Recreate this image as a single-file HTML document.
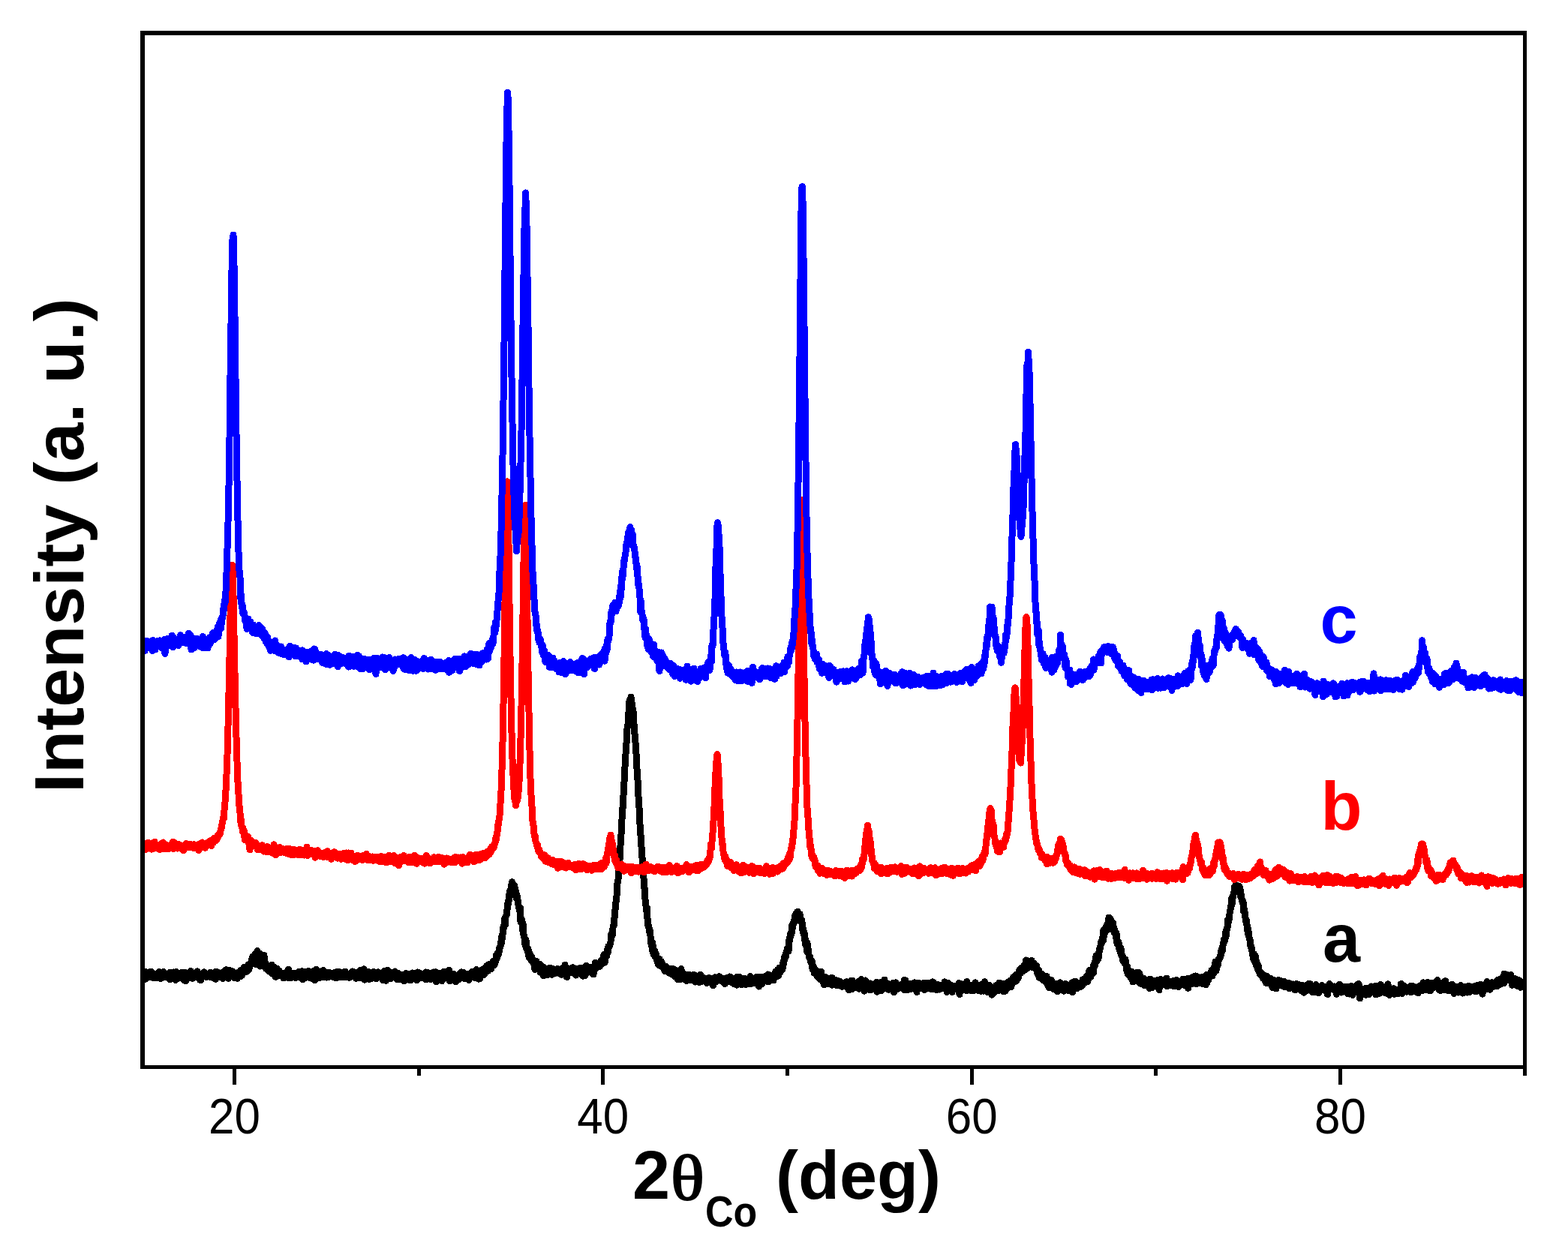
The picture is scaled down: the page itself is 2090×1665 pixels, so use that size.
<!DOCTYPE html>
<html><head><meta charset="utf-8"><style>
html,body{margin:0;padding:0;background:#fff;width:2090px;height:1665px;overflow:hidden}
svg{display:block}
text{font-family:"Liberation Sans",Arial,sans-serif}
</style></head><body>
<svg width="2090" height="1665" viewBox="0 0 2090 1665">
<defs><clipPath id="clip"><rect x="190" y="44" width="1842" height="1378"/></clipPath></defs>
<rect x="0" y="0" width="2090" height="1665" fill="#fff"/>
<g clip-path="url(#clip)" shape-rendering="crispEdges" fill="none" stroke-width="9.0" stroke-linejoin="round" stroke-linecap="round">
<path stroke="#000" d="M190.0,1304.0 L190.5,1299.0 L191.0,1299.6 L191.5,1299.0 L192.0,1302.2 L192.5,1300.4 L193.0,1302.7 L193.5,1295.2 L194.0,1305.1 L194.5,1300.3 L195.0,1302.6 L195.5,1300.3 L196.0,1299.6 L196.5,1302.0 L197.0,1303.1 L197.5,1300.1 L198.0,1300.3 L198.5,1302.8 L199.0,1298.3 L199.5,1296.4 L200.0,1301.9 L200.5,1298.8 L201.0,1295.2 L201.5,1298.4 L202.0,1299.4 L202.5,1297.3 L203.0,1296.5 L203.5,1300.9 L204.0,1303.4 L204.5,1300.1 L205.0,1298.6 L205.5,1301.9 L206.0,1302.8 L206.5,1299.9 L207.0,1302.3 L207.5,1303.8 L208.0,1300.2 L208.5,1298.4 L209.0,1301.8 L209.5,1301.5 L210.0,1303.9 L210.5,1297.0 L211.0,1298.8 L211.5,1298.3 L212.0,1295.7 L212.5,1301.1 L213.0,1302.3 L213.5,1298.6 L214.0,1304.7 L214.5,1303.1 L215.0,1302.5 L215.5,1301.9 L216.0,1303.5 L216.5,1296.8 L217.0,1302.5 L217.5,1302.5 L218.0,1295.6 L218.5,1301.7 L219.0,1300.0 L219.5,1303.0 L220.0,1299.4 L220.5,1300.6 L221.0,1301.7 L221.5,1298.1 L222.0,1302.4 L222.5,1300.4 L223.0,1302.1 L223.5,1299.2 L224.0,1303.8 L224.5,1302.4 L225.0,1300.1 L225.5,1302.5 L226.0,1304.3 L226.5,1305.9 L227.0,1296.1 L227.5,1303.2 L228.0,1302.0 L228.5,1300.4 L229.0,1297.7 L229.5,1304.3 L230.0,1297.0 L230.5,1302.3 L231.0,1304.4 L231.5,1296.0 L232.0,1299.7 L232.5,1296.8 L233.0,1301.3 L233.5,1305.0 L234.0,1306.5 L234.5,1295.5 L235.0,1298.9 L235.5,1302.6 L236.0,1305.2 L236.5,1301.8 L237.0,1298.4 L237.5,1301.5 L238.0,1300.5 L238.5,1300.0 L239.0,1298.5 L239.5,1301.7 L240.0,1301.5 L240.5,1300.3 L241.0,1299.9 L241.5,1296.8 L242.0,1299.2 L242.5,1304.1 L243.0,1300.0 L243.5,1296.4 L244.0,1304.4 L244.5,1302.1 L245.0,1306.7 L245.5,1300.7 L246.0,1299.2 L246.5,1296.3 L247.0,1304.4 L247.5,1308.0 L248.0,1298.1 L248.5,1298.6 L249.0,1302.2 L249.5,1298.1 L250.0,1299.7 L250.5,1299.5 L251.0,1301.1 L251.5,1303.7 L252.0,1300.5 L252.5,1303.1 L253.0,1299.3 L253.5,1301.4 L254.0,1294.3 L254.5,1296.3 L255.0,1302.8 L255.5,1298.7 L256.0,1302.1 L256.5,1302.0 L257.0,1304.3 L257.5,1302.8 L258.0,1303.4 L258.5,1300.1 L259.0,1298.4 L259.5,1298.3 L260.0,1299.0 L260.5,1297.1 L261.0,1298.8 L261.5,1300.1 L262.0,1301.1 L262.5,1299.4 L263.0,1294.8 L263.5,1300.2 L264.0,1301.0 L264.5,1303.5 L265.0,1302.0 L265.5,1298.5 L266.0,1298.3 L266.5,1306.2 L267.0,1302.5 L267.5,1305.7 L268.0,1306.5 L268.5,1298.0 L269.0,1301.4 L269.5,1301.6 L270.0,1301.9 L270.5,1301.9 L271.0,1300.9 L271.5,1300.8 L272.0,1295.9 L272.5,1299.8 L273.0,1298.1 L273.5,1300.6 L274.0,1298.9 L274.5,1302.0 L275.0,1302.6 L275.5,1301.1 L276.0,1301.2 L276.5,1300.5 L277.0,1298.9 L277.5,1299.7 L278.0,1298.8 L278.5,1301.3 L279.0,1300.2 L279.5,1301.9 L280.0,1296.3 L280.5,1302.7 L281.0,1297.9 L281.5,1298.0 L282.0,1299.6 L282.5,1298.5 L283.0,1301.0 L283.5,1298.4 L284.0,1297.0 L284.5,1297.6 L285.0,1303.9 L285.5,1300.2 L286.0,1296.7 L286.5,1300.1 L287.0,1295.5 L287.5,1305.2 L288.0,1295.6 L288.5,1301.4 L289.0,1301.6 L289.5,1295.8 L290.0,1300.8 L290.5,1302.9 L291.0,1301.3 L291.5,1300.7 L292.0,1302.7 L292.5,1300.4 L293.0,1300.9 L293.5,1299.5 L294.0,1301.7 L294.5,1297.1 L295.0,1302.1 L295.5,1298.4 L296.0,1296.7 L296.5,1300.9 L297.0,1304.7 L297.5,1302.6 L298.0,1298.3 L298.5,1301.8 L299.0,1298.4 L299.5,1299.3 L300.0,1299.9 L300.5,1292.9 L301.0,1300.2 L301.5,1296.6 L302.0,1292.9 L302.5,1295.3 L303.0,1295.1 L303.5,1296.8 L304.0,1301.9 L304.5,1304.3 L305.0,1299.4 L305.5,1302.6 L306.0,1298.6 L306.5,1293.8 L307.0,1299.8 L307.5,1300.6 L308.0,1298.0 L308.5,1300.1 L309.0,1300.9 L309.5,1296.7 L310.0,1294.8 L310.5,1298.4 L311.0,1298.4 L311.5,1298.0 L312.0,1301.8 L312.5,1303.9 L313.0,1297.6 L313.5,1300.8 L314.0,1301.4 L314.5,1300.7 L315.0,1301.6 L315.5,1297.4 L316.0,1300.6 L316.5,1304.2 L317.0,1300.6 L317.5,1296.3 L318.0,1299.8 L318.5,1301.6 L319.0,1298.8 L319.5,1296.0 L320.0,1302.0 L320.5,1293.7 L321.0,1298.6 L321.5,1296.9 L322.0,1293.3 L322.5,1300.1 L323.0,1297.3 L323.5,1292.7 L324.0,1297.5 L324.5,1294.2 L325.0,1289.6 L325.5,1292.8 L326.0,1295.2 L326.5,1295.9 L327.0,1294.1 L327.5,1293.3 L328.0,1294.1 L328.5,1291.6 L329.0,1295.1 L329.5,1291.6 L330.0,1291.4 L330.5,1291.5 L331.0,1286.2 L331.5,1286.6 L332.0,1292.3 L332.5,1288.2 L333.0,1285.6 L333.5,1286.7 L334.0,1283.5 L334.5,1284.9 L335.0,1281.3 L335.5,1283.2 L336.0,1277.0 L336.5,1284.6 L337.0,1278.5 L337.5,1274.5 L338.0,1277.7 L338.5,1276.4 L339.0,1277.2 L339.5,1272.7 L340.0,1276.5 L340.5,1285.2 L341.0,1270.5 L341.5,1274.7 L342.0,1272.4 L342.5,1273.5 L343.0,1267.4 L343.5,1269.2 L344.0,1273.8 L344.5,1272.4 L345.0,1277.4 L345.5,1270.9 L346.0,1273.8 L346.5,1288.1 L347.0,1271.9 L347.5,1272.1 L348.0,1275.2 L348.5,1275.9 L349.0,1279.2 L349.5,1277.8 L350.0,1276.1 L350.5,1279.7 L351.0,1287.5 L351.5,1284.4 L352.0,1273.5 L352.5,1282.0 L353.0,1280.7 L353.5,1285.8 L354.0,1284.3 L354.5,1291.2 L355.0,1289.1 L355.5,1289.7 L356.0,1288.3 L356.5,1288.4 L357.0,1290.2 L357.5,1293.6 L358.0,1292.0 L358.5,1290.0 L359.0,1295.2 L359.5,1292.6 L360.0,1292.3 L360.5,1290.7 L361.0,1291.8 L361.5,1292.0 L362.0,1286.2 L362.5,1297.6 L363.0,1296.6 L363.5,1294.7 L364.0,1298.6 L364.5,1297.1 L365.0,1297.2 L365.5,1289.2 L366.0,1295.9 L366.5,1298.3 L367.0,1301.6 L367.5,1302.4 L368.0,1301.4 L368.5,1294.0 L369.0,1291.2 L369.5,1299.3 L370.0,1297.9 L370.5,1300.7 L371.0,1297.6 L371.5,1298.7 L372.0,1293.8 L372.5,1299.5 L373.0,1297.0 L373.5,1299.4 L374.0,1299.8 L374.5,1298.2 L375.0,1299.5 L375.5,1298.6 L376.0,1300.8 L376.5,1300.1 L377.0,1297.1 L377.5,1297.1 L378.0,1303.9 L378.5,1298.6 L379.0,1301.8 L379.5,1300.1 L380.0,1297.3 L380.5,1296.8 L381.0,1299.3 L381.5,1299.8 L382.0,1300.8 L382.5,1295.4 L383.0,1297.4 L383.5,1298.8 L384.0,1303.8 L384.5,1292.3 L385.0,1300.4 L385.5,1297.6 L386.0,1300.5 L386.5,1297.8 L387.0,1300.3 L387.5,1303.8 L388.0,1300.3 L388.5,1300.5 L389.0,1300.4 L389.5,1297.1 L390.0,1300.9 L390.5,1298.7 L391.0,1297.0 L391.5,1299.3 L392.0,1298.7 L392.5,1301.6 L393.0,1299.3 L393.5,1297.9 L394.0,1303.6 L394.5,1302.3 L395.0,1303.1 L395.5,1301.2 L396.0,1299.1 L396.5,1298.3 L397.0,1298.7 L397.5,1302.2 L398.0,1299.8 L398.5,1295.2 L399.0,1299.4 L399.5,1295.4 L400.0,1300.0 L400.5,1296.0 L401.0,1295.9 L401.5,1299.9 L402.0,1299.3 L402.5,1294.7 L403.0,1301.7 L403.5,1305.8 L404.0,1295.3 L404.5,1304.8 L405.0,1297.6 L405.5,1298.1 L406.0,1299.1 L406.5,1295.4 L407.0,1303.4 L407.5,1301.0 L408.0,1297.4 L408.5,1298.8 L409.0,1295.2 L409.5,1298.6 L410.0,1302.3 L410.5,1294.6 L411.0,1298.3 L411.5,1300.0 L412.0,1302.7 L412.5,1303.5 L413.0,1298.3 L413.5,1297.5 L414.0,1300.9 L414.5,1298.6 L415.0,1298.7 L415.5,1302.8 L416.0,1304.5 L416.5,1300.4 L417.0,1299.1 L417.5,1301.3 L418.0,1294.2 L418.5,1299.6 L419.0,1296.6 L419.5,1306.6 L420.0,1301.7 L420.5,1300.1 L421.0,1299.1 L421.5,1292.3 L422.0,1301.7 L422.5,1304.4 L423.0,1297.5 L423.5,1301.6 L424.0,1301.7 L424.5,1295.2 L425.0,1302.4 L425.5,1303.6 L426.0,1300.3 L426.5,1299.5 L427.0,1301.9 L427.5,1295.2 L428.0,1299.9 L428.5,1302.7 L429.0,1296.0 L429.5,1302.5 L430.0,1298.4 L430.5,1293.6 L431.0,1299.3 L431.5,1296.8 L432.0,1300.6 L432.5,1296.2 L433.0,1302.7 L433.5,1297.5 L434.0,1300.7 L434.5,1297.9 L435.0,1298.7 L435.5,1303.1 L436.0,1300.3 L436.5,1298.5 L437.0,1296.0 L437.5,1303.0 L438.0,1301.8 L438.5,1298.7 L439.0,1300.3 L439.5,1296.6 L440.0,1296.7 L440.5,1297.2 L441.0,1300.6 L441.5,1300.5 L442.0,1297.5 L442.5,1301.8 L443.0,1301.9 L443.5,1300.1 L444.0,1302.6 L444.5,1298.8 L445.0,1299.3 L445.5,1301.0 L446.0,1299.5 L446.5,1301.9 L447.0,1296.0 L447.5,1303.7 L448.0,1297.3 L448.5,1299.1 L449.0,1295.6 L449.5,1301.3 L450.0,1303.3 L450.5,1302.7 L451.0,1302.0 L451.5,1295.1 L452.0,1297.3 L452.5,1298.2 L453.0,1296.9 L453.5,1302.8 L454.0,1300.1 L454.5,1299.5 L455.0,1301.0 L455.5,1296.8 L456.0,1296.9 L456.5,1297.0 L457.0,1301.0 L457.5,1300.6 L458.0,1301.2 L458.5,1302.7 L459.0,1295.6 L459.5,1297.9 L460.0,1300.0 L460.5,1295.6 L461.0,1298.0 L461.5,1302.5 L462.0,1302.7 L462.5,1302.7 L463.0,1299.7 L463.5,1298.9 L464.0,1302.7 L464.5,1298.4 L465.0,1300.5 L465.5,1303.4 L466.0,1298.5 L466.5,1297.7 L467.0,1299.5 L467.5,1301.2 L468.0,1300.9 L468.5,1300.0 L469.0,1301.1 L469.5,1294.9 L470.0,1297.0 L470.5,1300.0 L471.0,1296.8 L471.5,1295.6 L472.0,1296.0 L472.5,1296.8 L473.0,1299.0 L473.5,1296.5 L474.0,1300.2 L474.5,1304.4 L475.0,1299.0 L475.5,1303.2 L476.0,1300.3 L476.5,1296.2 L477.0,1298.7 L477.5,1296.6 L478.0,1301.7 L478.5,1296.1 L479.0,1303.3 L479.5,1301.1 L480.0,1293.6 L480.5,1301.7 L481.0,1303.9 L481.5,1297.1 L482.0,1302.3 L482.5,1294.2 L483.0,1300.1 L483.5,1294.6 L484.0,1300.8 L484.5,1294.2 L485.0,1291.8 L485.5,1300.6 L486.0,1306.1 L486.5,1297.7 L487.0,1301.9 L487.5,1299.8 L488.0,1298.5 L488.5,1301.3 L489.0,1304.3 L489.5,1295.9 L490.0,1301.2 L490.5,1300.6 L491.0,1295.4 L491.5,1304.3 L492.0,1305.3 L492.5,1296.9 L493.0,1304.7 L493.5,1299.8 L494.0,1299.2 L494.5,1304.0 L495.0,1300.3 L495.5,1300.6 L496.0,1304.1 L496.5,1303.5 L497.0,1302.3 L497.5,1295.7 L498.0,1295.2 L498.5,1303.1 L499.0,1297.1 L499.5,1300.2 L500.0,1296.7 L500.5,1299.3 L501.0,1296.1 L501.5,1304.6 L502.0,1296.9 L502.5,1299.5 L503.0,1299.4 L503.5,1303.4 L504.0,1295.8 L504.5,1299.9 L505.0,1299.4 L505.5,1301.5 L506.0,1301.4 L506.5,1298.7 L507.0,1300.7 L507.5,1298.9 L508.0,1301.4 L508.5,1299.8 L509.0,1298.2 L509.5,1300.0 L510.0,1301.2 L510.5,1306.7 L511.0,1298.7 L511.5,1301.0 L512.0,1304.4 L512.5,1294.1 L513.0,1295.1 L513.5,1296.7 L514.0,1299.9 L514.5,1307.3 L515.0,1301.4 L515.5,1303.7 L516.0,1299.6 L516.5,1293.1 L517.0,1293.6 L517.5,1303.3 L518.0,1300.8 L518.5,1296.6 L519.0,1303.6 L519.5,1295.9 L520.0,1303.7 L520.5,1304.6 L521.0,1298.2 L521.5,1297.2 L522.0,1302.9 L522.5,1297.2 L523.0,1302.9 L523.5,1297.0 L524.0,1302.8 L524.5,1300.7 L525.0,1299.2 L525.5,1297.9 L526.0,1301.2 L526.5,1295.0 L527.0,1299.7 L527.5,1299.4 L528.0,1302.5 L528.5,1296.9 L529.0,1305.6 L529.5,1299.7 L530.0,1297.3 L530.5,1304.6 L531.0,1305.5 L531.5,1300.1 L532.0,1298.1 L532.5,1300.7 L533.0,1298.7 L533.5,1299.8 L534.0,1305.2 L534.5,1301.9 L535.0,1301.1 L535.5,1301.7 L536.0,1300.6 L536.5,1303.2 L537.0,1303.3 L537.5,1299.7 L538.0,1301.1 L538.5,1307.8 L539.0,1302.0 L539.5,1300.3 L540.0,1306.8 L540.5,1300.9 L541.0,1297.7 L541.5,1302.8 L542.0,1298.3 L542.5,1299.5 L543.0,1301.8 L543.5,1300.5 L544.0,1298.7 L544.5,1299.3 L545.0,1299.2 L545.5,1304.3 L546.0,1298.9 L546.5,1299.3 L547.0,1306.9 L547.5,1299.4 L548.0,1305.3 L548.5,1304.8 L549.0,1300.6 L549.5,1296.9 L550.0,1302.4 L550.5,1303.0 L551.0,1303.9 L551.5,1301.3 L552.0,1304.6 L552.5,1305.1 L553.0,1298.0 L553.5,1305.3 L554.0,1301.6 L554.5,1299.5 L555.0,1300.2 L555.5,1306.6 L556.0,1304.0 L556.5,1296.0 L557.0,1301.4 L557.5,1300.8 L558.0,1300.7 L558.5,1299.7 L559.0,1297.0 L559.5,1303.7 L560.0,1298.5 L560.5,1300.2 L561.0,1299.5 L561.5,1299.1 L562.0,1303.4 L562.5,1302.4 L563.0,1299.3 L563.5,1298.5 L564.0,1299.9 L564.5,1304.1 L565.0,1301.7 L565.5,1302.0 L566.0,1300.4 L566.5,1300.6 L567.0,1302.0 L567.5,1296.0 L568.0,1306.0 L568.5,1299.1 L569.0,1299.7 L569.5,1305.2 L570.0,1302.0 L570.5,1301.5 L571.0,1299.7 L571.5,1296.9 L572.0,1301.9 L572.5,1304.9 L573.0,1298.8 L573.5,1305.4 L574.0,1298.1 L574.5,1299.3 L575.0,1302.9 L575.5,1301.4 L576.0,1303.4 L576.5,1299.3 L577.0,1298.4 L577.5,1296.0 L578.0,1298.0 L578.5,1298.3 L579.0,1297.3 L579.5,1302.4 L580.0,1299.5 L580.5,1295.7 L581.0,1308.7 L581.5,1299.0 L582.0,1297.8 L582.5,1305.1 L583.0,1304.9 L583.5,1298.1 L584.0,1297.2 L584.5,1298.6 L585.0,1304.8 L585.5,1300.6 L586.0,1299.1 L586.5,1301.4 L587.0,1305.0 L587.5,1297.5 L588.0,1300.4 L588.5,1297.5 L589.0,1307.8 L589.5,1306.8 L590.0,1304.2 L590.5,1301.1 L591.0,1303.4 L591.5,1295.4 L592.0,1302.3 L592.5,1297.6 L593.0,1297.6 L593.5,1299.4 L594.0,1300.5 L594.5,1303.1 L595.0,1303.5 L595.5,1302.2 L596.0,1298.7 L596.5,1303.4 L597.0,1301.1 L597.5,1304.9 L598.0,1298.8 L598.5,1293.4 L599.0,1300.0 L599.5,1307.7 L600.0,1302.8 L600.5,1300.8 L601.0,1304.0 L601.5,1302.8 L602.0,1302.7 L602.5,1299.9 L603.0,1301.6 L603.5,1301.9 L604.0,1299.5 L604.5,1298.1 L605.0,1301.7 L605.5,1304.1 L606.0,1303.2 L606.5,1302.7 L607.0,1302.7 L607.5,1308.7 L608.0,1302.0 L608.5,1304.2 L609.0,1306.9 L609.5,1301.3 L610.0,1301.9 L610.5,1304.2 L611.0,1306.0 L611.5,1302.0 L612.0,1302.2 L612.5,1301.3 L613.0,1297.6 L613.5,1304.3 L614.0,1300.3 L614.5,1296.0 L615.0,1300.5 L615.5,1295.9 L616.0,1298.0 L616.5,1301.0 L617.0,1298.2 L617.5,1304.0 L618.0,1296.6 L618.5,1301.6 L619.0,1302.4 L619.5,1305.0 L620.0,1303.4 L620.5,1301.4 L621.0,1300.9 L621.5,1300.4 L622.0,1303.9 L622.5,1298.6 L623.0,1302.0 L623.5,1300.2 L624.0,1301.1 L624.5,1299.6 L625.0,1306.5 L625.5,1298.4 L626.0,1301.0 L626.5,1301.0 L627.0,1301.9 L627.5,1301.4 L628.0,1301.3 L628.5,1302.8 L629.0,1295.5 L629.5,1299.8 L630.0,1296.1 L630.5,1300.3 L631.0,1296.1 L631.5,1296.6 L632.0,1299.1 L632.5,1303.3 L633.0,1300.8 L633.5,1299.9 L634.0,1303.0 L634.5,1296.1 L635.0,1292.6 L635.5,1297.3 L636.0,1297.7 L636.5,1301.9 L637.0,1304.4 L637.5,1294.2 L638.0,1305.1 L638.5,1302.4 L639.0,1300.1 L639.5,1298.6 L640.0,1304.4 L640.5,1297.5 L641.0,1295.7 L641.5,1297.3 L642.0,1292.8 L642.5,1297.9 L643.0,1296.1 L643.5,1297.2 L644.0,1297.1 L644.5,1292.7 L645.0,1299.4 L645.5,1292.4 L646.0,1297.7 L646.5,1290.3 L647.0,1295.7 L647.5,1292.0 L648.0,1294.3 L648.5,1292.0 L649.0,1287.2 L649.5,1290.0 L650.0,1293.1 L650.5,1294.4 L651.0,1287.9 L651.5,1285.6 L652.0,1288.8 L652.5,1290.3 L653.0,1288.6 L653.5,1287.6 L654.0,1291.9 L654.5,1291.7 L655.0,1290.5 L655.5,1285.0 L656.0,1287.3 L656.5,1285.8 L657.0,1281.5 L657.5,1287.4 L658.0,1284.3 L658.5,1281.8 L659.0,1286.4 L659.5,1283.5 L660.0,1282.8 L660.5,1282.7 L661.0,1280.1 L661.5,1273.2 L662.0,1274.5 L662.5,1277.2 L663.0,1270.6 L663.5,1271.5 L664.0,1271.0 L664.5,1272.4 L665.0,1270.2 L665.5,1267.3 L666.0,1262.3 L666.5,1263.6 L667.0,1260.4 L667.5,1256.3 L668.0,1258.6 L668.5,1253.8 L669.0,1247.8 L669.5,1251.3 L670.0,1244.4 L670.5,1244.3 L671.0,1235.6 L671.5,1237.3 L672.0,1231.8 L672.5,1229.0 L673.0,1223.4 L673.5,1232.3 L674.0,1222.8 L674.5,1221.0 L675.0,1220.6 L675.5,1214.1 L676.0,1213.0 L676.5,1204.7 L677.0,1206.4 L677.5,1201.8 L678.0,1201.8 L678.5,1198.3 L679.0,1191.3 L679.5,1187.7 L680.0,1188.0 L680.5,1191.1 L681.0,1188.5 L681.5,1186.9 L682.0,1178.6 L682.5,1175.7 L683.0,1180.9 L683.5,1181.3 L684.0,1180.4 L684.5,1183.3 L685.0,1182.2 L685.5,1179.9 L686.0,1181.7 L686.5,1185.9 L687.0,1187.2 L687.5,1188.5 L688.0,1197.1 L688.5,1191.9 L689.0,1195.3 L689.5,1194.4 L690.0,1198.8 L690.5,1204.0 L691.0,1206.8 L691.5,1207.5 L692.0,1211.9 L692.5,1213.8 L693.0,1211.1 L693.5,1209.9 L694.0,1229.0 L694.5,1227.6 L695.0,1227.8 L695.5,1225.7 L696.0,1229.8 L696.5,1240.1 L697.0,1230.7 L697.5,1240.5 L698.0,1246.4 L698.5,1246.7 L699.0,1250.9 L699.5,1250.6 L700.0,1260.1 L700.5,1252.3 L701.0,1253.4 L701.5,1260.1 L702.0,1265.4 L702.5,1262.9 L703.0,1267.8 L703.5,1264.9 L704.0,1264.6 L704.5,1273.6 L705.0,1275.5 L705.5,1276.7 L706.0,1277.6 L706.5,1271.5 L707.0,1272.6 L707.5,1276.4 L708.0,1279.8 L708.5,1280.6 L709.0,1275.9 L709.5,1281.5 L710.0,1281.8 L710.5,1282.7 L711.0,1283.1 L711.5,1283.3 L712.0,1286.3 L712.5,1285.5 L713.0,1292.3 L713.5,1284.2 L714.0,1287.9 L714.5,1286.9 L715.0,1281.5 L715.5,1289.5 L716.0,1287.7 L716.5,1291.5 L717.0,1288.7 L717.5,1289.2 L718.0,1290.4 L718.5,1290.0 L719.0,1289.0 L719.5,1285.4 L720.0,1296.1 L720.5,1286.5 L721.0,1290.2 L721.5,1293.3 L722.0,1292.7 L722.5,1293.4 L723.0,1294.2 L723.5,1295.8 L724.0,1293.1 L724.5,1300.8 L725.0,1289.6 L725.5,1293.3 L726.0,1291.8 L726.5,1291.3 L727.0,1293.9 L727.5,1297.4 L728.0,1291.2 L728.5,1291.3 L729.0,1295.5 L729.5,1295.1 L730.0,1299.3 L730.5,1296.7 L731.0,1294.5 L731.5,1292.9 L732.0,1294.6 L732.5,1293.5 L733.0,1290.2 L733.5,1294.2 L734.0,1293.8 L734.5,1293.7 L735.0,1293.2 L735.5,1299.4 L736.0,1296.6 L736.5,1297.3 L737.0,1292.9 L737.5,1291.7 L738.0,1293.9 L738.5,1295.5 L739.0,1293.8 L739.5,1294.3 L740.0,1297.7 L740.5,1295.8 L741.0,1292.2 L741.5,1293.8 L742.0,1293.2 L742.5,1295.6 L743.0,1291.7 L743.5,1294.6 L744.0,1297.2 L744.5,1295.3 L745.0,1292.6 L745.5,1293.5 L746.0,1295.6 L746.5,1296.7 L747.0,1297.7 L747.5,1294.9 L748.0,1291.5 L748.5,1299.4 L749.0,1296.2 L749.5,1296.5 L750.0,1296.2 L750.5,1292.3 L751.0,1294.4 L751.5,1296.1 L752.0,1298.3 L752.5,1295.5 L753.0,1286.2 L753.5,1294.6 L754.0,1296.3 L754.5,1299.0 L755.0,1297.3 L755.5,1302.5 L756.0,1299.3 L756.5,1299.1 L757.0,1297.9 L757.5,1291.1 L758.0,1297.6 L758.5,1296.8 L759.0,1293.5 L759.5,1296.7 L760.0,1296.2 L760.5,1293.7 L761.0,1294.7 L761.5,1294.4 L762.0,1295.9 L762.5,1294.0 L763.0,1296.9 L763.5,1289.8 L764.0,1294.6 L764.5,1290.5 L765.0,1294.0 L765.5,1297.0 L766.0,1295.6 L766.5,1295.2 L767.0,1295.8 L767.5,1300.1 L768.0,1292.4 L768.5,1298.2 L769.0,1291.3 L769.5,1294.3 L770.0,1296.1 L770.5,1293.2 L771.0,1296.3 L771.5,1297.8 L772.0,1292.2 L772.5,1295.5 L773.0,1294.6 L773.5,1290.1 L774.0,1295.1 L774.5,1293.4 L775.0,1299.5 L775.5,1293.1 L776.0,1300.5 L776.5,1294.0 L777.0,1301.2 L777.5,1297.1 L778.0,1290.4 L778.5,1297.8 L779.0,1298.0 L779.5,1299.4 L780.0,1300.4 L780.5,1294.3 L781.0,1291.6 L781.5,1287.4 L782.0,1294.0 L782.5,1297.2 L783.0,1296.0 L783.5,1295.2 L784.0,1293.8 L784.5,1292.8 L785.0,1293.8 L785.5,1295.5 L786.0,1289.1 L786.5,1296.1 L787.0,1289.6 L787.5,1293.1 L788.0,1291.5 L788.5,1292.1 L789.0,1289.9 L789.5,1289.3 L790.0,1291.7 L790.5,1289.0 L791.0,1299.0 L791.5,1290.4 L792.0,1289.4 L792.5,1289.4 L793.0,1287.6 L793.5,1283.3 L794.0,1289.3 L794.5,1290.6 L795.0,1285.0 L795.5,1289.1 L796.0,1285.2 L796.5,1288.2 L797.0,1288.9 L797.5,1288.9 L798.0,1288.3 L798.5,1284.6 L799.0,1288.7 L799.5,1284.4 L800.0,1286.2 L800.5,1286.7 L801.0,1283.3 L801.5,1279.8 L802.0,1284.8 L802.5,1279.1 L803.0,1279.1 L803.5,1277.8 L804.0,1282.8 L804.5,1279.1 L805.0,1272.3 L805.5,1280.1 L806.0,1283.1 L806.5,1281.4 L807.0,1273.5 L807.5,1274.4 L808.0,1274.5 L808.5,1274.5 L809.0,1270.8 L809.5,1266.2 L810.0,1270.2 L810.5,1268.3 L811.0,1261.2 L811.5,1262.3 L812.0,1262.4 L812.5,1259.8 L813.0,1259.4 L813.5,1258.1 L814.0,1255.1 L814.5,1250.9 L815.0,1244.8 L815.5,1247.9 L816.0,1247.3 L816.5,1246.0 L817.0,1237.1 L817.5,1233.8 L818.0,1234.6 L818.5,1230.8 L819.0,1223.8 L819.5,1220.7 L820.0,1212.1 L820.5,1211.5 L821.0,1202.6 L821.5,1199.6 L822.0,1194.4 L822.5,1188.0 L823.0,1177.5 L823.5,1175.2 L824.0,1172.4 L824.5,1164.8 L825.0,1157.1 L825.5,1152.5 L826.0,1146.1 L826.5,1139.1 L827.0,1126.7 L827.5,1121.2 L828.0,1112.1 L828.5,1102.2 L829.0,1092.0 L829.5,1087.4 L830.0,1076.4 L830.5,1076.3 L831.0,1060.8 L831.5,1051.4 L832.0,1041.8 L832.5,1039.4 L833.0,1022.2 L833.5,1015.6 L834.0,1005.1 L834.5,998.4 L835.0,990.4 L835.5,985.8 L836.0,970.9 L836.5,967.9 L837.0,966.1 L837.5,953.9 L838.0,949.5 L838.5,942.9 L839.0,934.0 L839.5,938.2 L840.0,939.7 L840.5,933.6 L841.0,929.2 L841.5,935.8 L842.0,936.6 L842.5,941.5 L843.0,944.3 L843.5,944.7 L844.0,951.3 L844.5,950.3 L845.0,964.8 L845.5,968.7 L846.0,978.4 L846.5,985.9 L847.0,989.9 L847.5,998.6 L848.0,1005.0 L848.5,1010.3 L849.0,1024.9 L849.5,1034.7 L850.0,1040.2 L850.5,1054.5 L851.0,1061.7 L851.5,1071.7 L852.0,1077.1 L852.5,1083.0 L853.0,1099.0 L853.5,1107.0 L854.0,1113.2 L854.5,1120.4 L855.0,1128.7 L855.5,1136.8 L856.0,1143.2 L856.5,1146.0 L857.0,1161.1 L857.5,1161.2 L858.0,1171.1 L858.5,1177.4 L859.0,1185.0 L859.5,1185.3 L860.0,1199.0 L860.5,1202.6 L861.0,1208.0 L861.5,1214.2 L862.0,1212.8 L862.5,1210.4 L863.0,1224.5 L863.5,1231.3 L864.0,1234.6 L864.5,1233.2 L865.0,1237.8 L865.5,1242.0 L866.0,1238.9 L866.5,1245.1 L867.0,1247.8 L867.5,1256.8 L868.0,1252.6 L868.5,1261.3 L869.0,1258.9 L869.5,1256.0 L870.0,1269.2 L870.5,1261.7 L871.0,1267.9 L871.5,1272.7 L872.0,1267.6 L872.5,1267.0 L873.0,1274.9 L873.5,1273.3 L874.0,1270.7 L874.5,1272.3 L875.0,1275.3 L875.5,1280.3 L876.0,1277.6 L876.5,1281.2 L877.0,1284.9 L877.5,1284.6 L878.0,1285.9 L878.5,1286.0 L879.0,1278.5 L879.5,1287.4 L880.0,1285.4 L880.5,1284.7 L881.0,1282.5 L881.5,1281.6 L882.0,1283.5 L882.5,1287.2 L883.0,1284.4 L883.5,1285.9 L884.0,1286.9 L884.5,1291.1 L885.0,1288.7 L885.5,1289.6 L886.0,1294.3 L886.5,1289.9 L887.0,1292.9 L887.5,1288.5 L888.0,1292.8 L888.5,1292.6 L889.0,1293.1 L889.5,1291.5 L890.0,1290.2 L890.5,1292.6 L891.0,1292.4 L891.5,1297.1 L892.0,1297.0 L892.5,1291.2 L893.0,1296.7 L893.5,1293.8 L894.0,1296.7 L894.5,1294.3 L895.0,1291.6 L895.5,1299.1 L896.0,1297.7 L896.5,1293.0 L897.0,1291.3 L897.5,1295.5 L898.0,1293.8 L898.5,1296.4 L899.0,1299.4 L899.5,1302.1 L900.0,1297.0 L900.5,1302.2 L901.0,1301.7 L901.5,1297.3 L902.0,1293.9 L902.5,1301.3 L903.0,1300.8 L903.5,1306.0 L904.0,1303.5 L904.5,1301.8 L905.0,1304.6 L905.5,1296.8 L906.0,1300.5 L906.5,1299.3 L907.0,1305.3 L907.5,1302.0 L908.0,1291.6 L908.5,1304.6 L909.0,1298.1 L909.5,1303.1 L910.0,1299.6 L910.5,1301.8 L911.0,1303.1 L911.5,1301.9 L912.0,1298.7 L912.5,1305.7 L913.0,1302.9 L913.5,1301.8 L914.0,1304.0 L914.5,1300.5 L915.0,1307.6 L915.5,1302.9 L916.0,1303.4 L916.5,1303.4 L917.0,1299.9 L917.5,1299.2 L918.0,1303.3 L918.5,1303.8 L919.0,1306.8 L919.5,1304.3 L920.0,1299.9 L920.5,1304.6 L921.0,1305.6 L921.5,1306.2 L922.0,1304.3 L922.5,1299.9 L923.0,1306.9 L923.5,1301.5 L924.0,1305.3 L924.5,1299.2 L925.0,1306.0 L925.5,1301.6 L926.0,1307.1 L926.5,1309.1 L927.0,1307.4 L927.5,1300.7 L928.0,1301.4 L928.5,1301.7 L929.0,1306.2 L929.5,1305.4 L930.0,1304.9 L930.5,1305.4 L931.0,1306.2 L931.5,1306.5 L932.0,1309.5 L932.5,1304.5 L933.0,1305.3 L933.5,1299.4 L934.0,1301.0 L934.5,1302.9 L935.0,1301.5 L935.5,1305.6 L936.0,1308.1 L936.5,1303.8 L937.0,1303.7 L937.5,1303.7 L938.0,1305.6 L938.5,1303.7 L939.0,1306.5 L939.5,1306.2 L940.0,1306.4 L940.5,1307.6 L941.0,1305.6 L941.5,1305.9 L942.0,1310.6 L942.5,1305.5 L943.0,1307.9 L943.5,1305.8 L944.0,1304.4 L944.5,1304.4 L945.0,1303.4 L945.5,1305.8 L946.0,1304.1 L946.5,1304.6 L947.0,1309.4 L947.5,1305.5 L948.0,1309.3 L948.5,1306.8 L949.0,1308.5 L949.5,1304.3 L950.0,1306.5 L950.5,1313.8 L951.0,1308.6 L951.5,1309.1 L952.0,1306.9 L952.5,1308.8 L953.0,1302.9 L953.5,1303.9 L954.0,1307.6 L954.5,1308.8 L955.0,1305.2 L955.5,1305.9 L956.0,1305.4 L956.5,1306.0 L957.0,1303.1 L957.5,1302.4 L958.0,1306.4 L958.5,1301.6 L959.0,1303.8 L959.5,1304.8 L960.0,1303.7 L960.5,1307.4 L961.0,1305.5 L961.5,1306.5 L962.0,1303.9 L962.5,1304.7 L963.0,1308.3 L963.5,1307.9 L964.0,1305.5 L964.5,1308.0 L965.0,1307.5 L965.5,1307.4 L966.0,1311.6 L966.5,1305.8 L967.0,1308.2 L967.5,1308.3 L968.0,1306.4 L968.5,1303.7 L969.0,1309.1 L969.5,1307.9 L970.0,1307.3 L970.5,1307.2 L971.0,1307.2 L971.5,1304.6 L972.0,1308.0 L972.5,1302.0 L973.0,1307.1 L973.5,1302.9 L974.0,1306.2 L974.5,1309.3 L975.0,1306.5 L975.5,1305.9 L976.0,1308.8 L976.5,1306.5 L977.0,1306.1 L977.5,1306.2 L978.0,1311.7 L978.5,1309.3 L979.0,1308.7 L979.5,1303.9 L980.0,1309.2 L980.5,1303.6 L981.0,1308.8 L981.5,1304.2 L982.0,1313.1 L982.5,1302.5 L983.0,1311.0 L983.5,1309.7 L984.0,1302.3 L984.5,1306.7 L985.0,1311.6 L985.5,1310.7 L986.0,1302.6 L986.5,1305.9 L987.0,1304.0 L987.5,1304.5 L988.0,1305.6 L988.5,1312.8 L989.0,1307.8 L989.5,1306.8 L990.0,1306.5 L990.5,1309.4 L991.0,1309.5 L991.5,1304.8 L992.0,1311.7 L992.5,1304.3 L993.0,1306.6 L993.5,1308.7 L994.0,1312.4 L994.5,1306.4 L995.0,1308.3 L995.5,1311.2 L996.0,1309.2 L996.5,1310.7 L997.0,1310.4 L997.5,1308.1 L998.0,1309.2 L998.5,1310.0 L999.0,1307.3 L999.5,1312.0 L1000.0,1301.6 L1000.5,1304.6 L1001.0,1311.5 L1001.5,1308.5 L1002.0,1305.4 L1002.5,1308.3 L1003.0,1310.4 L1003.5,1305.6 L1004.0,1309.4 L1004.5,1306.8 L1005.0,1306.8 L1005.5,1306.9 L1006.0,1310.3 L1006.5,1303.8 L1007.0,1306.0 L1007.5,1308.9 L1008.0,1303.4 L1008.5,1302.3 L1009.0,1308.5 L1009.5,1306.9 L1010.0,1306.4 L1010.5,1307.2 L1011.0,1303.9 L1011.5,1315.1 L1012.0,1303.8 L1012.5,1305.3 L1013.0,1302.4 L1013.5,1305.3 L1014.0,1310.9 L1014.5,1306.4 L1015.0,1308.1 L1015.5,1304.9 L1016.0,1311.5 L1016.5,1306.6 L1017.0,1302.5 L1017.5,1308.2 L1018.0,1304.9 L1018.5,1307.6 L1019.0,1306.2 L1019.5,1306.4 L1020.0,1306.0 L1020.5,1302.9 L1021.0,1301.0 L1021.5,1308.1 L1022.0,1304.8 L1022.5,1305.9 L1023.0,1303.6 L1023.5,1299.0 L1024.0,1301.0 L1024.5,1308.6 L1025.0,1302.1 L1025.5,1303.2 L1026.0,1299.9 L1026.5,1302.4 L1027.0,1302.7 L1027.5,1302.9 L1028.0,1303.1 L1028.5,1301.3 L1029.0,1301.3 L1029.5,1302.6 L1030.0,1303.4 L1030.5,1301.7 L1031.0,1306.9 L1031.5,1302.2 L1032.0,1301.7 L1032.5,1299.0 L1033.0,1303.5 L1033.5,1297.2 L1034.0,1295.0 L1034.5,1296.4 L1035.0,1300.6 L1035.5,1295.0 L1036.0,1301.5 L1036.5,1297.1 L1037.0,1292.2 L1037.5,1295.3 L1038.0,1300.4 L1038.5,1292.1 L1039.0,1290.0 L1039.5,1294.5 L1040.0,1295.9 L1040.5,1294.2 L1041.0,1289.3 L1041.5,1289.8 L1042.0,1289.2 L1042.5,1290.5 L1043.0,1292.2 L1043.5,1284.4 L1044.0,1287.2 L1044.5,1281.1 L1045.0,1282.4 L1045.5,1276.5 L1046.0,1275.5 L1046.5,1277.3 L1047.0,1271.9 L1047.5,1275.3 L1048.0,1269.4 L1048.5,1269.4 L1049.0,1267.0 L1049.5,1264.4 L1050.0,1263.7 L1050.5,1264.5 L1051.0,1268.2 L1051.5,1253.7 L1052.0,1255.8 L1052.5,1252.3 L1053.0,1247.9 L1053.5,1249.2 L1054.0,1243.6 L1054.5,1243.7 L1055.0,1245.3 L1055.5,1233.6 L1056.0,1238.1 L1056.5,1236.5 L1057.0,1230.4 L1057.5,1232.8 L1058.0,1230.4 L1058.5,1226.6 L1059.0,1229.5 L1059.5,1220.8 L1060.0,1225.1 L1060.5,1221.4 L1061.0,1218.1 L1061.5,1219.9 L1062.0,1218.9 L1062.5,1222.0 L1063.0,1215.2 L1063.5,1219.1 L1064.0,1218.6 L1064.5,1225.1 L1065.0,1218.1 L1065.5,1225.4 L1066.0,1218.4 L1066.5,1225.8 L1067.0,1225.9 L1067.5,1229.0 L1068.0,1227.7 L1068.5,1225.9 L1069.0,1229.1 L1069.5,1239.4 L1070.0,1238.4 L1070.5,1237.4 L1071.0,1244.8 L1071.5,1242.2 L1072.0,1244.5 L1072.5,1245.4 L1073.0,1254.6 L1073.5,1259.1 L1074.0,1252.8 L1074.5,1258.7 L1075.0,1262.8 L1075.5,1268.2 L1076.0,1257.2 L1076.5,1266.6 L1077.0,1270.0 L1077.5,1265.8 L1078.0,1273.1 L1078.5,1274.3 L1079.0,1277.5 L1079.5,1275.4 L1080.0,1280.0 L1080.5,1278.5 L1081.0,1283.5 L1081.5,1283.7 L1082.0,1283.5 L1082.5,1281.8 L1083.0,1292.0 L1083.5,1291.6 L1084.0,1292.1 L1084.5,1288.7 L1085.0,1290.6 L1085.5,1297.5 L1086.0,1295.7 L1086.5,1292.0 L1087.0,1295.4 L1087.5,1296.5 L1088.0,1296.2 L1088.5,1294.8 L1089.0,1301.8 L1089.5,1300.6 L1090.0,1298.9 L1090.5,1295.5 L1091.0,1298.9 L1091.5,1301.0 L1092.0,1304.1 L1092.5,1300.9 L1093.0,1305.6 L1093.5,1303.2 L1094.0,1301.0 L1094.5,1295.5 L1095.0,1300.5 L1095.5,1299.9 L1096.0,1304.1 L1096.5,1305.8 L1097.0,1309.1 L1097.5,1305.3 L1098.0,1302.2 L1098.5,1312.7 L1099.0,1307.0 L1099.5,1305.5 L1100.0,1305.7 L1100.5,1302.8 L1101.0,1308.7 L1101.5,1308.1 L1102.0,1311.8 L1102.5,1310.6 L1103.0,1310.1 L1103.5,1311.4 L1104.0,1307.0 L1104.5,1306.7 L1105.0,1308.0 L1105.5,1304.7 L1106.0,1308.0 L1106.5,1307.6 L1107.0,1310.6 L1107.5,1308.7 L1108.0,1303.3 L1108.5,1309.1 L1109.0,1313.2 L1109.5,1303.9 L1110.0,1307.1 L1110.5,1309.5 L1111.0,1305.7 L1111.5,1308.0 L1112.0,1309.9 L1112.5,1306.0 L1113.0,1310.7 L1113.5,1311.1 L1114.0,1306.4 L1114.5,1310.2 L1115.0,1313.3 L1115.5,1309.8 L1116.0,1311.6 L1116.5,1312.3 L1117.0,1309.8 L1117.5,1313.4 L1118.0,1311.8 L1118.5,1307.9 L1119.0,1312.3 L1119.5,1313.4 L1120.0,1313.3 L1120.5,1309.1 L1121.0,1312.4 L1121.5,1315.1 L1122.0,1311.9 L1122.5,1314.7 L1123.0,1315.1 L1123.5,1311.3 L1124.0,1313.3 L1124.5,1310.6 L1125.0,1314.6 L1125.5,1311.3 L1126.0,1310.0 L1126.5,1311.6 L1127.0,1311.5 L1127.5,1312.9 L1128.0,1313.2 L1128.5,1308.5 L1129.0,1310.1 L1129.5,1313.0 L1130.0,1313.4 L1130.5,1312.3 L1131.0,1319.8 L1131.5,1315.4 L1132.0,1312.0 L1132.5,1314.4 L1133.0,1316.2 L1133.5,1313.4 L1134.0,1307.3 L1134.5,1312.7 L1135.0,1312.6 L1135.5,1318.7 L1136.0,1307.2 L1136.5,1317.1 L1137.0,1312.2 L1137.5,1315.4 L1138.0,1311.9 L1138.5,1313.3 L1139.0,1316.1 L1139.5,1313.1 L1140.0,1316.0 L1140.5,1312.7 L1141.0,1311.8 L1141.5,1312.4 L1142.0,1311.6 L1142.5,1312.7 L1143.0,1317.1 L1143.5,1309.7 L1144.0,1308.4 L1144.5,1313.2 L1145.0,1318.1 L1145.5,1316.3 L1146.0,1317.1 L1146.5,1317.0 L1147.0,1311.3 L1147.5,1313.7 L1148.0,1305.7 L1148.5,1311.7 L1149.0,1315.3 L1149.5,1309.0 L1150.0,1307.6 L1150.5,1309.8 L1151.0,1314.2 L1151.5,1317.0 L1152.0,1321.1 L1152.5,1317.8 L1153.0,1309.3 L1153.5,1307.0 L1154.0,1314.2 L1154.5,1316.8 L1155.0,1309.1 L1155.5,1312.3 L1156.0,1312.5 L1156.5,1313.9 L1157.0,1313.3 L1157.5,1315.4 L1158.0,1316.9 L1158.5,1314.1 L1159.0,1316.1 L1159.5,1319.7 L1160.0,1311.0 L1160.5,1310.9 L1161.0,1315.5 L1161.5,1319.4 L1162.0,1314.5 L1162.5,1317.2 L1163.0,1313.2 L1163.5,1316.7 L1164.0,1312.3 L1164.5,1316.1 L1165.0,1315.3 L1165.5,1315.3 L1166.0,1318.1 L1166.5,1317.3 L1167.0,1312.4 L1167.5,1316.8 L1168.0,1309.3 L1168.5,1317.1 L1169.0,1322.2 L1169.5,1315.8 L1170.0,1315.8 L1170.5,1314.5 L1171.0,1316.7 L1171.5,1313.0 L1172.0,1316.3 L1172.5,1313.6 L1173.0,1313.2 L1173.5,1314.8 L1174.0,1314.2 L1174.5,1309.4 L1175.0,1320.5 L1175.5,1314.9 L1176.0,1309.5 L1176.5,1317.6 L1177.0,1314.4 L1177.5,1315.1 L1178.0,1316.6 L1178.5,1311.9 L1179.0,1306.0 L1179.5,1314.2 L1180.0,1315.2 L1180.5,1317.5 L1181.0,1312.4 L1181.5,1313.8 L1182.0,1315.7 L1182.5,1313.7 L1183.0,1313.9 L1183.5,1315.3 L1184.0,1311.7 L1184.5,1319.2 L1185.0,1311.9 L1185.5,1314.7 L1186.0,1313.7 L1186.5,1312.6 L1187.0,1316.2 L1187.5,1317.6 L1188.0,1318.9 L1188.5,1316.3 L1189.0,1313.3 L1189.5,1317.2 L1190.0,1310.5 L1190.5,1314.8 L1191.0,1316.2 L1191.5,1323.0 L1192.0,1311.3 L1192.5,1310.3 L1193.0,1319.5 L1193.5,1313.2 L1194.0,1309.9 L1194.5,1311.1 L1195.0,1314.7 L1195.5,1318.1 L1196.0,1314.7 L1196.5,1318.2 L1197.0,1315.3 L1197.5,1316.0 L1198.0,1317.5 L1198.5,1313.6 L1199.0,1315.5 L1199.5,1313.5 L1200.0,1312.8 L1200.5,1316.6 L1201.0,1312.3 L1201.5,1314.9 L1202.0,1312.4 L1202.5,1314.4 L1203.0,1313.1 L1203.5,1317.8 L1204.0,1314.9 L1204.5,1314.9 L1205.0,1319.4 L1205.5,1306.3 L1206.0,1311.4 L1206.5,1306.7 L1207.0,1314.6 L1207.5,1315.9 L1208.0,1316.5 L1208.5,1315.4 L1209.0,1312.1 L1209.5,1319.7 L1210.0,1315.5 L1210.5,1313.9 L1211.0,1311.4 L1211.5,1315.8 L1212.0,1313.2 L1212.5,1313.3 L1213.0,1315.2 L1213.5,1315.2 L1214.0,1312.2 L1214.5,1318.2 L1215.0,1311.7 L1215.5,1311.4 L1216.0,1315.5 L1216.5,1315.0 L1217.0,1314.8 L1217.5,1313.4 L1218.0,1314.7 L1218.5,1313.0 L1219.0,1309.8 L1219.5,1316.7 L1220.0,1311.7 L1220.5,1313.9 L1221.0,1316.7 L1221.5,1314.7 L1222.0,1322.6 L1222.5,1310.6 L1223.0,1312.4 L1223.5,1314.9 L1224.0,1318.5 L1224.5,1313.9 L1225.0,1310.5 L1225.5,1317.9 L1226.0,1311.9 L1226.5,1314.0 L1227.0,1317.2 L1227.5,1312.7 L1228.0,1313.3 L1228.5,1316.0 L1229.0,1314.0 L1229.5,1315.4 L1230.0,1311.9 L1230.5,1314.3 L1231.0,1311.4 L1231.5,1310.1 L1232.0,1319.7 L1232.5,1315.9 L1233.0,1317.3 L1233.5,1311.8 L1234.0,1314.5 L1234.5,1314.0 L1235.0,1310.5 L1235.5,1316.2 L1236.0,1312.5 L1236.5,1314.0 L1237.0,1310.2 L1237.5,1317.5 L1238.0,1316.8 L1238.5,1315.7 L1239.0,1312.0 L1239.5,1313.0 L1240.0,1318.2 L1240.5,1313.8 L1241.0,1315.4 L1241.5,1315.0 L1242.0,1311.4 L1242.5,1319.0 L1243.0,1308.9 L1243.5,1315.3 L1244.0,1314.4 L1244.5,1309.9 L1245.0,1315.6 L1245.5,1316.1 L1246.0,1314.8 L1246.5,1312.2 L1247.0,1315.9 L1247.5,1317.8 L1248.0,1315.3 L1248.5,1319.6 L1249.0,1317.1 L1249.5,1316.8 L1250.0,1318.6 L1250.5,1312.7 L1251.0,1313.2 L1251.5,1316.2 L1252.0,1316.2 L1252.5,1319.1 L1253.0,1318.1 L1253.5,1315.3 L1254.0,1315.5 L1254.5,1314.1 L1255.0,1313.8 L1255.5,1313.6 L1256.0,1317.6 L1256.5,1313.6 L1257.0,1314.0 L1257.5,1315.5 L1258.0,1313.6 L1258.5,1314.4 L1259.0,1308.8 L1259.5,1316.2 L1260.0,1314.3 L1260.5,1315.8 L1261.0,1316.3 L1261.5,1309.9 L1262.0,1322.3 L1262.5,1315.8 L1263.0,1315.9 L1263.5,1310.3 L1264.0,1317.3 L1264.5,1316.8 L1265.0,1314.6 L1265.5,1316.4 L1266.0,1319.4 L1266.5,1314.8 L1267.0,1313.2 L1267.5,1319.7 L1268.0,1316.7 L1268.5,1315.4 L1269.0,1322.6 L1269.5,1316.5 L1270.0,1315.5 L1270.5,1316.8 L1271.0,1314.9 L1271.5,1316.7 L1272.0,1316.6 L1272.5,1314.2 L1273.0,1315.4 L1273.5,1317.1 L1274.0,1317.3 L1274.5,1317.9 L1275.0,1318.5 L1275.5,1317.0 L1276.0,1317.8 L1276.5,1315.2 L1277.0,1315.6 L1277.5,1319.3 L1278.0,1310.6 L1278.5,1317.4 L1279.0,1325.5 L1279.5,1311.0 L1280.0,1320.7 L1280.5,1311.3 L1281.0,1317.4 L1281.5,1321.1 L1282.0,1320.7 L1282.5,1313.8 L1283.0,1312.6 L1283.5,1312.3 L1284.0,1318.5 L1284.5,1315.3 L1285.0,1316.5 L1285.5,1317.2 L1286.0,1317.7 L1286.5,1318.0 L1287.0,1316.9 L1287.5,1311.9 L1288.0,1320.8 L1288.5,1308.6 L1289.0,1320.1 L1289.5,1314.8 L1290.0,1316.0 L1290.5,1315.1 L1291.0,1315.6 L1291.5,1316.6 L1292.0,1315.8 L1292.5,1313.5 L1293.0,1319.1 L1293.5,1315.0 L1294.0,1320.6 L1294.5,1316.3 L1295.0,1314.7 L1295.5,1318.0 L1296.0,1319.4 L1296.5,1314.1 L1297.0,1316.0 L1297.5,1321.0 L1298.0,1313.9 L1298.5,1314.4 L1299.0,1317.4 L1299.5,1313.4 L1300.0,1309.8 L1300.5,1312.1 L1301.0,1318.0 L1301.5,1318.8 L1302.0,1318.7 L1302.5,1318.1 L1303.0,1313.4 L1303.5,1319.0 L1304.0,1320.4 L1304.5,1315.0 L1305.0,1319.8 L1305.5,1316.0 L1306.0,1317.6 L1306.5,1318.1 L1307.0,1312.8 L1307.5,1321.3 L1308.0,1314.6 L1308.5,1316.8 L1309.0,1315.7 L1309.5,1318.5 L1310.0,1318.4 L1310.5,1317.2 L1311.0,1321.2 L1311.5,1318.0 L1312.0,1316.0 L1312.5,1308.8 L1313.0,1316.4 L1313.5,1316.3 L1314.0,1314.7 L1314.5,1314.7 L1315.0,1318.9 L1315.5,1320.2 L1316.0,1322.7 L1316.5,1320.5 L1317.0,1315.1 L1317.5,1317.9 L1318.0,1313.2 L1318.5,1319.3 L1319.0,1318.2 L1319.5,1315.4 L1320.0,1316.9 L1320.5,1316.4 L1321.0,1315.3 L1321.5,1321.0 L1322.0,1326.1 L1322.5,1319.5 L1323.0,1320.2 L1323.5,1317.6 L1324.0,1316.1 L1324.5,1323.4 L1325.0,1316.0 L1325.5,1318.2 L1326.0,1316.6 L1326.5,1318.7 L1327.0,1316.8 L1327.5,1318.6 L1328.0,1313.2 L1328.5,1316.5 L1329.0,1320.8 L1329.5,1313.7 L1330.0,1314.8 L1330.5,1320.6 L1331.0,1317.8 L1331.5,1319.6 L1332.0,1310.0 L1332.5,1316.8 L1333.0,1312.6 L1333.5,1312.2 L1334.0,1317.4 L1334.5,1319.5 L1335.0,1311.6 L1335.5,1312.7 L1336.0,1314.1 L1336.5,1315.3 L1337.0,1311.7 L1337.5,1322.0 L1338.0,1317.0 L1338.5,1314.1 L1339.0,1313.5 L1339.5,1321.5 L1340.0,1321.1 L1340.5,1313.0 L1341.0,1315.2 L1341.5,1317.7 L1342.0,1310.4 L1342.5,1311.9 L1343.0,1317.3 L1343.5,1311.1 L1344.0,1311.6 L1344.5,1308.6 L1345.0,1310.0 L1345.5,1313.9 L1346.0,1309.2 L1346.5,1307.5 L1347.0,1309.1 L1347.5,1315.7 L1348.0,1315.3 L1348.5,1308.1 L1349.0,1309.8 L1349.5,1310.2 L1350.0,1308.8 L1350.5,1302.7 L1351.0,1308.4 L1351.5,1306.4 L1352.0,1309.0 L1352.5,1302.1 L1353.0,1308.5 L1353.5,1303.5 L1354.0,1299.3 L1354.5,1307.6 L1355.0,1301.6 L1355.5,1303.6 L1356.0,1301.4 L1356.5,1304.4 L1357.0,1303.8 L1357.5,1303.2 L1358.0,1301.4 L1358.5,1293.9 L1359.0,1293.0 L1359.5,1297.8 L1360.0,1293.7 L1360.5,1297.2 L1361.0,1295.6 L1361.5,1290.3 L1362.0,1290.7 L1362.5,1289.7 L1363.0,1289.7 L1363.5,1291.0 L1364.0,1292.9 L1364.5,1294.2 L1365.0,1286.8 L1365.5,1287.4 L1366.0,1293.0 L1366.5,1290.4 L1367.0,1288.0 L1367.5,1279.9 L1368.0,1283.3 L1368.5,1286.3 L1369.0,1283.7 L1369.5,1290.9 L1370.0,1285.0 L1370.5,1285.3 L1371.0,1281.0 L1371.5,1281.0 L1372.0,1282.0 L1372.5,1282.1 L1373.0,1283.2 L1373.5,1285.0 L1374.0,1284.7 L1374.5,1287.1 L1375.0,1280.4 L1375.5,1285.3 L1376.0,1285.7 L1376.5,1290.0 L1377.0,1285.1 L1377.5,1287.1 L1378.0,1284.2 L1378.5,1288.4 L1379.0,1288.9 L1379.5,1286.4 L1380.0,1287.6 L1380.5,1289.4 L1381.0,1291.9 L1381.5,1287.5 L1382.0,1294.1 L1382.5,1291.3 L1383.0,1298.5 L1383.5,1298.0 L1384.0,1293.2 L1384.5,1293.3 L1385.0,1303.1 L1385.5,1298.5 L1386.0,1299.0 L1386.5,1296.9 L1387.0,1298.4 L1387.5,1301.9 L1388.0,1302.1 L1388.5,1298.5 L1389.0,1305.3 L1389.5,1303.2 L1390.0,1300.2 L1390.5,1306.6 L1391.0,1303.8 L1391.5,1307.2 L1392.0,1303.9 L1392.5,1307.2 L1393.0,1302.0 L1393.5,1308.4 L1394.0,1303.4 L1394.5,1308.9 L1395.0,1301.5 L1395.5,1309.2 L1396.0,1312.0 L1396.5,1311.8 L1397.0,1314.4 L1397.5,1308.1 L1398.0,1316.3 L1398.5,1316.8 L1399.0,1309.0 L1399.5,1310.6 L1400.0,1311.6 L1400.5,1313.5 L1401.0,1314.3 L1401.5,1306.8 L1402.0,1316.0 L1402.5,1313.8 L1403.0,1311.7 L1403.5,1317.7 L1404.0,1314.1 L1404.5,1318.6 L1405.0,1317.0 L1405.5,1314.6 L1406.0,1319.1 L1406.5,1318.2 L1407.0,1314.5 L1407.5,1311.4 L1408.0,1314.6 L1408.5,1318.1 L1409.0,1315.6 L1409.5,1321.6 L1410.0,1317.2 L1410.5,1317.1 L1411.0,1317.8 L1411.5,1314.0 L1412.0,1316.3 L1412.5,1314.8 L1413.0,1309.8 L1413.5,1311.5 L1414.0,1318.9 L1414.5,1315.5 L1415.0,1316.4 L1415.5,1312.4 L1416.0,1315.0 L1416.5,1319.0 L1417.0,1317.0 L1417.5,1315.2 L1418.0,1321.1 L1418.5,1316.5 L1419.0,1315.6 L1419.5,1319.9 L1420.0,1311.4 L1420.5,1318.1 L1421.0,1313.2 L1421.5,1314.1 L1422.0,1314.3 L1422.5,1316.6 L1423.0,1316.5 L1423.5,1317.0 L1424.0,1316.7 L1424.5,1320.1 L1425.0,1320.9 L1425.5,1317.9 L1426.0,1318.0 L1426.5,1314.6 L1427.0,1312.4 L1427.5,1317.2 L1428.0,1315.5 L1428.5,1317.8 L1429.0,1309.9 L1429.5,1322.9 L1430.0,1311.3 L1430.5,1315.0 L1431.0,1317.6 L1431.5,1310.6 L1432.0,1312.9 L1432.5,1308.5 L1433.0,1310.1 L1433.5,1308.4 L1434.0,1314.3 L1434.5,1314.7 L1435.0,1312.7 L1435.5,1317.2 L1436.0,1317.4 L1436.5,1313.1 L1437.0,1312.3 L1437.5,1311.9 L1438.0,1311.2 L1438.5,1316.1 L1439.0,1312.8 L1439.5,1310.9 L1440.0,1311.0 L1440.5,1313.0 L1441.0,1309.9 L1441.5,1311.8 L1442.0,1310.4 L1442.5,1314.2 L1443.0,1313.3 L1443.5,1305.5 L1444.0,1308.8 L1444.5,1311.0 L1445.0,1307.2 L1445.5,1310.5 L1446.0,1308.6 L1446.5,1309.0 L1447.0,1306.6 L1447.5,1307.2 L1448.0,1307.3 L1448.5,1300.9 L1449.0,1302.0 L1449.5,1301.1 L1450.0,1308.4 L1450.5,1303.7 L1451.0,1303.2 L1451.5,1301.9 L1452.0,1293.5 L1452.5,1297.7 L1453.0,1301.6 L1453.5,1297.2 L1454.0,1302.0 L1454.5,1297.0 L1455.0,1295.8 L1455.5,1293.9 L1456.0,1293.3 L1456.5,1292.5 L1457.0,1295.8 L1457.5,1297.0 L1458.0,1285.6 L1458.5,1288.5 L1459.0,1288.5 L1459.5,1282.5 L1460.0,1282.0 L1460.5,1281.1 L1461.0,1274.0 L1461.5,1281.4 L1462.0,1277.9 L1462.5,1276.2 L1463.0,1275.1 L1463.5,1274.0 L1464.0,1278.3 L1464.5,1270.4 L1465.0,1270.6 L1465.5,1264.9 L1466.0,1265.7 L1466.5,1262.0 L1467.0,1260.6 L1467.5,1256.6 L1468.0,1255.1 L1468.5,1257.0 L1469.0,1256.0 L1469.5,1253.4 L1470.0,1248.3 L1470.5,1253.7 L1471.0,1239.3 L1471.5,1247.8 L1472.0,1243.3 L1472.5,1242.6 L1473.0,1243.6 L1473.5,1237.6 L1474.0,1240.2 L1474.5,1234.9 L1475.0,1236.6 L1475.5,1232.7 L1476.0,1233.9 L1476.5,1236.4 L1477.0,1229.6 L1477.5,1229.2 L1478.0,1223.2 L1478.5,1231.1 L1479.0,1238.2 L1479.5,1228.5 L1480.0,1224.5 L1480.5,1228.8 L1481.0,1226.6 L1481.5,1230.2 L1482.0,1232.6 L1482.5,1230.7 L1483.0,1232.5 L1483.5,1230.1 L1484.0,1237.3 L1484.5,1235.9 L1485.0,1242.6 L1485.5,1244.0 L1486.0,1239.9 L1486.5,1242.9 L1487.0,1245.8 L1487.5,1249.5 L1488.0,1244.1 L1488.5,1250.5 L1489.0,1257.9 L1489.5,1254.0 L1490.0,1256.6 L1490.5,1257.7 L1491.0,1256.0 L1491.5,1264.0 L1492.0,1263.7 L1492.5,1265.1 L1493.0,1268.4 L1493.5,1270.2 L1494.0,1264.0 L1494.5,1272.5 L1495.0,1271.0 L1495.5,1274.7 L1496.0,1273.6 L1496.5,1274.6 L1497.0,1281.3 L1497.5,1279.9 L1498.0,1280.4 L1498.5,1281.7 L1499.0,1284.0 L1499.5,1284.9 L1500.0,1279.3 L1500.5,1284.7 L1501.0,1287.7 L1501.5,1291.6 L1502.0,1294.4 L1502.5,1288.7 L1503.0,1297.9 L1503.5,1293.5 L1504.0,1295.5 L1504.5,1293.3 L1505.0,1293.9 L1505.5,1300.5 L1506.0,1296.4 L1506.5,1297.5 L1507.0,1301.8 L1507.5,1304.0 L1508.0,1295.2 L1508.5,1299.6 L1509.0,1300.6 L1509.5,1306.4 L1510.0,1308.8 L1510.5,1302.0 L1511.0,1303.6 L1511.5,1305.4 L1512.0,1306.7 L1512.5,1302.7 L1513.0,1306.5 L1513.5,1302.3 L1514.0,1296.9 L1514.5,1300.9 L1515.0,1305.8 L1515.5,1307.7 L1516.0,1299.1 L1516.5,1300.7 L1517.0,1306.1 L1517.5,1296.5 L1518.0,1308.2 L1518.5,1309.7 L1519.0,1298.2 L1519.5,1309.3 L1520.0,1306.7 L1520.5,1311.5 L1521.0,1308.3 L1521.5,1306.9 L1522.0,1308.1 L1522.5,1310.6 L1523.0,1308.5 L1523.5,1308.2 L1524.0,1304.0 L1524.5,1309.7 L1525.0,1308.4 L1525.5,1313.8 L1526.0,1308.5 L1526.5,1308.3 L1527.0,1306.8 L1527.5,1310.8 L1528.0,1308.2 L1528.5,1306.8 L1529.0,1313.5 L1529.5,1314.1 L1530.0,1307.7 L1530.5,1306.0 L1531.0,1312.3 L1531.5,1306.7 L1532.0,1317.3 L1532.5,1308.8 L1533.0,1312.0 L1533.5,1305.4 L1534.0,1309.1 L1534.5,1312.4 L1535.0,1310.6 L1535.5,1307.7 L1536.0,1316.5 L1536.5,1311.5 L1537.0,1308.7 L1537.5,1307.6 L1538.0,1308.6 L1538.5,1313.3 L1539.0,1307.1 L1539.5,1309.5 L1540.0,1307.0 L1540.5,1313.0 L1541.0,1308.9 L1541.5,1311.9 L1542.0,1311.0 L1542.5,1307.7 L1543.0,1311.4 L1543.5,1312.1 L1544.0,1306.0 L1544.5,1311.4 L1545.0,1319.7 L1545.5,1308.5 L1546.0,1311.3 L1546.5,1305.6 L1547.0,1310.8 L1547.5,1307.8 L1548.0,1311.8 L1548.5,1309.5 L1549.0,1306.2 L1549.5,1312.9 L1550.0,1309.1 L1550.5,1306.8 L1551.0,1309.9 L1551.5,1307.0 L1552.0,1311.0 L1552.5,1309.6 L1553.0,1308.8 L1553.5,1311.8 L1554.0,1306.2 L1554.5,1312.8 L1555.0,1304.1 L1555.5,1314.7 L1556.0,1310.5 L1556.5,1309.2 L1557.0,1307.9 L1557.5,1311.6 L1558.0,1309.6 L1558.5,1309.5 L1559.0,1313.1 L1559.5,1308.8 L1560.0,1309.4 L1560.5,1311.4 L1561.0,1313.3 L1561.5,1309.7 L1562.0,1310.6 L1562.5,1310.3 L1563.0,1312.3 L1563.5,1314.5 L1564.0,1307.4 L1564.5,1309.8 L1565.0,1310.0 L1565.5,1311.9 L1566.0,1314.6 L1566.5,1310.1 L1567.0,1310.8 L1567.5,1313.5 L1568.0,1306.5 L1568.5,1307.9 L1569.0,1308.8 L1569.5,1310.1 L1570.0,1310.8 L1570.5,1308.6 L1571.0,1315.3 L1571.5,1308.0 L1572.0,1309.5 L1572.5,1313.3 L1573.0,1312.3 L1573.5,1310.0 L1574.0,1311.1 L1574.5,1312.4 L1575.0,1310.0 L1575.5,1311.9 L1576.0,1307.3 L1576.5,1310.2 L1577.0,1305.1 L1577.5,1307.3 L1578.0,1306.5 L1578.5,1313.5 L1579.0,1308.4 L1579.5,1310.7 L1580.0,1307.0 L1580.5,1309.1 L1581.0,1308.9 L1581.5,1307.1 L1582.0,1312.1 L1582.5,1304.7 L1583.0,1311.4 L1583.5,1317.3 L1584.0,1307.0 L1584.5,1309.5 L1585.0,1304.8 L1585.5,1309.2 L1586.0,1304.1 L1586.5,1311.0 L1587.0,1307.7 L1587.5,1303.6 L1588.0,1305.2 L1588.5,1304.2 L1589.0,1308.0 L1589.5,1311.3 L1590.0,1307.5 L1590.5,1305.2 L1591.0,1306.1 L1591.5,1308.8 L1592.0,1301.2 L1592.5,1310.0 L1593.0,1309.4 L1593.5,1300.9 L1594.0,1311.5 L1594.5,1303.1 L1595.0,1307.2 L1595.5,1311.2 L1596.0,1302.8 L1596.5,1302.1 L1597.0,1304.1 L1597.5,1304.1 L1598.0,1306.8 L1598.5,1305.5 L1599.0,1305.5 L1599.5,1305.4 L1600.0,1306.2 L1600.5,1304.0 L1601.0,1307.4 L1601.5,1306.3 L1602.0,1303.1 L1602.5,1311.4 L1603.0,1302.0 L1603.5,1307.8 L1604.0,1303.2 L1604.5,1306.3 L1605.0,1306.6 L1605.5,1307.4 L1606.0,1308.9 L1606.5,1301.9 L1607.0,1312.7 L1607.5,1305.1 L1608.0,1301.3 L1608.5,1299.4 L1609.0,1310.1 L1609.5,1307.7 L1610.0,1302.5 L1610.5,1300.1 L1611.0,1305.8 L1611.5,1301.8 L1612.0,1299.8 L1612.5,1300.6 L1613.0,1302.7 L1613.5,1299.9 L1614.0,1295.7 L1614.5,1301.0 L1615.0,1293.2 L1615.5,1295.5 L1616.0,1300.8 L1616.5,1297.2 L1617.0,1296.5 L1617.5,1295.5 L1618.0,1297.5 L1618.5,1293.5 L1619.0,1287.0 L1619.5,1292.7 L1620.0,1282.0 L1620.5,1284.1 L1621.0,1293.9 L1621.5,1291.2 L1622.0,1285.7 L1622.5,1285.7 L1623.0,1285.0 L1623.5,1286.5 L1624.0,1279.9 L1624.5,1278.2 L1625.0,1277.6 L1625.5,1278.4 L1626.0,1277.2 L1626.5,1273.7 L1627.0,1275.5 L1627.5,1268.5 L1628.0,1269.5 L1628.5,1265.8 L1629.0,1263.0 L1629.5,1267.7 L1630.0,1261.1 L1630.5,1256.9 L1631.0,1257.9 L1631.5,1252.6 L1632.0,1255.0 L1632.5,1253.5 L1633.0,1251.6 L1633.5,1243.0 L1634.0,1243.2 L1634.5,1246.6 L1635.0,1237.9 L1635.5,1239.6 L1636.0,1237.8 L1636.5,1226.4 L1637.0,1231.4 L1637.5,1227.3 L1638.0,1225.0 L1638.5,1224.6 L1639.0,1218.2 L1639.5,1214.4 L1640.0,1213.3 L1640.5,1207.8 L1641.0,1207.7 L1641.5,1197.7 L1642.0,1206.3 L1642.5,1197.2 L1643.0,1198.1 L1643.5,1195.2 L1644.0,1192.6 L1644.5,1190.7 L1645.0,1188.8 L1645.5,1182.2 L1646.0,1184.0 L1646.5,1188.0 L1647.0,1180.4 L1647.5,1179.6 L1648.0,1188.4 L1648.5,1185.4 L1649.0,1186.3 L1649.5,1181.8 L1650.0,1183.0 L1650.5,1185.1 L1651.0,1185.3 L1651.5,1184.4 L1652.0,1181.5 L1652.5,1185.1 L1653.0,1184.4 L1653.5,1195.3 L1654.0,1191.4 L1654.5,1194.1 L1655.0,1197.7 L1655.5,1199.2 L1656.0,1203.2 L1656.5,1202.3 L1657.0,1202.2 L1657.5,1214.5 L1658.0,1209.9 L1658.5,1213.3 L1659.0,1215.1 L1659.5,1218.6 L1660.0,1223.1 L1660.5,1228.0 L1661.0,1225.5 L1661.5,1232.2 L1662.0,1232.0 L1662.5,1240.3 L1663.0,1235.7 L1663.5,1242.3 L1664.0,1246.7 L1664.5,1243.1 L1665.0,1249.9 L1665.5,1252.4 L1666.0,1252.0 L1666.5,1256.0 L1667.0,1261.8 L1667.5,1261.8 L1668.0,1262.0 L1668.5,1264.6 L1669.0,1268.6 L1669.5,1272.9 L1670.0,1273.4 L1670.5,1275.0 L1671.0,1279.2 L1671.5,1271.8 L1672.0,1273.7 L1672.5,1272.8 L1673.0,1283.4 L1673.5,1275.7 L1674.0,1283.7 L1674.5,1287.3 L1675.0,1282.3 L1675.5,1285.7 L1676.0,1288.0 L1676.5,1292.0 L1677.0,1286.5 L1677.5,1292.9 L1678.0,1295.0 L1678.5,1294.3 L1679.0,1295.2 L1679.5,1299.2 L1680.0,1297.0 L1680.5,1297.1 L1681.0,1296.9 L1681.5,1300.5 L1682.0,1298.4 L1682.5,1301.8 L1683.0,1300.7 L1683.5,1304.3 L1684.0,1299.3 L1684.5,1302.3 L1685.0,1303.6 L1685.5,1304.3 L1686.0,1306.8 L1686.5,1305.1 L1687.0,1307.0 L1687.5,1310.4 L1688.0,1307.6 L1688.5,1302.4 L1689.0,1301.6 L1689.5,1308.1 L1690.0,1305.3 L1690.5,1307.6 L1691.0,1306.5 L1691.5,1311.1 L1692.0,1311.0 L1692.5,1304.5 L1693.0,1308.8 L1693.5,1307.4 L1694.0,1304.7 L1694.5,1310.6 L1695.0,1308.5 L1695.5,1310.4 L1696.0,1316.5 L1696.5,1313.4 L1697.0,1312.9 L1697.5,1308.7 L1698.0,1306.6 L1698.5,1313.9 L1699.0,1309.5 L1699.5,1310.7 L1700.0,1309.6 L1700.5,1311.1 L1701.0,1318.0 L1701.5,1310.2 L1702.0,1310.4 L1702.5,1312.0 L1703.0,1312.4 L1703.5,1308.2 L1704.0,1306.6 L1704.5,1310.2 L1705.0,1311.4 L1705.5,1309.8 L1706.0,1309.3 L1706.5,1309.6 L1707.0,1311.3 L1707.5,1312.2 L1708.0,1307.9 L1708.5,1311.1 L1709.0,1313.8 L1709.5,1312.5 L1710.0,1309.0 L1710.5,1312.0 L1711.0,1313.1 L1711.5,1315.5 L1712.0,1308.6 L1712.5,1315.4 L1713.0,1312.1 L1713.5,1314.2 L1714.0,1315.6 L1714.5,1311.2 L1715.0,1311.5 L1715.5,1313.5 L1716.0,1316.0 L1716.5,1312.4 L1717.0,1310.0 L1717.5,1312.1 L1718.0,1315.3 L1718.5,1317.6 L1719.0,1312.9 L1719.5,1313.5 L1720.0,1314.0 L1720.5,1314.1 L1721.0,1311.9 L1721.5,1313.4 L1722.0,1315.3 L1722.5,1315.1 L1723.0,1314.9 L1723.5,1312.0 L1724.0,1313.4 L1724.5,1312.9 L1725.0,1318.1 L1725.5,1319.3 L1726.0,1316.2 L1726.5,1319.8 L1727.0,1314.4 L1727.5,1314.5 L1728.0,1311.6 L1728.5,1316.1 L1729.0,1314.2 L1729.5,1315.8 L1730.0,1317.0 L1730.5,1314.9 L1731.0,1312.5 L1731.5,1315.6 L1732.0,1315.6 L1732.5,1315.9 L1733.0,1317.8 L1733.5,1315.3 L1734.0,1315.2 L1734.5,1321.0 L1735.0,1319.2 L1735.5,1315.8 L1736.0,1313.5 L1736.5,1314.9 L1737.0,1317.3 L1737.5,1318.7 L1738.0,1323.2 L1738.5,1315.7 L1739.0,1316.9 L1739.5,1315.4 L1740.0,1316.7 L1740.5,1315.5 L1741.0,1313.5 L1741.5,1319.6 L1742.0,1317.0 L1742.5,1320.4 L1743.0,1315.3 L1743.5,1317.5 L1744.0,1318.7 L1744.5,1311.5 L1745.0,1313.1 L1745.5,1319.1 L1746.0,1317.3 L1746.5,1311.8 L1747.0,1314.9 L1747.5,1314.1 L1748.0,1315.7 L1748.5,1321.6 L1749.0,1315.6 L1749.5,1323.0 L1750.0,1316.5 L1750.5,1315.2 L1751.0,1321.8 L1751.5,1320.1 L1752.0,1321.4 L1752.5,1323.0 L1753.0,1320.5 L1753.5,1321.0 L1754.0,1312.6 L1754.5,1315.2 L1755.0,1318.9 L1755.5,1318.2 L1756.0,1319.7 L1756.5,1316.3 L1757.0,1320.9 L1757.5,1323.6 L1758.0,1319.5 L1758.5,1320.2 L1759.0,1319.3 L1759.5,1320.6 L1760.0,1318.6 L1760.5,1316.5 L1761.0,1318.6 L1761.5,1318.3 L1762.0,1313.7 L1762.5,1318.8 L1763.0,1318.2 L1763.5,1318.7 L1764.0,1316.6 L1764.5,1319.6 L1765.0,1320.0 L1765.5,1316.2 L1766.0,1319.2 L1766.5,1320.5 L1767.0,1320.4 L1767.5,1315.7 L1768.0,1315.4 L1768.5,1318.4 L1769.0,1315.4 L1769.5,1325.5 L1770.0,1316.1 L1770.5,1316.1 L1771.0,1320.3 L1771.5,1317.1 L1772.0,1311.7 L1772.5,1318.0 L1773.0,1315.6 L1773.5,1317.0 L1774.0,1313.8 L1774.5,1315.9 L1775.0,1318.0 L1775.5,1318.3 L1776.0,1315.3 L1776.5,1316.5 L1777.0,1316.1 L1777.5,1318.9 L1778.0,1318.1 L1778.5,1315.0 L1779.0,1320.4 L1779.5,1316.6 L1780.0,1319.7 L1780.5,1316.0 L1781.0,1319.5 L1781.5,1325.2 L1782.0,1318.8 L1782.5,1320.1 L1783.0,1319.9 L1783.5,1319.2 L1784.0,1319.2 L1784.5,1315.1 L1785.0,1318.6 L1785.5,1312.5 L1786.0,1312.4 L1786.5,1317.9 L1787.0,1318.2 L1787.5,1323.1 L1788.0,1320.8 L1788.5,1322.1 L1789.0,1318.0 L1789.5,1320.2 L1790.0,1322.3 L1790.5,1320.5 L1791.0,1320.0 L1791.5,1319.3 L1792.0,1316.4 L1792.5,1316.5 L1793.0,1315.0 L1793.5,1320.3 L1794.0,1318.4 L1794.5,1317.2 L1795.0,1320.2 L1795.5,1317.6 L1796.0,1322.2 L1796.5,1324.7 L1797.0,1320.6 L1797.5,1317.3 L1798.0,1315.0 L1798.5,1325.1 L1799.0,1320.6 L1799.5,1316.0 L1800.0,1322.5 L1800.5,1314.6 L1801.0,1318.2 L1801.5,1318.8 L1802.0,1318.4 L1802.5,1316.2 L1803.0,1326.4 L1803.5,1318.4 L1804.0,1320.6 L1804.5,1319.6 L1805.0,1315.0 L1805.5,1318.0 L1806.0,1320.2 L1806.5,1322.3 L1807.0,1318.6 L1807.5,1320.7 L1808.0,1318.7 L1808.5,1321.4 L1809.0,1312.6 L1809.5,1321.4 L1810.0,1317.9 L1810.5,1318.1 L1811.0,1311.6 L1811.5,1316.7 L1812.0,1321.6 L1812.5,1331.0 L1813.0,1317.8 L1813.5,1317.9 L1814.0,1321.3 L1814.5,1320.7 L1815.0,1318.2 L1815.5,1319.4 L1816.0,1318.8 L1816.5,1321.7 L1817.0,1322.2 L1817.5,1325.0 L1818.0,1322.6 L1818.5,1321.9 L1819.0,1320.5 L1819.5,1322.7 L1820.0,1317.2 L1820.5,1326.3 L1821.0,1320.9 L1821.5,1324.2 L1822.0,1317.8 L1822.5,1323.1 L1823.0,1321.3 L1823.5,1319.6 L1824.0,1318.2 L1824.5,1317.6 L1825.0,1325.4 L1825.5,1323.7 L1826.0,1320.5 L1826.5,1320.8 L1827.0,1318.1 L1827.5,1315.0 L1828.0,1315.1 L1828.5,1318.5 L1829.0,1319.8 L1829.5,1316.9 L1830.0,1322.6 L1830.5,1321.8 L1831.0,1320.8 L1831.5,1315.3 L1832.0,1319.7 L1832.5,1320.3 L1833.0,1316.7 L1833.5,1314.1 L1834.0,1326.0 L1834.5,1322.2 L1835.0,1319.3 L1835.5,1325.1 L1836.0,1323.7 L1836.5,1321.8 L1837.0,1321.1 L1837.5,1322.8 L1838.0,1324.7 L1838.5,1320.7 L1839.0,1319.9 L1839.5,1322.2 L1840.0,1312.4 L1840.5,1320.8 L1841.0,1319.4 L1841.5,1320.5 L1842.0,1320.0 L1842.5,1321.5 L1843.0,1320.9 L1843.5,1320.7 L1844.0,1320.2 L1844.5,1321.9 L1845.0,1319.1 L1845.5,1323.4 L1846.0,1315.7 L1846.5,1321.1 L1847.0,1321.9 L1847.5,1316.9 L1848.0,1319.3 L1848.5,1324.4 L1849.0,1320.2 L1849.5,1318.0 L1850.0,1311.9 L1850.5,1321.5 L1851.0,1320.8 L1851.5,1322.3 L1852.0,1326.5 L1852.5,1320.5 L1853.0,1320.9 L1853.5,1318.5 L1854.0,1320.3 L1854.5,1320.4 L1855.0,1322.7 L1855.5,1322.1 L1856.0,1318.3 L1856.5,1319.1 L1857.0,1324.5 L1857.5,1317.7 L1858.0,1322.6 L1858.5,1325.2 L1859.0,1322.3 L1859.5,1321.2 L1860.0,1324.4 L1860.5,1321.4 L1861.0,1320.4 L1861.5,1319.8 L1862.0,1323.7 L1862.5,1322.4 L1863.0,1324.9 L1863.5,1319.4 L1864.0,1319.4 L1864.5,1319.1 L1865.0,1321.1 L1865.5,1318.3 L1866.0,1323.0 L1866.5,1321.3 L1867.0,1317.4 L1867.5,1311.6 L1868.0,1314.9 L1868.5,1324.4 L1869.0,1320.0 L1869.5,1320.6 L1870.0,1318.9 L1870.5,1321.3 L1871.0,1314.5 L1871.5,1314.3 L1872.0,1315.3 L1872.5,1320.2 L1873.0,1322.0 L1873.5,1321.3 L1874.0,1319.5 L1874.5,1316.2 L1875.0,1322.1 L1875.5,1319.0 L1876.0,1319.7 L1876.5,1319.5 L1877.0,1318.3 L1877.5,1317.5 L1878.0,1317.9 L1878.5,1315.8 L1879.0,1320.2 L1879.5,1318.9 L1880.0,1322.3 L1880.5,1314.1 L1881.0,1322.7 L1881.5,1319.0 L1882.0,1318.7 L1882.5,1316.7 L1883.0,1316.6 L1883.5,1314.6 L1884.0,1321.5 L1884.5,1318.2 L1885.0,1320.8 L1885.5,1321.1 L1886.0,1317.1 L1886.5,1317.8 L1887.0,1317.4 L1887.5,1321.3 L1888.0,1318.6 L1888.5,1318.6 L1889.0,1320.1 L1889.5,1317.7 L1890.0,1323.8 L1890.5,1315.1 L1891.0,1321.3 L1891.5,1321.6 L1892.0,1314.2 L1892.5,1319.9 L1893.0,1318.1 L1893.5,1319.7 L1894.0,1313.5 L1894.5,1317.6 L1895.0,1314.0 L1895.5,1315.7 L1896.0,1320.7 L1896.5,1316.1 L1897.0,1309.8 L1897.5,1312.2 L1898.0,1312.8 L1898.5,1318.9 L1899.0,1313.9 L1899.5,1311.2 L1900.0,1318.9 L1900.5,1316.3 L1901.0,1316.4 L1901.5,1313.0 L1902.0,1319.3 L1902.5,1314.7 L1903.0,1309.3 L1903.5,1311.6 L1904.0,1312.3 L1904.5,1320.3 L1905.0,1316.8 L1905.5,1312.4 L1906.0,1312.7 L1906.5,1320.7 L1907.0,1314.5 L1907.5,1312.7 L1908.0,1314.2 L1908.5,1310.5 L1909.0,1315.6 L1909.5,1316.8 L1910.0,1312.3 L1910.5,1316.8 L1911.0,1313.1 L1911.5,1314.7 L1912.0,1311.7 L1912.5,1311.6 L1913.0,1309.6 L1913.5,1314.6 L1914.0,1313.1 L1914.5,1313.2 L1915.0,1310.7 L1915.5,1310.7 L1916.0,1306.7 L1916.5,1315.5 L1917.0,1315.1 L1917.5,1312.3 L1918.0,1315.2 L1918.5,1319.6 L1919.0,1314.8 L1919.5,1320.5 L1920.0,1316.0 L1920.5,1318.7 L1921.0,1313.4 L1921.5,1318.4 L1922.0,1311.7 L1922.5,1315.9 L1923.0,1314.4 L1923.5,1309.6 L1924.0,1311.6 L1924.5,1318.9 L1925.0,1317.2 L1925.5,1319.6 L1926.0,1316.6 L1926.5,1307.7 L1927.0,1316.9 L1927.5,1314.7 L1928.0,1315.0 L1928.5,1315.2 L1929.0,1314.4 L1929.5,1314.0 L1930.0,1320.5 L1930.5,1318.3 L1931.0,1315.2 L1931.5,1316.0 L1932.0,1320.1 L1932.5,1318.5 L1933.0,1318.0 L1933.5,1314.0 L1934.0,1316.4 L1934.5,1314.5 L1935.0,1312.3 L1935.5,1320.5 L1936.0,1317.0 L1936.5,1316.9 L1937.0,1315.4 L1937.5,1320.4 L1938.0,1324.4 L1938.5,1320.1 L1939.0,1321.1 L1939.5,1314.9 L1940.0,1319.1 L1940.5,1319.3 L1941.0,1323.0 L1941.5,1318.8 L1942.0,1316.1 L1942.5,1318.7 L1943.0,1317.6 L1943.5,1323.1 L1944.0,1320.9 L1944.5,1320.0 L1945.0,1319.6 L1945.5,1321.6 L1946.0,1317.7 L1946.5,1316.5 L1947.0,1313.7 L1947.5,1322.7 L1948.0,1320.7 L1948.5,1321.1 L1949.0,1319.4 L1949.5,1324.1 L1950.0,1316.5 L1950.5,1322.8 L1951.0,1316.9 L1951.5,1318.0 L1952.0,1315.8 L1952.5,1319.6 L1953.0,1318.5 L1953.5,1320.6 L1954.0,1317.7 L1954.5,1315.3 L1955.0,1321.0 L1955.5,1323.1 L1956.0,1321.5 L1956.5,1319.2 L1957.0,1320.5 L1957.5,1314.4 L1958.0,1318.3 L1958.5,1322.7 L1959.0,1320.6 L1959.5,1316.8 L1960.0,1321.7 L1960.5,1318.8 L1961.0,1321.3 L1961.5,1315.1 L1962.0,1317.6 L1962.5,1320.0 L1963.0,1319.9 L1963.5,1320.6 L1964.0,1318.9 L1964.5,1318.3 L1965.0,1320.2 L1965.5,1321.3 L1966.0,1314.4 L1966.5,1317.8 L1967.0,1318.1 L1967.5,1319.0 L1968.0,1321.5 L1968.5,1314.6 L1969.0,1319.9 L1969.5,1313.3 L1970.0,1316.0 L1970.5,1316.6 L1971.0,1317.3 L1971.5,1316.2 L1972.0,1316.4 L1972.5,1316.8 L1973.0,1316.9 L1973.5,1312.2 L1974.0,1313.4 L1974.5,1316.0 L1975.0,1318.7 L1975.5,1320.0 L1976.0,1325.2 L1976.5,1317.1 L1977.0,1314.4 L1977.5,1317.0 L1978.0,1318.3 L1978.5,1316.6 L1979.0,1313.0 L1979.5,1315.6 L1980.0,1315.6 L1980.5,1311.5 L1981.0,1311.9 L1981.5,1318.7 L1982.0,1308.6 L1982.5,1315.4 L1983.0,1313.9 L1983.5,1318.5 L1984.0,1316.0 L1984.5,1311.6 L1985.0,1317.5 L1985.5,1312.0 L1986.0,1319.2 L1986.5,1318.0 L1987.0,1312.8 L1987.5,1315.0 L1988.0,1313.1 L1988.5,1309.7 L1989.0,1315.2 L1989.5,1313.1 L1990.0,1314.1 L1990.5,1314.5 L1991.0,1315.2 L1991.5,1313.9 L1992.0,1310.4 L1992.5,1310.7 L1993.0,1311.4 L1993.5,1309.6 L1994.0,1309.0 L1994.5,1314.8 L1995.0,1310.7 L1995.5,1314.5 L1996.0,1306.6 L1996.5,1308.4 L1997.0,1307.1 L1997.5,1307.0 L1998.0,1307.0 L1998.5,1307.3 L1999.0,1306.2 L1999.5,1312.4 L2000.0,1308.9 L2000.5,1304.7 L2001.0,1305.1 L2001.5,1308.6 L2002.0,1307.8 L2002.5,1304.4 L2003.0,1308.6 L2003.5,1301.7 L2004.0,1304.3 L2004.5,1310.5 L2005.0,1298.0 L2005.5,1304.8 L2006.0,1308.1 L2006.5,1304.8 L2007.0,1302.9 L2007.5,1302.6 L2008.0,1299.1 L2008.5,1301.3 L2009.0,1305.3 L2009.5,1303.5 L2010.0,1305.1 L2010.5,1304.8 L2011.0,1306.1 L2011.5,1300.6 L2012.0,1304.5 L2012.5,1304.6 L2013.0,1304.7 L2013.5,1303.2 L2014.0,1299.6 L2014.5,1307.9 L2015.0,1308.6 L2015.5,1313.2 L2016.0,1308.7 L2016.5,1311.5 L2017.0,1308.7 L2017.5,1306.1 L2018.0,1308.8 L2018.5,1304.3 L2019.0,1308.6 L2019.5,1307.8 L2020.0,1305.3 L2020.5,1312.1 L2021.0,1312.1 L2021.5,1310.4 L2022.0,1311.7 L2022.5,1314.4 L2023.0,1309.5 L2023.5,1306.3 L2024.0,1307.7 L2024.5,1312.7 L2025.0,1311.6 L2025.5,1307.0 L2026.0,1315.3 L2026.5,1312.2 L2027.0,1316.3 L2027.5,1314.9 L2028.0,1310.5 L2028.5,1312.1 L2029.0,1309.7 L2029.5,1309.5 L2030.0,1311.1 L2030.5,1313.4 L2031.0,1316.0 L2031.5,1309.5 L2032.0,1314.1"/>
<path stroke="#f00" d="M190.0,1124.4 L190.5,1125.9 L191.0,1130.7 L191.5,1123.7 L192.0,1129.5 L192.5,1130.3 L193.0,1126.5 L193.5,1125.7 L194.0,1128.4 L194.5,1130.1 L195.0,1132.3 L195.5,1129.4 L196.0,1131.0 L196.5,1126.3 L197.0,1125.3 L197.5,1123.4 L198.0,1124.7 L198.5,1126.5 L199.0,1127.8 L199.5,1124.3 L200.0,1129.2 L200.5,1127.1 L201.0,1125.9 L201.5,1125.6 L202.0,1132.1 L202.5,1127.8 L203.0,1125.4 L203.5,1125.3 L204.0,1131.7 L204.5,1126.2 L205.0,1130.3 L205.5,1130.8 L206.0,1122.2 L206.5,1130.7 L207.0,1127.1 L207.5,1125.1 L208.0,1126.4 L208.5,1128.9 L209.0,1128.5 L209.5,1128.6 L210.0,1126.0 L210.5,1130.6 L211.0,1131.2 L211.5,1131.9 L212.0,1130.0 L212.5,1132.1 L213.0,1132.6 L213.5,1129.4 L214.0,1129.8 L214.5,1129.1 L215.0,1129.1 L215.5,1129.8 L216.0,1123.9 L216.5,1127.1 L217.0,1129.0 L217.5,1123.0 L218.0,1124.6 L218.5,1131.6 L219.0,1125.5 L219.5,1126.9 L220.0,1128.8 L220.5,1126.9 L221.0,1126.0 L221.5,1126.8 L222.0,1127.0 L222.5,1126.7 L223.0,1128.5 L223.5,1131.7 L224.0,1128.9 L224.5,1131.8 L225.0,1129.8 L225.5,1130.0 L226.0,1129.4 L226.5,1127.4 L227.0,1129.1 L227.5,1128.8 L228.0,1125.6 L228.5,1129.9 L229.0,1129.5 L229.5,1129.0 L230.0,1126.9 L230.5,1122.1 L231.0,1131.6 L231.5,1128.0 L232.0,1123.2 L232.5,1129.7 L233.0,1126.6 L233.5,1129.8 L234.0,1128.0 L234.5,1130.9 L235.0,1128.8 L235.5,1128.9 L236.0,1128.6 L236.5,1131.1 L237.0,1125.3 L237.5,1131.0 L238.0,1129.9 L238.5,1127.0 L239.0,1128.3 L239.5,1127.3 L240.0,1128.4 L240.5,1130.5 L241.0,1126.8 L241.5,1130.0 L242.0,1130.5 L242.5,1129.8 L243.0,1131.9 L243.5,1128.2 L244.0,1129.9 L244.5,1134.0 L245.0,1128.4 L245.5,1128.0 L246.0,1128.3 L246.5,1129.7 L247.0,1126.9 L247.5,1127.7 L248.0,1124.3 L248.5,1125.9 L249.0,1125.9 L249.5,1125.6 L250.0,1127.2 L250.5,1129.9 L251.0,1127.4 L251.5,1125.2 L252.0,1128.8 L252.5,1128.6 L253.0,1125.0 L253.5,1128.5 L254.0,1125.7 L254.5,1126.7 L255.0,1126.5 L255.5,1130.0 L256.0,1126.2 L256.5,1127.4 L257.0,1128.5 L257.5,1130.4 L258.0,1130.7 L258.5,1125.7 L259.0,1130.7 L259.5,1128.6 L260.0,1130.7 L260.5,1130.3 L261.0,1126.6 L261.5,1127.9 L262.0,1127.1 L262.5,1128.6 L263.0,1131.5 L263.5,1127.8 L264.0,1126.1 L264.5,1133.4 L265.0,1125.3 L265.5,1127.5 L266.0,1127.4 L266.5,1124.5 L267.0,1129.2 L267.5,1129.7 L268.0,1127.0 L268.5,1127.3 L269.0,1126.7 L269.5,1123.0 L270.0,1127.5 L270.5,1124.0 L271.0,1124.6 L271.5,1127.6 L272.0,1128.7 L272.5,1124.5 L273.0,1129.0 L273.5,1130.4 L274.0,1126.6 L274.5,1125.9 L275.0,1126.4 L275.5,1124.9 L276.0,1123.7 L276.5,1127.0 L277.0,1127.0 L277.5,1124.1 L278.0,1124.1 L278.5,1123.5 L279.0,1123.1 L279.5,1122.3 L280.0,1120.8 L280.5,1126.2 L281.0,1123.0 L281.5,1123.8 L282.0,1127.5 L282.5,1122.0 L283.0,1124.1 L283.5,1119.4 L284.0,1120.7 L284.5,1123.4 L285.0,1120.8 L285.5,1117.8 L286.0,1117.1 L286.5,1120.9 L287.0,1117.6 L287.5,1120.7 L288.0,1119.3 L288.5,1117.3 L289.0,1117.3 L289.5,1118.5 L290.0,1116.1 L290.5,1113.1 L291.0,1115.2 L291.5,1112.7 L292.0,1112.0 L292.5,1112.8 L293.0,1111.1 L293.5,1111.4 L294.0,1107.3 L294.5,1105.1 L295.0,1103.7 L295.5,1103.5 L296.0,1098.7 L296.5,1097.4 L297.0,1093.7 L297.5,1090.8 L298.0,1088.7 L298.5,1090.7 L299.0,1079.8 L299.5,1075.9 L300.0,1069.3 L300.5,1061.5 L301.0,1053.6 L301.5,1048.3 L302.0,1032.1 L302.5,1023.3 L303.0,1006.5 L303.5,986.3 L304.0,968.1 L304.5,947.7 L305.0,923.5 L305.5,904.0 L306.0,876.5 L306.5,850.2 L307.0,820.6 L307.5,799.6 L308.0,776.5 L308.5,767.7 L309.0,753.3 L309.5,753.4 L310.0,760.9 L310.5,773.2 L311.0,793.4 L311.5,817.2 L312.0,845.9 L312.5,868.9 L313.0,896.3 L313.5,922.3 L314.0,943.8 L314.5,962.9 L315.0,982.5 L315.5,1001.4 L316.0,1015.3 L316.5,1033.0 L317.0,1042.4 L317.5,1052.4 L318.0,1058.8 L318.5,1069.7 L319.0,1074.2 L319.5,1078.4 L320.0,1083.8 L320.5,1094.7 L321.0,1091.6 L321.5,1094.1 L322.0,1101.4 L322.5,1102.9 L323.0,1102.8 L323.5,1108.4 L324.0,1103.8 L324.5,1107.6 L325.0,1106.5 L325.5,1114.5 L326.0,1112.8 L326.5,1119.6 L327.0,1115.9 L327.5,1116.9 L328.0,1114.2 L328.5,1114.9 L329.0,1117.2 L329.5,1121.0 L330.0,1117.3 L330.5,1115.0 L331.0,1122.7 L331.5,1123.4 L332.0,1119.9 L332.5,1123.4 L333.0,1132.8 L333.5,1125.9 L334.0,1120.2 L334.5,1124.2 L335.0,1122.7 L335.5,1126.9 L336.0,1125.3 L336.5,1122.7 L337.0,1125.9 L337.5,1127.3 L338.0,1122.8 L338.5,1123.5 L339.0,1125.2 L339.5,1126.3 L340.0,1125.9 L340.5,1123.3 L341.0,1124.1 L341.5,1127.7 L342.0,1128.9 L342.5,1126.2 L343.0,1128.8 L343.5,1132.8 L344.0,1128.3 L344.5,1127.9 L345.0,1127.5 L345.5,1130.3 L346.0,1129.9 L346.5,1130.1 L347.0,1128.8 L347.5,1130.7 L348.0,1130.9 L348.5,1129.8 L349.0,1132.8 L349.5,1126.8 L350.0,1132.1 L350.5,1130.3 L351.0,1132.6 L351.5,1135.1 L352.0,1131.0 L352.5,1130.6 L353.0,1131.1 L353.5,1134.3 L354.0,1134.8 L354.5,1131.8 L355.0,1133.0 L355.5,1135.6 L356.0,1132.9 L356.5,1128.4 L357.0,1130.0 L357.5,1130.8 L358.0,1132.9 L358.5,1130.8 L359.0,1135.3 L359.5,1131.2 L360.0,1135.9 L360.5,1130.9 L361.0,1135.5 L361.5,1133.0 L362.0,1135.8 L362.5,1137.1 L363.0,1136.7 L363.5,1135.2 L364.0,1131.2 L364.5,1131.1 L365.0,1125.8 L365.5,1136.4 L366.0,1136.0 L366.5,1135.5 L367.0,1130.7 L367.5,1139.6 L368.0,1131.9 L368.5,1135.4 L369.0,1129.8 L369.5,1132.2 L370.0,1136.4 L370.5,1136.0 L371.0,1131.2 L371.5,1133.6 L372.0,1136.3 L372.5,1129.6 L373.0,1135.6 L373.5,1130.4 L374.0,1135.4 L374.5,1133.4 L375.0,1136.3 L375.5,1132.9 L376.0,1133.3 L376.5,1133.3 L377.0,1132.0 L377.5,1133.5 L378.0,1131.9 L378.5,1133.0 L379.0,1135.8 L379.5,1133.6 L380.0,1136.8 L380.5,1136.0 L381.0,1136.3 L381.5,1131.8 L382.0,1135.4 L382.5,1137.8 L383.0,1136.6 L383.5,1137.4 L384.0,1138.1 L384.5,1131.2 L385.0,1136.0 L385.5,1136.0 L386.0,1134.3 L386.5,1131.8 L387.0,1135.2 L387.5,1134.5 L388.0,1139.4 L388.5,1137.9 L389.0,1134.0 L389.5,1132.6 L390.0,1133.1 L390.5,1135.0 L391.0,1133.5 L391.5,1139.7 L392.0,1132.5 L392.5,1135.0 L393.0,1135.6 L393.5,1136.2 L394.0,1133.2 L394.5,1134.8 L395.0,1135.8 L395.5,1136.2 L396.0,1134.1 L396.5,1134.8 L397.0,1136.0 L397.5,1139.9 L398.0,1132.8 L398.5,1137.2 L399.0,1139.3 L399.5,1132.5 L400.0,1139.0 L400.5,1139.0 L401.0,1136.0 L401.5,1138.1 L402.0,1139.4 L402.5,1135.7 L403.0,1136.7 L403.5,1133.8 L404.0,1134.7 L404.5,1136.5 L405.0,1136.2 L405.5,1140.1 L406.0,1136.0 L406.5,1133.8 L407.0,1138.7 L407.5,1138.8 L408.0,1137.7 L408.5,1136.5 L409.0,1129.0 L409.5,1135.5 L410.0,1140.5 L410.5,1138.8 L411.0,1137.4 L411.5,1138.1 L412.0,1136.4 L412.5,1135.2 L413.0,1136.3 L413.5,1137.3 L414.0,1133.7 L414.5,1134.2 L415.0,1133.6 L415.5,1136.5 L416.0,1139.0 L416.5,1134.6 L417.0,1135.1 L417.5,1134.1 L418.0,1136.7 L418.5,1135.1 L419.0,1135.5 L419.5,1135.4 L420.0,1143.1 L420.5,1137.8 L421.0,1136.5 L421.5,1137.1 L422.0,1140.1 L422.5,1140.4 L423.0,1138.9 L423.5,1133.8 L424.0,1140.6 L424.5,1140.8 L425.0,1140.2 L425.5,1139.6 L426.0,1138.8 L426.5,1141.4 L427.0,1138.0 L427.5,1141.1 L428.0,1137.7 L428.5,1138.0 L429.0,1137.9 L429.5,1137.7 L430.0,1137.9 L430.5,1140.8 L431.0,1142.7 L431.5,1137.6 L432.0,1136.9 L432.5,1142.1 L433.0,1138.6 L433.5,1140.0 L434.0,1139.8 L434.5,1141.6 L435.0,1137.5 L435.5,1142.2 L436.0,1141.5 L436.5,1134.7 L437.0,1139.4 L437.5,1138.9 L438.0,1140.7 L438.5,1139.8 L439.0,1138.2 L439.5,1139.2 L440.0,1140.9 L440.5,1140.2 L441.0,1139.8 L441.5,1145.3 L442.0,1141.5 L442.5,1137.8 L443.0,1140.6 L443.5,1141.2 L444.0,1138.2 L444.5,1140.8 L445.0,1138.7 L445.5,1135.6 L446.0,1141.5 L446.5,1142.2 L447.0,1142.2 L447.5,1140.5 L448.0,1139.6 L448.5,1141.5 L449.0,1142.0 L449.5,1143.2 L450.0,1144.2 L450.5,1143.0 L451.0,1139.9 L451.5,1141.2 L452.0,1138.1 L452.5,1143.0 L453.0,1142.8 L453.5,1144.2 L454.0,1142.7 L454.5,1145.2 L455.0,1140.1 L455.5,1142.5 L456.0,1141.2 L456.5,1141.3 L457.0,1137.8 L457.5,1140.2 L458.0,1137.4 L458.5,1141.3 L459.0,1140.5 L459.5,1142.4 L460.0,1138.0 L460.5,1141.0 L461.0,1141.6 L461.5,1137.0 L462.0,1146.0 L462.5,1143.4 L463.0,1140.6 L463.5,1146.7 L464.0,1145.6 L464.5,1136.9 L465.0,1141.9 L465.5,1141.2 L466.0,1142.8 L466.5,1140.6 L467.0,1142.2 L467.5,1143.0 L468.0,1137.2 L468.5,1143.2 L469.0,1146.2 L469.5,1143.3 L470.0,1145.7 L470.5,1146.8 L471.0,1143.9 L471.5,1144.2 L472.0,1144.2 L472.5,1142.4 L473.0,1148.6 L473.5,1144.5 L474.0,1144.8 L474.5,1145.8 L475.0,1147.0 L475.5,1140.6 L476.0,1141.4 L476.5,1144.2 L477.0,1145.1 L477.5,1141.2 L478.0,1140.8 L478.5,1145.8 L479.0,1145.7 L479.5,1143.5 L480.0,1143.5 L480.5,1142.8 L481.0,1141.6 L481.5,1142.3 L482.0,1144.7 L482.5,1143.9 L483.0,1146.6 L483.5,1141.4 L484.0,1140.5 L484.5,1145.7 L485.0,1142.3 L485.5,1143.7 L486.0,1144.5 L486.5,1141.6 L487.0,1140.9 L487.5,1145.1 L488.0,1138.3 L488.5,1145.9 L489.0,1140.4 L489.5,1146.3 L490.0,1145.2 L490.5,1145.0 L491.0,1145.6 L491.5,1144.9 L492.0,1141.4 L492.5,1146.5 L493.0,1144.9 L493.5,1145.7 L494.0,1144.3 L494.5,1144.0 L495.0,1146.8 L495.5,1146.8 L496.0,1145.2 L496.5,1142.0 L497.0,1142.6 L497.5,1142.4 L498.0,1147.3 L498.5,1146.0 L499.0,1145.0 L499.5,1144.5 L500.0,1143.2 L500.5,1146.8 L501.0,1142.6 L501.5,1143.0 L502.0,1146.9 L502.5,1146.4 L503.0,1144.9 L503.5,1142.2 L504.0,1142.2 L504.5,1147.0 L505.0,1146.0 L505.5,1148.5 L506.0,1144.1 L506.5,1145.0 L507.0,1143.0 L507.5,1149.0 L508.0,1141.4 L508.5,1146.7 L509.0,1149.0 L509.5,1143.1 L510.0,1142.0 L510.5,1143.0 L511.0,1142.1 L511.5,1146.1 L512.0,1145.1 L512.5,1143.3 L513.0,1144.7 L513.5,1148.8 L514.0,1144.8 L514.5,1144.5 L515.0,1149.9 L515.5,1143.4 L516.0,1144.4 L516.5,1148.8 L517.0,1145.5 L517.5,1141.1 L518.0,1143.5 L518.5,1140.3 L519.0,1144.0 L519.5,1146.2 L520.0,1141.7 L520.5,1149.0 L521.0,1148.4 L521.5,1147.3 L522.0,1143.8 L522.5,1145.6 L523.0,1146.8 L523.5,1147.7 L524.0,1148.5 L524.5,1140.6 L525.0,1143.9 L525.5,1142.9 L526.0,1144.8 L526.5,1146.1 L527.0,1150.9 L527.5,1145.4 L528.0,1147.7 L528.5,1145.9 L529.0,1145.6 L529.5,1149.7 L530.0,1143.1 L530.5,1147.3 L531.0,1150.5 L531.5,1153.6 L532.0,1144.6 L532.5,1143.6 L533.0,1142.9 L533.5,1144.8 L534.0,1145.8 L534.5,1145.8 L535.0,1148.4 L535.5,1145.1 L536.0,1146.6 L536.5,1142.0 L537.0,1144.3 L537.5,1145.5 L538.0,1140.4 L538.5,1146.1 L539.0,1147.9 L539.5,1146.1 L540.0,1146.4 L540.5,1145.9 L541.0,1143.2 L541.5,1146.0 L542.0,1144.7 L542.5,1146.2 L543.0,1146.1 L543.5,1146.3 L544.0,1142.9 L544.5,1145.9 L545.0,1150.0 L545.5,1148.2 L546.0,1145.5 L546.5,1144.4 L547.0,1148.3 L547.5,1146.0 L548.0,1142.0 L548.5,1145.0 L549.0,1150.0 L549.5,1142.2 L550.0,1146.2 L550.5,1144.3 L551.0,1145.9 L551.5,1145.1 L552.0,1144.0 L552.5,1140.1 L553.0,1145.6 L553.5,1146.2 L554.0,1145.8 L554.5,1143.6 L555.0,1144.7 L555.5,1151.2 L556.0,1143.5 L556.5,1145.4 L557.0,1143.2 L557.5,1145.6 L558.0,1146.7 L558.5,1149.0 L559.0,1146.7 L559.5,1146.2 L560.0,1147.0 L560.5,1147.5 L561.0,1146.1 L561.5,1146.2 L562.0,1149.1 L562.5,1144.6 L563.0,1146.1 L563.5,1144.1 L564.0,1145.1 L564.5,1149.7 L565.0,1144.6 L565.5,1147.5 L566.0,1151.2 L566.5,1147.5 L567.0,1145.9 L567.5,1144.5 L568.0,1140.4 L568.5,1144.1 L569.0,1144.2 L569.5,1148.5 L570.0,1147.9 L570.5,1143.3 L571.0,1147.8 L571.5,1144.9 L572.0,1150.6 L572.5,1149.8 L573.0,1147.9 L573.5,1145.5 L574.0,1150.5 L574.5,1148.5 L575.0,1149.2 L575.5,1147.8 L576.0,1145.9 L576.5,1148.4 L577.0,1144.7 L577.5,1148.4 L578.0,1147.0 L578.5,1142.8 L579.0,1147.7 L579.5,1146.5 L580.0,1145.7 L580.5,1146.4 L581.0,1148.4 L581.5,1144.0 L582.0,1144.1 L582.5,1148.3 L583.0,1147.0 L583.5,1142.6 L584.0,1146.9 L584.5,1142.7 L585.0,1148.2 L585.5,1147.2 L586.0,1147.7 L586.5,1143.0 L587.0,1144.7 L587.5,1148.5 L588.0,1143.3 L588.5,1147.7 L589.0,1146.0 L589.5,1146.8 L590.0,1144.6 L590.5,1147.9 L591.0,1147.4 L591.5,1148.5 L592.0,1152.2 L592.5,1146.0 L593.0,1146.7 L593.5,1144.1 L594.0,1150.6 L594.5,1145.7 L595.0,1148.3 L595.5,1143.9 L596.0,1146.0 L596.5,1147.9 L597.0,1147.7 L597.5,1145.9 L598.0,1148.7 L598.5,1146.9 L599.0,1149.0 L599.5,1146.1 L600.0,1148.1 L600.5,1145.5 L601.0,1149.6 L601.5,1146.6 L602.0,1146.7 L602.5,1145.3 L603.0,1148.9 L603.5,1147.0 L604.0,1146.1 L604.5,1149.6 L605.0,1144.8 L605.5,1148.8 L606.0,1150.0 L606.5,1142.5 L607.0,1148.6 L607.5,1147.7 L608.0,1146.9 L608.5,1147.3 L609.0,1143.6 L609.5,1147.5 L610.0,1146.9 L610.5,1142.9 L611.0,1145.9 L611.5,1143.5 L612.0,1146.5 L612.5,1144.2 L613.0,1146.5 L613.5,1142.9 L614.0,1144.9 L614.5,1145.2 L615.0,1145.6 L615.5,1148.7 L616.0,1151.1 L616.5,1142.5 L617.0,1147.9 L617.5,1145.3 L618.0,1145.3 L618.5,1145.2 L619.0,1145.5 L619.5,1145.7 L620.0,1147.7 L620.5,1148.7 L621.0,1146.6 L621.5,1145.8 L622.0,1147.0 L622.5,1146.6 L623.0,1149.8 L623.5,1143.4 L624.0,1142.3 L624.5,1144.9 L625.0,1146.1 L625.5,1144.8 L626.0,1145.8 L626.5,1139.3 L627.0,1143.4 L627.5,1143.5 L628.0,1141.9 L628.5,1143.5 L629.0,1144.2 L629.5,1145.6 L630.0,1142.5 L630.5,1140.7 L631.0,1145.4 L631.5,1148.7 L632.0,1144.6 L632.5,1144.5 L633.0,1141.8 L633.5,1144.5 L634.0,1147.5 L634.5,1139.4 L635.0,1146.0 L635.5,1139.2 L636.0,1146.9 L636.5,1145.3 L637.0,1142.6 L637.5,1143.8 L638.0,1146.8 L638.5,1140.5 L639.0,1145.5 L639.5,1144.0 L640.0,1142.5 L640.5,1145.7 L641.0,1138.5 L641.5,1141.8 L642.0,1139.2 L642.5,1141.7 L643.0,1142.8 L643.5,1137.8 L644.0,1141.9 L644.5,1141.7 L645.0,1139.5 L645.5,1140.4 L646.0,1142.8 L646.5,1140.8 L647.0,1143.5 L647.5,1137.2 L648.0,1136.4 L648.5,1141.6 L649.0,1135.6 L649.5,1141.0 L650.0,1137.8 L650.5,1139.0 L651.0,1136.3 L651.5,1139.0 L652.0,1139.2 L652.5,1138.4 L653.0,1136.3 L653.5,1131.6 L654.0,1136.2 L654.5,1133.6 L655.0,1130.5 L655.5,1128.6 L656.0,1132.2 L656.5,1129.4 L657.0,1129.4 L657.5,1130.5 L658.0,1129.3 L658.5,1129.5 L659.0,1126.1 L659.5,1125.0 L660.0,1123.0 L660.5,1118.2 L661.0,1121.4 L661.5,1115.3 L662.0,1113.9 L662.5,1113.7 L663.0,1108.7 L663.5,1106.3 L664.0,1098.5 L664.5,1098.5 L665.0,1093.8 L665.5,1090.0 L666.0,1087.1 L666.5,1078.7 L667.0,1071.4 L667.5,1063.0 L668.0,1054.4 L668.5,1042.1 L669.0,1026.0 L669.5,1007.4 L670.0,990.1 L670.5,964.6 L671.0,938.8 L671.5,910.7 L672.0,876.4 L672.5,839.8 L673.0,802.0 L673.5,765.7 L674.0,729.3 L674.5,696.1 L675.0,665.1 L675.5,648.9 L676.0,641.8 L676.5,646.7 L677.0,670.9 L677.5,690.7 L678.0,723.8 L678.5,762.7 L679.0,803.4 L679.5,835.7 L680.0,873.9 L680.5,900.1 L681.0,929.8 L681.5,955.2 L682.0,976.8 L682.5,996.2 L683.0,1011.7 L683.5,1024.8 L684.0,1034.1 L684.5,1046.5 L685.0,1052.8 L685.5,1059.1 L686.0,1065.7 L686.5,1067.6 L687.0,1069.5 L687.5,1073.6 L688.0,1070.1 L688.5,1067.4 L689.0,1068.6 L689.5,1065.2 L690.0,1064.5 L690.5,1060.5 L691.0,1055.6 L691.5,1049.7 L692.0,1042.2 L692.5,1031.6 L693.0,1018.6 L693.5,1002.8 L694.0,984.9 L694.5,965.6 L695.0,941.6 L695.5,913.3 L696.0,885.2 L696.5,855.3 L697.0,819.5 L697.5,782.2 L698.0,750.0 L698.5,719.5 L699.0,690.4 L699.5,679.9 L700.0,673.3 L700.5,676.9 L701.0,697.2 L701.5,721.7 L702.0,754.9 L702.5,787.2 L703.0,824.4 L703.5,860.5 L704.0,894.2 L704.5,924.1 L705.0,949.4 L705.5,975.1 L706.0,1000.1 L706.5,1017.2 L707.0,1037.9 L707.5,1051.1 L708.0,1059.5 L708.5,1070.5 L709.0,1074.7 L709.5,1087.5 L710.0,1094.6 L710.5,1095.9 L711.0,1100.5 L711.5,1104.9 L712.0,1111.3 L712.5,1115.1 L713.0,1113.5 L713.5,1117.3 L714.0,1121.5 L714.5,1122.8 L715.0,1123.6 L715.5,1127.1 L716.0,1125.6 L716.5,1125.8 L717.0,1131.6 L717.5,1133.1 L718.0,1135.5 L718.5,1133.1 L719.0,1132.9 L719.5,1135.8 L720.0,1136.4 L720.5,1137.5 L721.0,1138.0 L721.5,1141.7 L722.0,1140.2 L722.5,1143.1 L723.0,1139.3 L723.5,1139.2 L724.0,1143.9 L724.5,1139.8 L725.0,1140.4 L725.5,1140.9 L726.0,1139.8 L726.5,1145.2 L727.0,1148.2 L727.5,1146.2 L728.0,1147.1 L728.5,1145.0 L729.0,1144.0 L729.5,1147.5 L730.0,1144.2 L730.5,1143.7 L731.0,1145.4 L731.5,1149.8 L732.0,1148.6 L732.5,1147.5 L733.0,1145.9 L733.5,1146.4 L734.0,1149.4 L734.5,1148.7 L735.0,1147.4 L735.5,1151.8 L736.0,1148.1 L736.5,1146.2 L737.0,1149.3 L737.5,1152.3 L738.0,1151.7 L738.5,1152.4 L739.0,1148.8 L739.5,1151.6 L740.0,1151.1 L740.5,1150.4 L741.0,1148.6 L741.5,1153.9 L742.0,1151.6 L742.5,1150.3 L743.0,1153.3 L743.5,1157.3 L744.0,1148.7 L744.5,1152.6 L745.0,1156.1 L745.5,1156.2 L746.0,1150.1 L746.5,1151.3 L747.0,1148.1 L747.5,1152.6 L748.0,1149.4 L748.5,1150.5 L749.0,1156.0 L749.5,1150.4 L750.0,1149.2 L750.5,1153.3 L751.0,1153.8 L751.5,1154.0 L752.0,1156.1 L752.5,1152.2 L753.0,1153.5 L753.5,1155.3 L754.0,1153.1 L754.5,1157.1 L755.0,1156.3 L755.5,1154.4 L756.0,1154.0 L756.5,1154.6 L757.0,1155.3 L757.5,1150.3 L758.0,1151.9 L758.5,1153.0 L759.0,1152.9 L759.5,1153.5 L760.0,1153.6 L760.5,1155.2 L761.0,1154.3 L761.5,1155.8 L762.0,1155.8 L762.5,1155.1 L763.0,1154.3 L763.5,1153.7 L764.0,1157.1 L764.5,1154.4 L765.0,1155.9 L765.5,1157.3 L766.0,1156.0 L766.5,1152.1 L767.0,1153.9 L767.5,1160.0 L768.0,1152.1 L768.5,1158.5 L769.0,1153.3 L769.5,1156.0 L770.0,1158.2 L770.5,1153.7 L771.0,1158.1 L771.5,1151.1 L772.0,1155.6 L772.5,1154.6 L773.0,1156.9 L773.5,1157.8 L774.0,1158.7 L774.5,1158.7 L775.0,1155.3 L775.5,1154.3 L776.0,1157.2 L776.5,1155.1 L777.0,1151.7 L777.5,1151.6 L778.0,1155.5 L778.5,1155.5 L779.0,1156.6 L779.5,1156.9 L780.0,1153.0 L780.5,1157.2 L781.0,1154.0 L781.5,1157.5 L782.0,1156.5 L782.5,1160.0 L783.0,1157.3 L783.5,1155.3 L784.0,1156.0 L784.5,1156.6 L785.0,1157.8 L785.5,1158.2 L786.0,1154.6 L786.5,1154.3 L787.0,1158.2 L787.5,1156.6 L788.0,1158.9 L788.5,1157.7 L789.0,1160.3 L789.5,1158.0 L790.0,1153.9 L790.5,1155.6 L791.0,1157.8 L791.5,1154.2 L792.0,1156.5 L792.5,1158.0 L793.0,1158.9 L793.5,1158.3 L794.0,1153.0 L794.5,1158.9 L795.0,1154.3 L795.5,1156.4 L796.0,1154.4 L796.5,1158.2 L797.0,1155.9 L797.5,1156.5 L798.0,1156.8 L798.5,1155.6 L799.0,1154.3 L799.5,1158.7 L800.0,1156.7 L800.5,1156.9 L801.0,1151.2 L801.5,1150.5 L802.0,1158.3 L802.5,1155.9 L803.0,1150.1 L803.5,1154.5 L804.0,1153.3 L804.5,1150.5 L805.0,1151.1 L805.5,1155.3 L806.0,1148.9 L806.5,1150.5 L807.0,1146.5 L807.5,1143.6 L808.0,1150.6 L808.5,1145.0 L809.0,1140.3 L809.5,1138.2 L810.0,1135.8 L810.5,1131.2 L811.0,1131.5 L811.5,1128.8 L812.0,1123.4 L812.5,1121.5 L813.0,1116.5 L813.5,1118.4 L814.0,1113.1 L814.5,1117.7 L815.0,1122.6 L815.5,1121.0 L816.0,1130.3 L816.5,1125.0 L817.0,1130.0 L817.5,1133.6 L818.0,1138.5 L818.5,1141.8 L819.0,1141.9 L819.5,1140.3 L820.0,1148.6 L820.5,1148.5 L821.0,1150.2 L821.5,1146.2 L822.0,1151.7 L822.5,1151.1 L823.0,1154.3 L823.5,1156.6 L824.0,1151.5 L824.5,1153.6 L825.0,1154.3 L825.5,1152.9 L826.0,1156.0 L826.5,1156.2 L827.0,1153.4 L827.5,1153.7 L828.0,1156.3 L828.5,1152.0 L829.0,1156.7 L829.5,1158.1 L830.0,1158.2 L830.5,1154.4 L831.0,1160.4 L831.5,1161.2 L832.0,1154.4 L832.5,1160.6 L833.0,1159.8 L833.5,1159.0 L834.0,1155.5 L834.5,1159.5 L835.0,1155.0 L835.5,1157.5 L836.0,1159.3 L836.5,1158.7 L837.0,1157.1 L837.5,1158.6 L838.0,1157.5 L838.5,1158.5 L839.0,1156.3 L839.5,1155.4 L840.0,1156.8 L840.5,1155.4 L841.0,1160.5 L841.5,1163.7 L842.0,1159.6 L842.5,1160.7 L843.0,1155.9 L843.5,1158.0 L844.0,1155.9 L844.5,1159.7 L845.0,1158.6 L845.5,1156.2 L846.0,1161.4 L846.5,1158.3 L847.0,1160.1 L847.5,1160.3 L848.0,1161.5 L848.5,1161.2 L849.0,1158.5 L849.5,1158.0 L850.0,1157.1 L850.5,1156.2 L851.0,1162.2 L851.5,1157.2 L852.0,1161.4 L852.5,1156.5 L853.0,1156.8 L853.5,1160.4 L854.0,1158.0 L854.5,1156.6 L855.0,1161.7 L855.5,1155.5 L856.0,1156.5 L856.5,1159.7 L857.0,1161.5 L857.5,1158.2 L858.0,1156.5 L858.5,1163.0 L859.0,1158.3 L859.5,1156.9 L860.0,1158.5 L860.5,1160.8 L861.0,1152.2 L861.5,1156.0 L862.0,1159.8 L862.5,1159.4 L863.0,1158.4 L863.5,1158.0 L864.0,1159.5 L864.5,1160.6 L865.0,1157.1 L865.5,1157.4 L866.0,1160.0 L866.5,1157.6 L867.0,1155.5 L867.5,1158.0 L868.0,1156.0 L868.5,1159.7 L869.0,1160.2 L869.5,1157.1 L870.0,1158.2 L870.5,1159.2 L871.0,1161.2 L871.5,1160.7 L872.0,1159.1 L872.5,1159.4 L873.0,1161.5 L873.5,1160.1 L874.0,1159.8 L874.5,1156.5 L875.0,1159.2 L875.5,1159.7 L876.0,1159.0 L876.5,1156.6 L877.0,1155.0 L877.5,1160.1 L878.0,1160.2 L878.5,1159.1 L879.0,1157.0 L879.5,1157.9 L880.0,1158.7 L880.5,1160.5 L881.0,1159.1 L881.5,1157.2 L882.0,1157.8 L882.5,1156.4 L883.0,1162.8 L883.5,1157.4 L884.0,1162.0 L884.5,1159.5 L885.0,1162.8 L885.5,1156.7 L886.0,1160.6 L886.5,1157.1 L887.0,1157.1 L887.5,1157.4 L888.0,1156.2 L888.5,1157.0 L889.0,1158.4 L889.5,1162.4 L890.0,1158.0 L890.5,1155.6 L891.0,1160.2 L891.5,1161.8 L892.0,1153.4 L892.5,1159.9 L893.0,1155.9 L893.5,1154.9 L894.0,1160.2 L894.5,1161.9 L895.0,1162.8 L895.5,1158.9 L896.0,1158.0 L896.5,1159.2 L897.0,1160.1 L897.5,1160.8 L898.0,1161.8 L898.5,1159.8 L899.0,1160.2 L899.5,1159.4 L900.0,1157.3 L900.5,1159.9 L901.0,1162.1 L901.5,1160.6 L902.0,1154.4 L902.5,1162.3 L903.0,1157.1 L903.5,1163.9 L904.0,1163.6 L904.5,1160.5 L905.0,1163.0 L905.5,1157.2 L906.0,1158.5 L906.5,1157.4 L907.0,1159.6 L907.5,1159.0 L908.0,1159.3 L908.5,1159.1 L909.0,1162.0 L909.5,1158.8 L910.0,1157.8 L910.5,1158.9 L911.0,1159.7 L911.5,1159.6 L912.0,1156.4 L912.5,1157.5 L913.0,1157.9 L913.5,1156.5 L914.0,1155.0 L914.5,1157.1 L915.0,1152.6 L915.5,1157.7 L916.0,1155.5 L916.5,1157.5 L917.0,1157.9 L917.5,1162.3 L918.0,1162.5 L918.5,1163.0 L919.0,1158.3 L919.5,1157.0 L920.0,1159.9 L920.5,1155.8 L921.0,1157.8 L921.5,1156.3 L922.0,1157.8 L922.5,1159.5 L923.0,1155.5 L923.5,1158.3 L924.0,1158.1 L924.5,1158.1 L925.0,1158.7 L925.5,1156.7 L926.0,1157.3 L926.5,1156.6 L927.0,1153.9 L927.5,1160.5 L928.0,1158.7 L928.5,1158.6 L929.0,1155.6 L929.5,1153.1 L930.0,1157.4 L930.5,1154.7 L931.0,1160.5 L931.5,1160.3 L932.0,1155.2 L932.5,1159.1 L933.0,1157.6 L933.5,1155.7 L934.0,1152.3 L934.5,1156.9 L935.0,1157.3 L935.5,1157.2 L936.0,1153.8 L936.5,1154.9 L937.0,1154.7 L937.5,1154.3 L938.0,1152.6 L938.5,1156.0 L939.0,1154.6 L939.5,1152.1 L940.0,1153.4 L940.5,1154.2 L941.0,1152.3 L941.5,1151.6 L942.0,1152.0 L942.5,1148.0 L943.0,1150.4 L943.5,1146.5 L944.0,1147.4 L944.5,1148.5 L945.0,1143.6 L945.5,1145.6 L946.0,1142.7 L946.5,1142.2 L947.0,1133.5 L947.5,1125.3 L948.0,1128.4 L948.5,1131.0 L949.0,1122.4 L949.5,1115.7 L950.0,1110.0 L950.5,1103.6 L951.0,1094.0 L951.5,1090.1 L952.0,1075.1 L952.5,1060.9 L953.0,1049.4 L953.5,1040.3 L954.0,1029.5 L954.5,1021.6 L955.0,1014.5 L955.5,1010.5 L956.0,1005.6 L956.5,1012.3 L957.0,1016.7 L957.5,1027.8 L958.0,1036.1 L958.5,1052.8 L959.0,1064.6 L959.5,1073.5 L960.0,1081.1 L960.5,1095.0 L961.0,1101.8 L961.5,1105.7 L962.0,1116.7 L962.5,1122.9 L963.0,1126.9 L963.5,1126.1 L964.0,1135.1 L964.5,1138.6 L965.0,1137.8 L965.5,1143.6 L966.0,1144.2 L966.5,1146.8 L967.0,1142.2 L967.5,1146.5 L968.0,1149.3 L968.5,1145.8 L969.0,1150.2 L969.5,1154.4 L970.0,1147.9 L970.5,1155.0 L971.0,1154.4 L971.5,1151.0 L972.0,1151.6 L972.5,1151.8 L973.0,1154.8 L973.5,1149.3 L974.0,1156.3 L974.5,1151.7 L975.0,1154.6 L975.5,1154.7 L976.0,1157.5 L976.5,1153.9 L977.0,1154.5 L977.5,1159.1 L978.0,1160.3 L978.5,1156.7 L979.0,1156.2 L979.5,1157.7 L980.0,1157.4 L980.5,1157.4 L981.0,1155.3 L981.5,1152.7 L982.0,1158.2 L982.5,1157.7 L983.0,1160.4 L983.5,1160.5 L984.0,1161.7 L984.5,1157.0 L985.0,1159.8 L985.5,1155.5 L986.0,1158.9 L986.5,1159.5 L987.0,1156.9 L987.5,1158.3 L988.0,1164.0 L988.5,1156.8 L989.0,1161.0 L989.5,1158.0 L990.0,1160.8 L990.5,1153.1 L991.0,1156.0 L991.5,1158.4 L992.0,1162.7 L992.5,1158.6 L993.0,1156.3 L993.5,1158.1 L994.0,1160.8 L994.5,1155.7 L995.0,1159.3 L995.5,1158.7 L996.0,1158.3 L996.5,1160.1 L997.0,1157.6 L997.5,1160.6 L998.0,1160.7 L998.5,1163.2 L999.0,1160.2 L999.5,1159.3 L1000.0,1157.0 L1000.5,1158.3 L1001.0,1156.7 L1001.5,1162.7 L1002.0,1154.5 L1002.5,1160.7 L1003.0,1160.8 L1003.5,1161.3 L1004.0,1158.9 L1004.5,1164.8 L1005.0,1159.2 L1005.5,1156.4 L1006.0,1158.5 L1006.5,1158.4 L1007.0,1163.0 L1007.5,1160.0 L1008.0,1158.1 L1008.5,1158.1 L1009.0,1159.8 L1009.5,1159.2 L1010.0,1160.0 L1010.5,1162.5 L1011.0,1157.2 L1011.5,1158.8 L1012.0,1160.9 L1012.5,1157.1 L1013.0,1161.8 L1013.5,1163.5 L1014.0,1160.8 L1014.5,1162.4 L1015.0,1159.9 L1015.5,1160.7 L1016.0,1161.3 L1016.5,1160.6 L1017.0,1163.5 L1017.5,1159.7 L1018.0,1162.8 L1018.5,1159.8 L1019.0,1164.3 L1019.5,1163.9 L1020.0,1161.6 L1020.5,1157.7 L1021.0,1158.8 L1021.5,1154.7 L1022.0,1162.5 L1022.5,1159.5 L1023.0,1158.8 L1023.5,1160.5 L1024.0,1157.2 L1024.5,1159.3 L1025.0,1160.7 L1025.5,1162.5 L1026.0,1165.3 L1026.5,1158.4 L1027.0,1162.3 L1027.5,1158.8 L1028.0,1157.8 L1028.5,1160.9 L1029.0,1159.9 L1029.5,1156.5 L1030.0,1159.8 L1030.5,1164.2 L1031.0,1158.0 L1031.5,1158.0 L1032.0,1162.4 L1032.5,1160.1 L1033.0,1157.8 L1033.5,1160.5 L1034.0,1158.1 L1034.5,1157.4 L1035.0,1159.9 L1035.5,1156.9 L1036.0,1160.5 L1036.5,1162.1 L1037.0,1156.9 L1037.5,1156.6 L1038.0,1156.4 L1038.5,1157.7 L1039.0,1155.8 L1039.5,1157.5 L1040.0,1158.9 L1040.5,1154.4 L1041.0,1157.1 L1041.5,1158.9 L1042.0,1157.9 L1042.5,1153.6 L1043.0,1158.1 L1043.5,1152.7 L1044.0,1156.8 L1044.5,1150.5 L1045.0,1155.0 L1045.5,1152.4 L1046.0,1151.8 L1046.5,1151.1 L1047.0,1149.2 L1047.5,1151.7 L1048.0,1150.3 L1048.5,1151.1 L1049.0,1146.5 L1049.5,1149.1 L1050.0,1148.8 L1050.5,1143.4 L1051.0,1147.1 L1051.5,1146.6 L1052.0,1139.1 L1052.5,1138.2 L1053.0,1144.2 L1053.5,1137.7 L1054.0,1134.6 L1054.5,1130.7 L1055.0,1131.8 L1055.5,1126.6 L1056.0,1125.4 L1056.5,1121.4 L1057.0,1117.9 L1057.5,1113.7 L1058.0,1106.1 L1058.5,1101.4 L1059.0,1094.1 L1059.5,1083.3 L1060.0,1071.8 L1060.5,1061.6 L1061.0,1050.0 L1061.5,1029.0 L1062.0,1008.5 L1062.5,987.4 L1063.0,959.7 L1063.5,931.6 L1064.0,898.9 L1064.5,862.4 L1065.0,826.9 L1065.5,785.7 L1066.0,748.4 L1066.5,712.1 L1067.0,686.4 L1067.5,670.5 L1068.0,666.3 L1068.5,676.8 L1069.0,688.0 L1069.5,715.1 L1070.0,754.7 L1070.5,784.7 L1071.0,828.4 L1071.5,864.7 L1072.0,903.1 L1072.5,931.6 L1073.0,961.8 L1073.5,983.7 L1074.0,1008.9 L1074.5,1030.1 L1075.0,1046.0 L1075.5,1060.3 L1076.0,1076.8 L1076.5,1081.7 L1077.0,1090.2 L1077.5,1098.2 L1078.0,1106.3 L1078.5,1111.3 L1079.0,1117.5 L1079.5,1120.7 L1080.0,1129.8 L1080.5,1127.5 L1081.0,1131.6 L1081.5,1135.8 L1082.0,1142.0 L1082.5,1138.5 L1083.0,1139.6 L1083.5,1144.7 L1084.0,1143.2 L1084.5,1142.0 L1085.0,1143.4 L1085.5,1147.1 L1086.0,1146.2 L1086.5,1152.7 L1087.0,1152.3 L1087.5,1156.0 L1088.0,1153.6 L1088.5,1153.2 L1089.0,1156.2 L1089.5,1156.9 L1090.0,1154.1 L1090.5,1160.5 L1091.0,1157.8 L1091.5,1159.7 L1092.0,1157.2 L1092.5,1161.1 L1093.0,1164.3 L1093.5,1159.2 L1094.0,1157.7 L1094.5,1160.6 L1095.0,1160.9 L1095.5,1162.3 L1096.0,1157.6 L1096.5,1163.7 L1097.0,1162.2 L1097.5,1161.2 L1098.0,1159.3 L1098.5,1162.7 L1099.0,1164.8 L1099.5,1163.6 L1100.0,1163.8 L1100.5,1163.0 L1101.0,1163.6 L1101.5,1160.1 L1102.0,1166.6 L1102.5,1165.7 L1103.0,1162.9 L1103.5,1163.7 L1104.0,1160.6 L1104.5,1161.8 L1105.0,1164.8 L1105.5,1162.3 L1106.0,1161.5 L1106.5,1163.3 L1107.0,1165.5 L1107.5,1161.8 L1108.0,1165.2 L1108.5,1165.6 L1109.0,1165.7 L1109.5,1165.5 L1110.0,1164.6 L1110.5,1163.8 L1111.0,1166.7 L1111.5,1162.5 L1112.0,1167.3 L1112.5,1161.7 L1113.0,1164.1 L1113.5,1165.1 L1114.0,1160.6 L1114.5,1165.8 L1115.0,1167.1 L1115.5,1162.2 L1116.0,1164.2 L1116.5,1166.5 L1117.0,1166.4 L1117.5,1166.9 L1118.0,1161.2 L1118.5,1164.2 L1119.0,1167.4 L1119.5,1161.4 L1120.0,1161.9 L1120.5,1164.4 L1121.0,1164.4 L1121.5,1161.4 L1122.0,1162.4 L1122.5,1164.2 L1123.0,1164.8 L1123.5,1168.6 L1124.0,1166.6 L1124.5,1165.1 L1125.0,1164.5 L1125.5,1166.1 L1126.0,1170.4 L1126.5,1163.7 L1127.0,1162.5 L1127.5,1161.7 L1128.0,1164.4 L1128.5,1161.7 L1129.0,1160.0 L1129.5,1162.4 L1130.0,1162.3 L1130.5,1166.2 L1131.0,1167.5 L1131.5,1162.9 L1132.0,1162.8 L1132.5,1166.2 L1133.0,1163.8 L1133.5,1162.9 L1134.0,1165.5 L1134.5,1161.5 L1135.0,1164.9 L1135.5,1168.1 L1136.0,1160.0 L1136.5,1164.2 L1137.0,1162.5 L1137.5,1165.8 L1138.0,1165.0 L1138.5,1160.7 L1139.0,1162.1 L1139.5,1160.3 L1140.0,1164.4 L1140.5,1159.9 L1141.0,1161.4 L1141.5,1163.4 L1142.0,1160.1 L1142.5,1158.4 L1143.0,1157.9 L1143.5,1157.8 L1144.0,1159.3 L1144.5,1158.6 L1145.0,1159.9 L1145.5,1158.2 L1146.0,1160.5 L1146.5,1158.9 L1147.0,1159.6 L1147.5,1154.2 L1148.0,1151.8 L1148.5,1156.1 L1149.0,1152.6 L1149.5,1145.3 L1150.0,1146.6 L1150.5,1146.5 L1151.0,1145.5 L1151.5,1144.9 L1152.0,1138.7 L1152.5,1132.8 L1153.0,1126.9 L1153.5,1121.5 L1154.0,1117.1 L1154.5,1111.5 L1155.0,1109.6 L1155.5,1108.4 L1156.0,1104.6 L1156.5,1100.2 L1157.0,1104.4 L1157.5,1107.3 L1158.0,1107.6 L1158.5,1111.4 L1159.0,1116.5 L1159.5,1122.1 L1160.0,1121.3 L1160.5,1128.0 L1161.0,1131.0 L1161.5,1137.6 L1162.0,1141.9 L1162.5,1142.4 L1163.0,1148.4 L1163.5,1148.6 L1164.0,1150.6 L1164.5,1151.8 L1165.0,1150.3 L1165.5,1157.8 L1166.0,1155.4 L1166.5,1152.0 L1167.0,1157.6 L1167.5,1158.8 L1168.0,1154.5 L1168.5,1158.0 L1169.0,1161.6 L1169.5,1159.7 L1170.0,1159.0 L1170.5,1159.1 L1171.0,1160.2 L1171.5,1157.3 L1172.0,1158.7 L1172.5,1160.4 L1173.0,1159.9 L1173.5,1163.0 L1174.0,1156.2 L1174.5,1164.8 L1175.0,1159.3 L1175.5,1158.9 L1176.0,1160.3 L1176.5,1162.9 L1177.0,1160.1 L1177.5,1163.6 L1178.0,1163.3 L1178.5,1160.9 L1179.0,1160.5 L1179.5,1160.6 L1180.0,1161.5 L1180.5,1157.9 L1181.0,1164.1 L1181.5,1161.2 L1182.0,1161.7 L1182.5,1159.7 L1183.0,1159.8 L1183.5,1164.5 L1184.0,1157.0 L1184.5,1161.7 L1185.0,1159.5 L1185.5,1157.5 L1186.0,1162.6 L1186.5,1159.1 L1187.0,1162.5 L1187.5,1160.2 L1188.0,1156.2 L1188.5,1160.6 L1189.0,1158.2 L1189.5,1160.2 L1190.0,1160.0 L1190.5,1161.6 L1191.0,1160.8 L1191.5,1159.9 L1192.0,1159.2 L1192.5,1157.3 L1193.0,1155.9 L1193.5,1160.9 L1194.0,1157.7 L1194.5,1159.3 L1195.0,1161.8 L1195.5,1162.2 L1196.0,1162.2 L1196.5,1160.7 L1197.0,1161.2 L1197.5,1161.1 L1198.0,1160.8 L1198.5,1157.6 L1199.0,1160.8 L1199.5,1162.1 L1200.0,1159.9 L1200.5,1160.3 L1201.0,1154.7 L1201.5,1157.9 L1202.0,1165.4 L1202.5,1158.0 L1203.0,1161.4 L1203.5,1162.9 L1204.0,1162.4 L1204.5,1160.7 L1205.0,1160.2 L1205.5,1157.5 L1206.0,1164.1 L1206.5,1160.5 L1207.0,1162.9 L1207.5,1156.9 L1208.0,1156.1 L1208.5,1156.1 L1209.0,1162.2 L1209.5,1159.8 L1210.0,1159.8 L1210.5,1161.0 L1211.0,1160.7 L1211.5,1160.8 L1212.0,1158.9 L1212.5,1158.3 L1213.0,1160.8 L1213.5,1162.7 L1214.0,1159.3 L1214.5,1160.8 L1215.0,1159.8 L1215.5,1161.6 L1216.0,1158.0 L1216.5,1164.8 L1217.0,1164.5 L1217.5,1160.9 L1218.0,1160.4 L1218.5,1156.9 L1219.0,1162.7 L1219.5,1161.1 L1220.0,1161.2 L1220.5,1157.2 L1221.0,1162.4 L1221.5,1164.9 L1222.0,1158.4 L1222.5,1160.3 L1223.0,1163.6 L1223.5,1162.4 L1224.0,1162.5 L1224.5,1167.8 L1225.0,1164.1 L1225.5,1161.4 L1226.0,1154.8 L1226.5,1160.6 L1227.0,1158.0 L1227.5,1158.2 L1228.0,1163.8 L1228.5,1158.6 L1229.0,1160.7 L1229.5,1164.1 L1230.0,1159.4 L1230.5,1159.8 L1231.0,1158.4 L1231.5,1160.0 L1232.0,1157.5 L1232.5,1161.5 L1233.0,1159.5 L1233.5,1162.0 L1234.0,1162.4 L1234.5,1160.9 L1235.0,1161.3 L1235.5,1160.2 L1236.0,1162.2 L1236.5,1163.1 L1237.0,1162.1 L1237.5,1164.2 L1238.0,1161.6 L1238.5,1161.1 L1239.0,1162.3 L1239.5,1157.7 L1240.0,1160.1 L1240.5,1156.7 L1241.0,1161.8 L1241.5,1163.3 L1242.0,1158.4 L1242.5,1159.7 L1243.0,1160.0 L1243.5,1163.9 L1244.0,1162.2 L1244.5,1164.2 L1245.0,1162.8 L1245.5,1162.9 L1246.0,1157.2 L1246.5,1156.8 L1247.0,1164.3 L1247.5,1166.6 L1248.0,1158.7 L1248.5,1159.0 L1249.0,1164.1 L1249.5,1166.1 L1250.0,1159.0 L1250.5,1160.0 L1251.0,1163.7 L1251.5,1162.3 L1252.0,1162.3 L1252.5,1163.4 L1253.0,1158.9 L1253.5,1159.5 L1254.0,1164.9 L1254.5,1157.8 L1255.0,1163.4 L1255.5,1160.3 L1256.0,1164.5 L1256.5,1161.2 L1257.0,1161.0 L1257.5,1164.0 L1258.0,1161.4 L1258.5,1161.4 L1259.0,1156.1 L1259.5,1162.7 L1260.0,1161.1 L1260.5,1163.8 L1261.0,1160.6 L1261.5,1158.9 L1262.0,1164.5 L1262.5,1161.5 L1263.0,1161.0 L1263.5,1158.5 L1264.0,1164.8 L1264.5,1163.7 L1265.0,1159.4 L1265.5,1163.3 L1266.0,1162.8 L1266.5,1164.4 L1267.0,1161.7 L1267.5,1166.5 L1268.0,1157.2 L1268.5,1158.0 L1269.0,1163.2 L1269.5,1163.7 L1270.0,1162.7 L1270.5,1167.2 L1271.0,1162.6 L1271.5,1158.1 L1272.0,1165.4 L1272.5,1162.1 L1273.0,1161.1 L1273.5,1163.3 L1274.0,1163.3 L1274.5,1161.1 L1275.0,1163.8 L1275.5,1162.9 L1276.0,1161.6 L1276.5,1161.7 L1277.0,1157.2 L1277.5,1159.9 L1278.0,1160.0 L1278.5,1160.8 L1279.0,1165.0 L1279.5,1161.6 L1280.0,1160.6 L1280.5,1158.4 L1281.0,1160.2 L1281.5,1159.1 L1282.0,1158.9 L1282.5,1161.1 L1283.0,1157.3 L1283.5,1159.3 L1284.0,1163.1 L1284.5,1161.1 L1285.0,1158.8 L1285.5,1159.6 L1286.0,1159.1 L1286.5,1163.5 L1287.0,1163.2 L1287.5,1164.1 L1288.0,1159.4 L1288.5,1160.0 L1289.0,1162.0 L1289.5,1157.5 L1290.0,1158.8 L1290.5,1162.1 L1291.0,1158.3 L1291.5,1157.5 L1292.0,1160.3 L1292.5,1158.4 L1293.0,1157.4 L1293.5,1158.9 L1294.0,1154.4 L1294.5,1159.8 L1295.0,1158.3 L1295.5,1158.5 L1296.0,1157.9 L1296.5,1158.7 L1297.0,1153.0 L1297.5,1156.8 L1298.0,1159.6 L1298.5,1154.5 L1299.0,1153.8 L1299.5,1153.8 L1300.0,1151.8 L1300.5,1160.6 L1301.0,1153.7 L1301.5,1155.6 L1302.0,1151.3 L1302.5,1151.5 L1303.0,1150.6 L1303.5,1148.9 L1304.0,1150.7 L1304.5,1154.0 L1305.0,1149.3 L1305.5,1152.8 L1306.0,1154.5 L1306.5,1150.6 L1307.0,1151.7 L1307.5,1151.4 L1308.0,1146.5 L1308.5,1146.0 L1309.0,1142.2 L1309.5,1144.2 L1310.0,1146.8 L1310.5,1143.5 L1311.0,1141.1 L1311.5,1138.8 L1312.0,1136.0 L1312.5,1134.9 L1313.0,1138.6 L1313.5,1133.5 L1314.0,1128.2 L1314.5,1123.6 L1315.0,1118.7 L1315.5,1118.3 L1316.0,1110.3 L1316.5,1105.7 L1317.0,1100.8 L1317.5,1099.4 L1318.0,1091.9 L1318.5,1090.9 L1319.0,1082.0 L1319.5,1079.5 L1320.0,1077.5 L1320.5,1080.9 L1321.0,1079.7 L1321.5,1084.1 L1322.0,1092.2 L1322.5,1094.7 L1323.0,1097.2 L1323.5,1101.9 L1324.0,1099.2 L1324.5,1105.4 L1325.0,1115.5 L1325.5,1114.8 L1326.0,1118.1 L1326.5,1124.4 L1327.0,1121.6 L1327.5,1126.7 L1328.0,1127.2 L1328.5,1129.5 L1329.0,1130.0 L1329.5,1134.8 L1330.0,1133.1 L1330.5,1135.4 L1331.0,1130.5 L1331.5,1131.9 L1332.0,1132.9 L1332.5,1135.8 L1333.0,1133.8 L1333.5,1124.0 L1334.0,1128.0 L1334.5,1130.6 L1335.0,1127.5 L1335.5,1127.3 L1336.0,1127.6 L1336.5,1127.4 L1337.0,1126.2 L1337.5,1129.4 L1338.0,1125.6 L1338.5,1122.4 L1339.0,1123.6 L1339.5,1118.6 L1340.0,1121.4 L1340.5,1120.1 L1341.0,1118.2 L1341.5,1111.8 L1342.0,1113.7 L1342.5,1110.3 L1343.0,1108.9 L1343.5,1101.9 L1344.0,1095.9 L1344.5,1089.8 L1345.0,1082.5 L1345.5,1074.7 L1346.0,1067.2 L1346.5,1062.0 L1347.0,1049.2 L1347.5,1038.5 L1348.0,1025.3 L1348.5,1014.2 L1349.0,1001.5 L1349.5,986.9 L1350.0,968.5 L1350.5,956.7 L1351.0,949.3 L1351.5,934.6 L1352.0,925.6 L1352.5,919.9 L1353.0,916.9 L1353.5,918.7 L1354.0,928.1 L1354.5,937.5 L1355.0,945.6 L1355.5,958.2 L1356.0,970.9 L1356.5,981.5 L1357.0,992.6 L1357.5,995.1 L1358.0,1006.0 L1358.5,1012.1 L1359.0,1014.6 L1359.5,1013.1 L1360.0,1012.1 L1360.5,1017.1 L1361.0,1007.6 L1361.5,1003.1 L1362.0,992.4 L1362.5,981.4 L1363.0,971.5 L1363.5,958.0 L1364.0,939.6 L1364.5,921.5 L1365.0,905.5 L1365.5,884.3 L1366.0,866.0 L1366.5,848.8 L1367.0,836.9 L1367.5,826.7 L1368.0,822.4 L1368.5,823.6 L1369.0,832.0 L1369.5,846.4 L1370.0,859.7 L1370.5,877.1 L1371.0,904.5 L1371.5,923.2 L1372.0,940.9 L1372.5,958.4 L1373.0,983.9 L1373.5,997.3 L1374.0,1015.1 L1374.5,1024.0 L1375.0,1044.6 L1375.5,1057.3 L1376.0,1064.8 L1376.5,1073.8 L1377.0,1082.1 L1377.5,1086.6 L1378.0,1092.9 L1378.5,1103.1 L1379.0,1104.7 L1379.5,1109.5 L1380.0,1112.8 L1380.5,1118.1 L1381.0,1118.9 L1381.5,1122.8 L1382.0,1125.4 L1382.5,1124.6 L1383.0,1127.3 L1383.5,1130.2 L1384.0,1132.8 L1384.5,1133.0 L1385.0,1134.5 L1385.5,1132.4 L1386.0,1134.6 L1386.5,1137.6 L1387.0,1137.0 L1387.5,1138.3 L1388.0,1139.5 L1388.5,1143.5 L1389.0,1138.8 L1389.5,1143.4 L1390.0,1143.7 L1390.5,1143.3 L1391.0,1141.7 L1391.5,1143.8 L1392.0,1143.2 L1392.5,1146.5 L1393.0,1145.2 L1393.5,1145.9 L1394.0,1144.0 L1394.5,1148.9 L1395.0,1142.3 L1395.5,1152.0 L1396.0,1144.9 L1396.5,1145.9 L1397.0,1146.4 L1397.5,1144.4 L1398.0,1149.9 L1398.5,1146.2 L1399.0,1145.9 L1399.5,1150.3 L1400.0,1149.3 L1400.5,1144.3 L1401.0,1145.0 L1401.5,1147.9 L1402.0,1148.3 L1402.5,1149.3 L1403.0,1147.5 L1403.5,1150.3 L1404.0,1149.7 L1404.5,1147.8 L1405.0,1146.5 L1405.5,1148.3 L1406.0,1148.1 L1406.5,1144.8 L1407.0,1143.0 L1407.5,1143.6 L1408.0,1139.5 L1408.5,1139.8 L1409.0,1139.0 L1409.5,1133.0 L1410.0,1131.7 L1410.5,1127.0 L1411.0,1127.7 L1411.5,1127.8 L1412.0,1123.5 L1412.5,1123.6 L1413.0,1121.0 L1413.5,1118.1 L1414.0,1122.2 L1414.5,1119.0 L1415.0,1122.2 L1415.5,1122.3 L1416.0,1123.2 L1416.5,1129.3 L1417.0,1127.2 L1417.5,1129.2 L1418.0,1135.9 L1418.5,1136.4 L1419.0,1136.3 L1419.5,1139.4 L1420.0,1139.4 L1420.5,1145.4 L1421.0,1148.3 L1421.5,1148.5 L1422.0,1150.4 L1422.5,1152.9 L1423.0,1151.5 L1423.5,1150.5 L1424.0,1151.5 L1424.5,1154.6 L1425.0,1155.0 L1425.5,1155.6 L1426.0,1153.2 L1426.5,1156.1 L1427.0,1159.7 L1427.5,1157.1 L1428.0,1160.0 L1428.5,1158.4 L1429.0,1157.4 L1429.5,1160.9 L1430.0,1162.3 L1430.5,1160.3 L1431.0,1161.9 L1431.5,1158.5 L1432.0,1157.2 L1432.5,1155.9 L1433.0,1160.1 L1433.5,1163.5 L1434.0,1159.2 L1434.5,1157.5 L1435.0,1160.9 L1435.5,1160.9 L1436.0,1160.9 L1436.5,1158.9 L1437.0,1164.5 L1437.5,1160.0 L1438.0,1160.9 L1438.5,1158.1 L1439.0,1162.8 L1439.5,1165.4 L1440.0,1164.1 L1440.5,1159.3 L1441.0,1163.6 L1441.5,1159.7 L1442.0,1161.7 L1442.5,1161.4 L1443.0,1164.0 L1443.5,1163.6 L1444.0,1161.9 L1444.5,1162.5 L1445.0,1166.0 L1445.5,1159.7 L1446.0,1161.9 L1446.5,1167.8 L1447.0,1163.6 L1447.5,1161.4 L1448.0,1164.9 L1448.5,1165.8 L1449.0,1161.8 L1449.5,1163.8 L1450.0,1163.0 L1450.5,1165.9 L1451.0,1165.0 L1451.5,1163.2 L1452.0,1166.5 L1452.5,1163.5 L1453.0,1169.2 L1453.5,1167.4 L1454.0,1164.1 L1454.5,1165.3 L1455.0,1167.3 L1455.5,1166.0 L1456.0,1162.5 L1456.5,1163.6 L1457.0,1163.7 L1457.5,1164.1 L1458.0,1160.9 L1458.5,1166.3 L1459.0,1172.2 L1459.5,1165.2 L1460.0,1165.2 L1460.5,1164.4 L1461.0,1166.1 L1461.5,1163.5 L1462.0,1164.2 L1462.5,1166.0 L1463.0,1160.0 L1463.5,1163.6 L1464.0,1168.7 L1464.5,1166.8 L1465.0,1165.4 L1465.5,1165.7 L1466.0,1159.7 L1466.5,1166.7 L1467.0,1164.5 L1467.5,1168.1 L1468.0,1166.2 L1468.5,1166.9 L1469.0,1162.2 L1469.5,1162.0 L1470.0,1170.0 L1470.5,1165.1 L1471.0,1164.7 L1471.5,1168.8 L1472.0,1167.1 L1472.5,1167.2 L1473.0,1169.7 L1473.5,1166.5 L1474.0,1165.4 L1474.5,1164.9 L1475.0,1161.2 L1475.5,1165.6 L1476.0,1165.5 L1476.5,1164.5 L1477.0,1171.2 L1477.5,1163.8 L1478.0,1165.0 L1478.5,1164.6 L1479.0,1164.9 L1479.5,1167.5 L1480.0,1165.1 L1480.5,1167.3 L1481.0,1171.7 L1481.5,1165.3 L1482.0,1164.7 L1482.5,1165.0 L1483.0,1169.1 L1483.5,1167.2 L1484.0,1167.1 L1484.5,1165.5 L1485.0,1165.2 L1485.5,1170.6 L1486.0,1170.1 L1486.5,1164.5 L1487.0,1164.3 L1487.5,1165.2 L1488.0,1165.3 L1488.5,1168.4 L1489.0,1169.6 L1489.5,1166.3 L1490.0,1164.5 L1490.5,1168.6 L1491.0,1169.8 L1491.5,1163.2 L1492.0,1167.2 L1492.5,1164.4 L1493.0,1164.4 L1493.5,1164.5 L1494.0,1169.7 L1494.5,1167.4 L1495.0,1165.0 L1495.5,1166.5 L1496.0,1167.5 L1496.5,1163.4 L1497.0,1168.1 L1497.5,1164.4 L1498.0,1164.9 L1498.5,1170.3 L1499.0,1159.3 L1499.5,1169.1 L1500.0,1169.2 L1500.5,1166.2 L1501.0,1169.4 L1501.5,1167.3 L1502.0,1165.5 L1502.5,1167.8 L1503.0,1165.8 L1503.5,1166.2 L1504.0,1165.0 L1504.5,1173.2 L1505.0,1169.6 L1505.5,1166.7 L1506.0,1163.8 L1506.5,1165.0 L1507.0,1165.2 L1507.5,1164.5 L1508.0,1166.6 L1508.5,1166.8 L1509.0,1170.9 L1509.5,1170.4 L1510.0,1163.9 L1510.5,1170.3 L1511.0,1164.8 L1511.5,1169.5 L1512.0,1167.5 L1512.5,1167.2 L1513.0,1167.8 L1513.5,1165.6 L1514.0,1164.4 L1514.5,1171.4 L1515.0,1163.8 L1515.5,1168.9 L1516.0,1165.1 L1516.5,1168.3 L1517.0,1167.2 L1517.5,1167.7 L1518.0,1165.5 L1518.5,1168.2 L1519.0,1171.6 L1519.5,1169.2 L1520.0,1170.4 L1520.5,1166.2 L1521.0,1166.7 L1521.5,1169.4 L1522.0,1163.9 L1522.5,1169.9 L1523.0,1167.4 L1523.5,1160.2 L1524.0,1171.0 L1524.5,1165.7 L1525.0,1170.9 L1525.5,1164.9 L1526.0,1164.7 L1526.5,1169.8 L1527.0,1170.2 L1527.5,1164.3 L1528.0,1167.9 L1528.5,1172.2 L1529.0,1167.7 L1529.5,1164.8 L1530.0,1166.9 L1530.5,1167.7 L1531.0,1167.3 L1531.5,1165.1 L1532.0,1166.3 L1532.5,1168.6 L1533.0,1169.2 L1533.5,1167.6 L1534.0,1168.8 L1534.5,1168.3 L1535.0,1164.3 L1535.5,1171.4 L1536.0,1171.1 L1536.5,1168.1 L1537.0,1167.6 L1537.5,1168.1 L1538.0,1168.3 L1538.5,1169.8 L1539.0,1170.2 L1539.5,1167.3 L1540.0,1165.7 L1540.5,1165.5 L1541.0,1171.7 L1541.5,1167.5 L1542.0,1165.2 L1542.5,1162.7 L1543.0,1169.3 L1543.5,1167.6 L1544.0,1167.8 L1544.5,1165.0 L1545.0,1166.3 L1545.5,1166.0 L1546.0,1167.6 L1546.5,1171.9 L1547.0,1166.2 L1547.5,1164.8 L1548.0,1169.6 L1548.5,1169.4 L1549.0,1166.4 L1549.5,1167.7 L1550.0,1165.7 L1550.5,1171.8 L1551.0,1168.6 L1551.5,1164.0 L1552.0,1169.7 L1552.5,1169.9 L1553.0,1164.2 L1553.5,1167.6 L1554.0,1167.6 L1554.5,1163.9 L1555.0,1163.4 L1555.5,1174.2 L1556.0,1165.1 L1556.5,1169.0 L1557.0,1169.3 L1557.5,1170.1 L1558.0,1169.8 L1558.5,1167.9 L1559.0,1165.8 L1559.5,1164.8 L1560.0,1168.8 L1560.5,1165.5 L1561.0,1169.9 L1561.5,1167.1 L1562.0,1170.5 L1562.5,1163.8 L1563.0,1171.5 L1563.5,1166.7 L1564.0,1168.6 L1564.5,1164.3 L1565.0,1169.0 L1565.5,1167.9 L1566.0,1169.9 L1566.5,1168.9 L1567.0,1172.1 L1567.5,1163.6 L1568.0,1166.1 L1568.5,1164.0 L1569.0,1166.8 L1569.5,1169.2 L1570.0,1169.1 L1570.5,1165.4 L1571.0,1163.3 L1571.5,1166.7 L1572.0,1168.0 L1572.5,1163.1 L1573.0,1166.6 L1573.5,1164.5 L1574.0,1167.2 L1574.5,1164.5 L1575.0,1168.5 L1575.5,1164.5 L1576.0,1166.0 L1576.5,1173.0 L1577.0,1155.7 L1577.5,1164.5 L1578.0,1164.6 L1578.5,1165.7 L1579.0,1165.6 L1579.5,1164.6 L1580.0,1162.3 L1580.5,1163.0 L1581.0,1164.3 L1581.5,1159.0 L1582.0,1164.3 L1582.5,1161.1 L1583.0,1163.6 L1583.5,1158.9 L1584.0,1160.0 L1584.5,1157.2 L1585.0,1158.7 L1585.5,1157.8 L1586.0,1152.2 L1586.5,1153.3 L1587.0,1149.2 L1587.5,1148.8 L1588.0,1143.6 L1588.5,1140.9 L1589.0,1140.0 L1589.5,1137.9 L1590.0,1132.9 L1590.5,1130.1 L1591.0,1124.7 L1591.5,1124.9 L1592.0,1119.8 L1592.5,1115.6 L1593.0,1120.1 L1593.5,1113.1 L1594.0,1119.4 L1594.5,1118.3 L1595.0,1121.1 L1595.5,1127.9 L1596.0,1124.4 L1596.5,1126.7 L1597.0,1129.2 L1597.5,1135.6 L1598.0,1141.4 L1598.5,1141.2 L1599.0,1144.4 L1599.5,1147.4 L1600.0,1148.5 L1600.5,1151.7 L1601.0,1150.0 L1601.5,1149.5 L1602.0,1154.0 L1602.5,1155.6 L1603.0,1160.7 L1603.5,1159.7 L1604.0,1157.2 L1604.5,1163.3 L1605.0,1162.9 L1605.5,1159.9 L1606.0,1166.5 L1606.5,1162.6 L1607.0,1160.7 L1607.5,1162.0 L1608.0,1164.5 L1608.5,1163.6 L1609.0,1160.2 L1609.5,1166.8 L1610.0,1162.7 L1610.5,1161.2 L1611.0,1162.4 L1611.5,1163.2 L1612.0,1166.4 L1612.5,1165.6 L1613.0,1157.9 L1613.5,1160.9 L1614.0,1161.3 L1614.5,1161.2 L1615.0,1162.2 L1615.5,1160.8 L1616.0,1155.8 L1616.5,1161.3 L1617.0,1157.8 L1617.5,1150.5 L1618.0,1155.6 L1618.5,1152.0 L1619.0,1146.1 L1619.5,1147.3 L1620.0,1146.1 L1620.5,1142.5 L1621.0,1137.4 L1621.5,1135.8 L1622.0,1132.6 L1622.5,1129.2 L1623.0,1128.8 L1623.5,1123.0 L1624.0,1123.9 L1624.5,1123.4 L1625.0,1124.1 L1625.5,1123.5 L1626.0,1122.8 L1626.5,1124.5 L1627.0,1126.5 L1627.5,1134.6 L1628.0,1132.7 L1628.5,1134.8 L1629.0,1138.9 L1629.5,1144.6 L1630.0,1147.7 L1630.5,1144.4 L1631.0,1152.9 L1631.5,1152.3 L1632.0,1158.5 L1632.5,1159.6 L1633.0,1156.1 L1633.5,1156.7 L1634.0,1157.8 L1634.5,1160.2 L1635.0,1162.8 L1635.5,1163.6 L1636.0,1164.5 L1636.5,1165.6 L1637.0,1163.9 L1637.5,1164.9 L1638.0,1166.4 L1638.5,1168.5 L1639.0,1165.5 L1639.5,1164.8 L1640.0,1168.4 L1640.5,1167.5 L1641.0,1168.2 L1641.5,1167.0 L1642.0,1168.4 L1642.5,1166.6 L1643.0,1165.8 L1643.5,1168.2 L1644.0,1164.5 L1644.5,1169.3 L1645.0,1172.7 L1645.5,1165.7 L1646.0,1166.4 L1646.5,1169.4 L1647.0,1166.6 L1647.5,1169.6 L1648.0,1168.1 L1648.5,1167.5 L1649.0,1170.4 L1649.5,1167.3 L1650.0,1167.4 L1650.5,1165.5 L1651.0,1170.0 L1651.5,1168.5 L1652.0,1167.5 L1652.5,1170.6 L1653.0,1168.5 L1653.5,1171.5 L1654.0,1170.9 L1654.5,1168.0 L1655.0,1167.6 L1655.5,1172.3 L1656.0,1168.9 L1656.5,1167.7 L1657.0,1168.9 L1657.5,1165.3 L1658.0,1169.6 L1658.5,1166.1 L1659.0,1170.4 L1659.5,1167.6 L1660.0,1169.5 L1660.5,1172.8 L1661.0,1171.8 L1661.5,1168.3 L1662.0,1169.9 L1662.5,1166.4 L1663.0,1169.7 L1663.5,1171.8 L1664.0,1170.9 L1664.5,1171.3 L1665.0,1169.7 L1665.5,1166.0 L1666.0,1168.5 L1666.5,1165.9 L1667.0,1170.4 L1667.5,1167.5 L1668.0,1166.7 L1668.5,1165.2 L1669.0,1167.9 L1669.5,1168.3 L1670.0,1167.6 L1670.5,1162.6 L1671.0,1167.1 L1671.5,1164.2 L1672.0,1159.6 L1672.5,1165.9 L1673.0,1164.2 L1673.5,1159.3 L1674.0,1164.5 L1674.5,1162.8 L1675.0,1164.9 L1675.5,1161.2 L1676.0,1159.5 L1676.5,1154.5 L1677.0,1162.6 L1677.5,1153.6 L1678.0,1155.5 L1678.5,1157.6 L1679.0,1155.1 L1679.5,1149.0 L1680.0,1154.9 L1680.5,1155.0 L1681.0,1158.9 L1681.5,1156.8 L1682.0,1161.2 L1682.5,1160.9 L1683.0,1161.9 L1683.5,1161.8 L1684.0,1166.5 L1684.5,1164.3 L1685.0,1165.0 L1685.5,1163.3 L1686.0,1163.0 L1686.5,1161.3 L1687.0,1160.3 L1687.5,1162.7 L1688.0,1167.8 L1688.5,1164.6 L1689.0,1166.2 L1689.5,1165.9 L1690.0,1167.3 L1690.5,1168.7 L1691.0,1171.5 L1691.5,1165.0 L1692.0,1173.1 L1692.5,1167.8 L1693.0,1166.6 L1693.5,1167.4 L1694.0,1171.5 L1694.5,1170.0 L1695.0,1171.6 L1695.5,1167.4 L1696.0,1171.7 L1696.5,1168.0 L1697.0,1169.4 L1697.5,1166.5 L1698.0,1167.2 L1698.5,1166.4 L1699.0,1169.8 L1699.5,1169.2 L1700.0,1159.3 L1700.5,1166.9 L1701.0,1166.5 L1701.5,1162.8 L1702.0,1162.5 L1702.5,1167.5 L1703.0,1163.5 L1703.5,1165.7 L1704.0,1164.9 L1704.5,1156.4 L1705.0,1165.0 L1705.5,1157.9 L1706.0,1159.2 L1706.5,1159.6 L1707.0,1160.6 L1707.5,1160.3 L1708.0,1158.3 L1708.5,1158.6 L1709.0,1160.2 L1709.5,1161.6 L1710.0,1159.0 L1710.5,1161.7 L1711.0,1162.1 L1711.5,1160.1 L1712.0,1161.6 L1712.5,1162.7 L1713.0,1169.2 L1713.5,1165.2 L1714.0,1167.0 L1714.5,1167.6 L1715.0,1164.7 L1715.5,1167.9 L1716.0,1163.5 L1716.5,1164.5 L1717.0,1169.1 L1717.5,1167.4 L1718.0,1169.4 L1718.5,1170.6 L1719.0,1174.2 L1719.5,1169.3 L1720.0,1170.0 L1720.5,1164.7 L1721.0,1173.3 L1721.5,1170.2 L1722.0,1169.1 L1722.5,1172.7 L1723.0,1170.8 L1723.5,1169.1 L1724.0,1168.9 L1724.5,1172.6 L1725.0,1173.4 L1725.5,1171.2 L1726.0,1170.9 L1726.5,1171.5 L1727.0,1170.5 L1727.5,1169.1 L1728.0,1173.1 L1728.5,1170.1 L1729.0,1168.3 L1729.5,1172.3 L1730.0,1170.7 L1730.5,1176.0 L1731.0,1172.8 L1731.5,1174.4 L1732.0,1175.1 L1732.5,1173.5 L1733.0,1174.6 L1733.5,1169.5 L1734.0,1170.0 L1734.5,1171.8 L1735.0,1174.6 L1735.5,1173.5 L1736.0,1173.9 L1736.5,1174.6 L1737.0,1171.9 L1737.5,1170.6 L1738.0,1170.5 L1738.5,1175.8 L1739.0,1168.5 L1739.5,1169.1 L1740.0,1173.2 L1740.5,1169.9 L1741.0,1173.7 L1741.5,1170.4 L1742.0,1172.1 L1742.5,1170.2 L1743.0,1173.6 L1743.5,1173.2 L1744.0,1176.0 L1744.5,1173.9 L1745.0,1173.8 L1745.5,1170.5 L1746.0,1171.7 L1746.5,1171.1 L1747.0,1168.3 L1747.5,1169.1 L1748.0,1171.9 L1748.5,1173.1 L1749.0,1176.4 L1749.5,1170.6 L1750.0,1173.9 L1750.5,1174.1 L1751.0,1171.5 L1751.5,1170.6 L1752.0,1171.4 L1752.5,1167.0 L1753.0,1172.3 L1753.5,1173.0 L1754.0,1172.6 L1754.5,1171.3 L1755.0,1172.3 L1755.5,1175.3 L1756.0,1170.7 L1756.5,1177.7 L1757.0,1172.9 L1757.5,1173.7 L1758.0,1179.9 L1758.5,1173.9 L1759.0,1172.3 L1759.5,1173.9 L1760.0,1170.3 L1760.5,1176.6 L1761.0,1173.7 L1761.5,1173.4 L1762.0,1171.8 L1762.5,1174.3 L1763.0,1175.5 L1763.5,1167.2 L1764.0,1170.1 L1764.5,1174.9 L1765.0,1172.3 L1765.5,1173.3 L1766.0,1170.7 L1766.5,1171.0 L1767.0,1176.5 L1767.5,1174.7 L1768.0,1175.2 L1768.5,1166.5 L1769.0,1174.3 L1769.5,1174.7 L1770.0,1174.9 L1770.5,1172.3 L1771.0,1176.2 L1771.5,1176.7 L1772.0,1174.0 L1772.5,1168.0 L1773.0,1173.9 L1773.5,1174.6 L1774.0,1175.8 L1774.5,1173.1 L1775.0,1175.7 L1775.5,1173.9 L1776.0,1174.2 L1776.5,1174.0 L1777.0,1175.8 L1777.5,1177.5 L1778.0,1176.8 L1778.5,1172.2 L1779.0,1176.5 L1779.5,1173.9 L1780.0,1175.5 L1780.5,1168.4 L1781.0,1176.7 L1781.5,1174.0 L1782.0,1174.1 L1782.5,1175.2 L1783.0,1172.2 L1783.5,1172.8 L1784.0,1168.8 L1784.5,1175.9 L1785.0,1173.7 L1785.5,1175.5 L1786.0,1176.1 L1786.5,1174.0 L1787.0,1176.7 L1787.5,1170.1 L1788.0,1174.4 L1788.5,1176.1 L1789.0,1173.4 L1789.5,1175.3 L1790.0,1173.9 L1790.5,1177.1 L1791.0,1177.5 L1791.5,1173.5 L1792.0,1174.0 L1792.5,1175.7 L1793.0,1174.5 L1793.5,1175.8 L1794.0,1174.9 L1794.5,1175.9 L1795.0,1172.8 L1795.5,1176.1 L1796.0,1177.8 L1796.5,1172.7 L1797.0,1176.5 L1797.5,1176.2 L1798.0,1177.1 L1798.5,1170.9 L1799.0,1175.4 L1799.5,1174.9 L1800.0,1177.3 L1800.5,1177.7 L1801.0,1169.3 L1801.5,1174.1 L1802.0,1176.6 L1802.5,1176.8 L1803.0,1176.8 L1803.5,1173.6 L1804.0,1174.6 L1804.5,1176.6 L1805.0,1177.7 L1805.5,1176.4 L1806.0,1173.6 L1806.5,1168.6 L1807.0,1174.5 L1807.5,1175.1 L1808.0,1175.4 L1808.5,1176.9 L1809.0,1177.2 L1809.5,1180.8 L1810.0,1176.1 L1810.5,1177.1 L1811.0,1180.0 L1811.5,1178.3 L1812.0,1174.7 L1812.5,1177.9 L1813.0,1173.2 L1813.5,1177.9 L1814.0,1178.1 L1814.5,1174.9 L1815.0,1178.6 L1815.5,1177.4 L1816.0,1174.9 L1816.5,1178.1 L1817.0,1174.6 L1817.5,1176.2 L1818.0,1172.9 L1818.5,1178.8 L1819.0,1175.1 L1819.5,1174.0 L1820.0,1175.1 L1820.5,1178.3 L1821.0,1180.0 L1821.5,1175.8 L1822.0,1174.2 L1822.5,1175.9 L1823.0,1175.6 L1823.5,1176.9 L1824.0,1175.3 L1824.5,1176.3 L1825.0,1171.0 L1825.5,1172.5 L1826.0,1174.9 L1826.5,1172.4 L1827.0,1173.1 L1827.5,1177.5 L1828.0,1175.1 L1828.5,1175.0 L1829.0,1175.0 L1829.5,1173.9 L1830.0,1173.8 L1830.5,1174.7 L1831.0,1176.3 L1831.5,1175.3 L1832.0,1175.6 L1832.5,1178.4 L1833.0,1176.0 L1833.5,1177.5 L1834.0,1176.4 L1834.5,1177.7 L1835.0,1173.3 L1835.5,1172.6 L1836.0,1177.1 L1836.5,1175.9 L1837.0,1176.9 L1837.5,1171.8 L1838.0,1180.7 L1838.5,1175.0 L1839.0,1180.0 L1839.5,1174.2 L1840.0,1174.2 L1840.5,1170.0 L1841.0,1176.1 L1841.5,1175.2 L1842.0,1174.2 L1842.5,1176.3 L1843.0,1167.3 L1843.5,1177.0 L1844.0,1176.2 L1844.5,1176.0 L1845.0,1173.8 L1845.5,1173.6 L1846.0,1178.2 L1846.5,1175.3 L1847.0,1175.4 L1847.5,1175.2 L1848.0,1174.6 L1848.5,1171.9 L1849.0,1175.9 L1849.5,1174.0 L1850.0,1173.1 L1850.5,1177.7 L1851.0,1180.5 L1851.5,1174.5 L1852.0,1175.9 L1852.5,1171.9 L1853.0,1177.2 L1853.5,1175.1 L1854.0,1176.8 L1854.5,1177.0 L1855.0,1174.1 L1855.5,1176.2 L1856.0,1174.3 L1856.5,1175.4 L1857.0,1174.8 L1857.5,1171.2 L1858.0,1172.2 L1858.5,1170.3 L1859.0,1170.0 L1859.5,1175.2 L1860.0,1177.2 L1860.5,1175.8 L1861.0,1173.3 L1861.5,1180.2 L1862.0,1175.6 L1862.5,1177.3 L1863.0,1173.7 L1863.5,1175.3 L1864.0,1171.8 L1864.5,1173.1 L1865.0,1170.7 L1865.5,1174.1 L1866.0,1172.4 L1866.5,1171.4 L1867.0,1175.2 L1867.5,1172.9 L1868.0,1172.9 L1868.5,1173.9 L1869.0,1171.4 L1869.5,1173.2 L1870.0,1172.6 L1870.5,1171.9 L1871.0,1172.6 L1871.5,1174.5 L1872.0,1173.1 L1872.5,1172.1 L1873.0,1170.5 L1873.5,1173.5 L1874.0,1174.9 L1874.5,1171.8 L1875.0,1169.2 L1875.5,1177.0 L1876.0,1171.9 L1876.5,1175.9 L1877.0,1167.7 L1877.5,1167.6 L1878.0,1168.7 L1878.5,1169.1 L1879.0,1163.7 L1879.5,1165.6 L1880.0,1169.7 L1880.5,1167.3 L1881.0,1169.7 L1881.5,1167.5 L1882.0,1165.8 L1882.5,1167.1 L1883.0,1166.8 L1883.5,1163.7 L1884.0,1166.6 L1884.5,1165.4 L1885.0,1164.2 L1885.5,1162.0 L1886.0,1161.3 L1886.5,1160.9 L1887.0,1159.6 L1887.5,1157.2 L1888.0,1159.2 L1888.5,1155.0 L1889.0,1155.2 L1889.5,1152.5 L1890.0,1144.2 L1890.5,1149.5 L1891.0,1138.3 L1891.5,1140.3 L1892.0,1135.3 L1892.5,1133.5 L1893.0,1133.8 L1893.5,1131.6 L1894.0,1128.9 L1894.5,1125.0 L1895.0,1126.4 L1895.5,1125.2 L1896.0,1125.6 L1896.5,1125.0 L1897.0,1127.4 L1897.5,1132.7 L1898.0,1131.2 L1898.5,1132.8 L1899.0,1139.4 L1899.5,1141.8 L1900.0,1142.7 L1900.5,1149.4 L1901.0,1149.0 L1901.5,1151.4 L1902.0,1146.5 L1902.5,1155.2 L1903.0,1159.1 L1903.5,1155.3 L1904.0,1161.2 L1904.5,1160.0 L1905.0,1161.0 L1905.5,1161.8 L1906.0,1160.4 L1906.5,1159.4 L1907.0,1160.5 L1907.5,1168.1 L1908.0,1166.8 L1908.5,1162.8 L1909.0,1168.6 L1909.5,1168.5 L1910.0,1167.0 L1910.5,1169.5 L1911.0,1169.8 L1911.5,1169.4 L1912.0,1171.5 L1912.5,1167.1 L1913.0,1169.6 L1913.5,1173.1 L1914.0,1174.3 L1914.5,1170.1 L1915.0,1173.8 L1915.5,1169.0 L1916.0,1166.6 L1916.5,1171.7 L1917.0,1173.0 L1917.5,1169.0 L1918.0,1172.7 L1918.5,1166.4 L1919.0,1167.2 L1919.5,1168.3 L1920.0,1169.3 L1920.5,1169.8 L1921.0,1170.0 L1921.5,1171.2 L1922.0,1167.4 L1922.5,1167.9 L1923.0,1172.6 L1923.5,1168.0 L1924.0,1169.9 L1924.5,1168.2 L1925.0,1167.2 L1925.5,1168.3 L1926.0,1164.5 L1926.5,1166.3 L1927.0,1166.8 L1927.5,1165.1 L1928.0,1163.0 L1928.5,1161.7 L1929.0,1161.6 L1929.5,1163.7 L1930.0,1161.3 L1930.5,1157.8 L1931.0,1161.4 L1931.5,1155.9 L1932.0,1158.0 L1932.5,1154.6 L1933.0,1150.2 L1933.5,1152.3 L1934.0,1150.4 L1934.5,1150.5 L1935.0,1149.9 L1935.5,1148.6 L1936.0,1150.0 L1936.5,1149.3 L1937.0,1147.1 L1937.5,1150.9 L1938.0,1151.7 L1938.5,1150.3 L1939.0,1152.1 L1939.5,1152.2 L1940.0,1152.7 L1940.5,1155.0 L1941.0,1157.9 L1941.5,1158.6 L1942.0,1155.6 L1942.5,1159.4 L1943.0,1162.6 L1943.5,1164.6 L1944.0,1161.8 L1944.5,1164.6 L1945.0,1164.5 L1945.5,1162.4 L1946.0,1166.5 L1946.5,1164.7 L1947.0,1164.1 L1947.5,1171.0 L1948.0,1170.7 L1948.5,1169.1 L1949.0,1166.2 L1949.5,1170.7 L1950.0,1168.9 L1950.5,1170.8 L1951.0,1169.8 L1951.5,1171.0 L1952.0,1167.5 L1952.5,1170.9 L1953.0,1171.5 L1953.5,1173.9 L1954.0,1167.2 L1954.5,1175.9 L1955.0,1176.4 L1955.5,1171.7 L1956.0,1170.5 L1956.5,1174.6 L1957.0,1168.1 L1957.5,1171.5 L1958.0,1174.3 L1958.5,1176.1 L1959.0,1174.3 L1959.5,1172.7 L1960.0,1172.5 L1960.5,1173.1 L1961.0,1175.0 L1961.5,1167.8 L1962.0,1172.3 L1962.5,1173.1 L1963.0,1171.6 L1963.5,1172.6 L1964.0,1175.5 L1964.5,1172.2 L1965.0,1172.0 L1965.5,1175.9 L1966.0,1172.7 L1966.5,1171.8 L1967.0,1169.6 L1967.5,1172.3 L1968.0,1169.3 L1968.5,1171.8 L1969.0,1174.0 L1969.5,1171.5 L1970.0,1172.5 L1970.5,1174.1 L1971.0,1175.3 L1971.5,1177.1 L1972.0,1176.2 L1972.5,1174.7 L1973.0,1174.2 L1973.5,1173.1 L1974.0,1171.6 L1974.5,1166.9 L1975.0,1173.9 L1975.5,1171.4 L1976.0,1175.9 L1976.5,1170.0 L1977.0,1169.0 L1977.5,1171.9 L1978.0,1175.8 L1978.5,1172.6 L1979.0,1172.4 L1979.5,1175.8 L1980.0,1173.0 L1980.5,1174.4 L1981.0,1172.7 L1981.5,1173.3 L1982.0,1181.5 L1982.5,1169.6 L1983.0,1177.1 L1983.5,1168.8 L1984.0,1169.1 L1984.5,1176.0 L1985.0,1173.3 L1985.5,1173.8 L1986.0,1175.7 L1986.5,1172.6 L1987.0,1169.8 L1987.5,1174.1 L1988.0,1172.0 L1988.5,1177.5 L1989.0,1174.5 L1989.5,1175.3 L1990.0,1170.7 L1990.5,1174.3 L1991.0,1174.6 L1991.5,1175.5 L1992.0,1171.4 L1992.5,1175.4 L1993.0,1176.8 L1993.5,1173.5 L1994.0,1173.1 L1994.5,1175.4 L1995.0,1176.5 L1995.5,1173.7 L1996.0,1176.5 L1996.5,1178.5 L1997.0,1175.5 L1997.5,1174.2 L1998.0,1176.4 L1998.5,1177.9 L1999.0,1177.6 L1999.5,1175.1 L2000.0,1176.3 L2000.5,1173.3 L2001.0,1174.8 L2001.5,1173.6 L2002.0,1173.3 L2002.5,1174.6 L2003.0,1173.4 L2003.5,1174.7 L2004.0,1174.7 L2004.5,1172.0 L2005.0,1173.4 L2005.5,1176.0 L2006.0,1173.8 L2006.5,1178.8 L2007.0,1180.0 L2007.5,1176.7 L2008.0,1175.6 L2008.5,1175.7 L2009.0,1171.6 L2009.5,1173.9 L2010.0,1170.4 L2010.5,1176.0 L2011.0,1177.0 L2011.5,1175.4 L2012.0,1174.6 L2012.5,1173.5 L2013.0,1175.9 L2013.5,1172.3 L2014.0,1177.4 L2014.5,1172.1 L2015.0,1171.4 L2015.5,1174.2 L2016.0,1175.6 L2016.5,1173.5 L2017.0,1174.6 L2017.5,1175.7 L2018.0,1173.4 L2018.5,1177.2 L2019.0,1174.7 L2019.5,1176.4 L2020.0,1173.7 L2020.5,1171.2 L2021.0,1176.4 L2021.5,1177.2 L2022.0,1173.5 L2022.5,1175.0 L2023.0,1172.2 L2023.5,1171.7 L2024.0,1178.3 L2024.5,1178.7 L2025.0,1174.0 L2025.5,1179.5 L2026.0,1174.1 L2026.5,1176.5 L2027.0,1175.4 L2027.5,1175.5 L2028.0,1169.5 L2028.5,1178.6 L2029.0,1173.1 L2029.5,1174.8 L2030.0,1177.5 L2030.5,1172.2 L2031.0,1174.9 L2031.5,1174.7 L2032.0,1174.5"/>
<path stroke="#00f" d="M190.0,862.7 L190.5,860.5 L191.0,854.1 L191.5,864.4 L192.0,860.0 L192.5,862.9 L193.0,867.7 L193.5,861.5 L194.0,856.1 L194.5,857.7 L195.0,864.5 L195.5,854.6 L196.0,861.5 L196.5,861.9 L197.0,855.8 L197.5,861.1 L198.0,862.7 L198.5,857.4 L199.0,858.5 L199.5,862.5 L200.0,855.1 L200.5,856.7 L201.0,863.9 L201.5,860.3 L202.0,854.2 L202.5,859.9 L203.0,867.5 L203.5,853.6 L204.0,862.8 L204.5,862.5 L205.0,858.6 L205.5,861.7 L206.0,856.5 L206.5,865.2 L207.0,865.9 L207.5,855.4 L208.0,857.9 L208.5,859.2 L209.0,856.1 L209.5,859.9 L210.0,854.3 L210.5,860.6 L211.0,857.0 L211.5,857.9 L212.0,859.9 L212.5,861.7 L213.0,853.9 L213.5,860.9 L214.0,861.2 L214.5,857.1 L215.0,863.6 L215.5,854.3 L216.0,855.1 L216.5,858.7 L217.0,854.4 L217.5,862.6 L218.0,857.7 L218.5,863.7 L219.0,852.5 L219.5,852.8 L220.0,871.4 L220.5,852.2 L221.0,860.6 L221.5,853.0 L222.0,857.2 L222.5,860.7 L223.0,855.8 L223.5,851.3 L224.0,853.9 L224.5,860.3 L225.0,856.5 L225.5,858.5 L226.0,855.9 L226.5,856.7 L227.0,854.7 L227.5,851.3 L228.0,857.5 L228.5,856.0 L229.0,847.2 L229.5,855.1 L230.0,858.9 L230.5,862.7 L231.0,849.4 L231.5,855.2 L232.0,856.9 L232.5,857.7 L233.0,851.8 L233.5,856.5 L234.0,852.7 L234.5,854.2 L235.0,852.1 L235.5,855.4 L236.0,852.6 L236.5,855.2 L237.0,853.6 L237.5,857.5 L238.0,860.5 L238.5,853.4 L239.0,850.7 L239.5,852.6 L240.0,851.4 L240.5,846.8 L241.0,853.4 L241.5,851.3 L242.0,856.8 L242.5,852.6 L243.0,856.7 L243.5,856.0 L244.0,850.8 L244.5,851.4 L245.0,850.6 L245.5,850.8 L246.0,855.8 L246.5,850.3 L247.0,850.7 L247.5,849.0 L248.0,857.8 L248.5,850.6 L249.0,851.4 L249.5,848.4 L250.0,852.7 L250.5,848.8 L251.0,849.5 L251.5,844.2 L252.0,846.0 L252.5,853.5 L253.0,856.0 L253.5,846.5 L254.0,854.0 L254.5,854.2 L255.0,865.9 L255.5,849.9 L256.0,851.4 L256.5,850.1 L257.0,857.7 L257.5,858.8 L258.0,853.7 L258.5,861.1 L259.0,863.6 L259.5,853.5 L260.0,857.8 L260.5,855.0 L261.0,853.4 L261.5,854.3 L262.0,855.3 L262.5,851.3 L263.0,856.3 L263.5,860.0 L264.0,853.2 L264.5,855.1 L265.0,853.7 L265.5,859.0 L266.0,857.3 L266.5,861.6 L267.0,856.7 L267.5,852.3 L268.0,860.6 L268.5,857.3 L269.0,863.2 L269.5,861.6 L270.0,848.4 L270.5,851.1 L271.0,859.3 L271.5,856.3 L272.0,850.5 L272.5,856.9 L273.0,863.9 L273.5,860.9 L274.0,854.4 L274.5,858.7 L275.0,861.2 L275.5,856.1 L276.0,863.5 L276.5,853.2 L277.0,864.0 L277.5,861.3 L278.0,856.8 L278.5,855.2 L279.0,854.0 L279.5,849.7 L280.0,856.9 L280.5,857.6 L281.0,855.2 L281.5,852.7 L282.0,851.5 L282.5,846.9 L283.0,847.4 L283.5,843.8 L284.0,850.9 L284.5,844.8 L285.0,851.2 L285.5,844.6 L286.0,852.3 L286.5,852.2 L287.0,851.4 L287.5,849.2 L288.0,842.7 L288.5,841.9 L289.0,839.4 L289.5,842.8 L290.0,847.4 L290.5,835.4 L291.0,848.5 L291.5,835.5 L292.0,832.1 L292.5,837.0 L293.0,838.7 L293.5,831.7 L294.0,827.7 L294.5,837.3 L295.0,824.3 L295.5,831.0 L296.0,825.8 L296.5,821.6 L297.0,821.0 L297.5,813.9 L298.0,810.9 L298.5,813.2 L299.0,803.9 L299.5,800.4 L300.0,803.9 L300.5,798.9 L301.0,788.4 L301.5,778.3 L302.0,762.7 L302.5,751.0 L303.0,732.1 L303.5,705.6 L304.0,696.5 L304.5,672.3 L305.0,647.9 L305.5,608.5 L306.0,584.3 L306.5,541.3 L307.0,500.4 L307.5,465.3 L308.0,431.3 L308.5,391.0 L309.0,360.7 L309.5,330.0 L310.0,319.0 L310.5,315.2 L311.0,313.2 L311.5,334.5 L312.0,352.5 L312.5,390.6 L313.0,419.9 L313.5,465.8 L314.0,502.9 L314.5,536.2 L315.0,578.0 L315.5,606.0 L316.0,640.6 L316.5,663.7 L317.0,693.5 L317.5,710.0 L318.0,735.9 L318.5,747.3 L319.0,760.5 L319.5,763.8 L320.0,769.7 L320.5,782.4 L321.0,799.0 L321.5,793.2 L322.0,806.2 L322.5,810.1 L323.0,805.9 L323.5,810.2 L324.0,818.6 L324.5,814.5 L325.0,815.9 L325.5,816.9 L326.0,821.1 L326.5,821.9 L327.0,828.6 L327.5,825.9 L328.0,830.8 L328.5,826.8 L329.0,838.3 L329.5,828.8 L330.0,829.5 L330.5,827.8 L331.0,825.0 L331.5,829.1 L332.0,834.1 L332.5,830.0 L333.0,837.9 L333.5,828.6 L334.0,829.0 L334.5,837.4 L335.0,838.1 L335.5,832.5 L336.0,841.7 L336.5,843.2 L337.0,839.4 L337.5,833.0 L338.0,843.3 L338.5,837.3 L339.0,837.8 L339.5,840.5 L340.0,835.8 L340.5,844.5 L341.0,835.9 L341.5,842.5 L342.0,841.1 L342.5,844.8 L343.0,839.5 L343.5,840.6 L344.0,835.3 L344.5,835.6 L345.0,833.7 L345.5,840.1 L346.0,835.4 L346.5,844.9 L347.0,839.4 L347.5,836.0 L348.0,838.9 L348.5,847.1 L349.0,841.4 L349.5,846.5 L350.0,838.7 L350.5,847.5 L351.0,849.6 L351.5,849.4 L352.0,851.3 L352.5,845.1 L353.0,843.3 L353.5,845.4 L354.0,854.8 L354.5,853.9 L355.0,856.3 L355.5,851.7 L356.0,858.0 L356.5,849.5 L357.0,858.2 L357.5,853.3 L358.0,856.6 L358.5,861.8 L359.0,863.6 L359.5,860.4 L360.0,860.5 L360.5,867.3 L361.0,866.2 L361.5,859.4 L362.0,863.3 L362.5,861.4 L363.0,866.2 L363.5,864.3 L364.0,864.3 L364.5,863.0 L365.0,860.7 L365.5,867.3 L366.0,864.7 L366.5,854.0 L367.0,861.9 L367.5,864.6 L368.0,860.8 L368.5,860.2 L369.0,861.5 L369.5,865.6 L370.0,860.6 L370.5,866.1 L371.0,870.2 L371.5,868.8 L372.0,869.1 L372.5,864.6 L373.0,870.4 L373.5,866.0 L374.0,869.6 L374.5,861.9 L375.0,871.5 L375.5,864.5 L376.0,867.2 L376.5,871.5 L377.0,867.5 L377.5,865.9 L378.0,867.3 L378.5,872.5 L379.0,872.8 L379.5,871.3 L380.0,866.4 L380.5,867.4 L381.0,871.6 L381.5,872.0 L382.0,866.3 L382.5,866.4 L383.0,872.0 L383.5,873.7 L384.0,869.7 L384.5,864.7 L385.0,875.8 L385.5,869.7 L386.0,871.5 L386.5,861.2 L387.0,866.9 L387.5,869.1 L388.0,871.1 L388.5,866.4 L389.0,863.9 L389.5,863.5 L390.0,868.5 L390.5,871.2 L391.0,871.1 L391.5,863.3 L392.0,867.4 L392.5,869.9 L393.0,874.3 L393.5,872.6 L394.0,871.5 L394.5,863.9 L395.0,874.9 L395.5,870.3 L396.0,871.6 L396.5,868.1 L397.0,870.0 L397.5,869.6 L398.0,869.4 L398.5,867.6 L399.0,873.8 L399.5,874.8 L400.0,869.1 L400.5,868.1 L401.0,868.2 L401.5,870.3 L402.0,877.2 L402.5,871.1 L403.0,878.9 L403.5,866.8 L404.0,867.5 L404.5,868.8 L405.0,868.6 L405.5,873.3 L406.0,879.0 L406.5,869.3 L407.0,873.6 L407.5,877.6 L408.0,881.9 L408.5,873.3 L409.0,876.4 L409.5,877.9 L410.0,873.1 L410.5,875.0 L411.0,871.5 L411.5,869.4 L412.0,870.7 L412.5,877.6 L413.0,878.5 L413.5,874.2 L414.0,868.5 L414.5,878.3 L415.0,873.5 L415.5,879.5 L416.0,874.0 L416.5,869.2 L417.0,872.6 L417.5,871.2 L418.0,880.2 L418.5,865.0 L419.0,871.7 L419.5,872.9 L420.0,866.1 L420.5,876.0 L421.0,876.8 L421.5,877.8 L422.0,877.8 L422.5,874.2 L423.0,878.4 L423.5,873.0 L424.0,875.0 L424.5,875.8 L425.0,875.3 L425.5,877.1 L426.0,872.6 L426.5,874.8 L427.0,873.0 L427.5,875.7 L428.0,876.7 L428.5,872.6 L429.0,881.4 L429.5,883.4 L430.0,878.1 L430.5,876.3 L431.0,873.6 L431.5,875.4 L432.0,875.4 L432.5,879.0 L433.0,876.3 L433.5,879.2 L434.0,878.8 L434.5,885.3 L435.0,871.5 L435.5,872.2 L436.0,872.7 L436.5,876.9 L437.0,881.7 L437.5,873.5 L438.0,879.8 L438.5,876.6 L439.0,882.4 L439.5,886.3 L440.0,881.8 L440.5,879.0 L441.0,879.7 L441.5,883.0 L442.0,876.8 L442.5,874.9 L443.0,878.8 L443.5,884.5 L444.0,875.5 L444.5,882.7 L445.0,881.9 L445.5,877.6 L446.0,875.5 L446.5,872.2 L447.0,874.2 L447.5,879.5 L448.0,881.8 L448.5,876.5 L449.0,876.8 L449.5,876.0 L450.0,888.8 L450.5,873.8 L451.0,873.4 L451.5,883.5 L452.0,875.1 L452.5,883.4 L453.0,876.3 L453.5,883.7 L454.0,885.1 L454.5,877.9 L455.0,879.8 L455.5,876.0 L456.0,883.5 L456.5,878.8 L457.0,876.4 L457.5,881.9 L458.0,881.7 L458.5,880.2 L459.0,878.7 L459.5,884.3 L460.0,878.0 L460.5,877.2 L461.0,879.7 L461.5,882.9 L462.0,879.3 L462.5,878.4 L463.0,876.9 L463.5,877.9 L464.0,878.5 L464.5,889.1 L465.0,874.2 L465.5,879.5 L466.0,881.7 L466.5,878.0 L467.0,876.9 L467.5,883.9 L468.0,887.2 L468.5,886.2 L469.0,882.0 L469.5,880.2 L470.0,884.7 L470.5,875.6 L471.0,878.9 L471.5,888.2 L472.0,884.1 L472.5,883.1 L473.0,881.8 L473.5,881.1 L474.0,879.4 L474.5,885.1 L475.0,884.9 L475.5,885.0 L476.0,873.3 L476.5,888.2 L477.0,886.6 L477.5,889.5 L478.0,881.1 L478.5,874.8 L479.0,878.3 L479.5,880.1 L480.0,891.7 L480.5,880.7 L481.0,881.9 L481.5,887.8 L482.0,887.4 L482.5,887.7 L483.0,882.0 L483.5,891.4 L484.0,885.5 L484.5,880.6 L485.0,885.6 L485.5,878.4 L486.0,879.1 L486.5,881.3 L487.0,879.3 L487.5,882.1 L488.0,881.5 L488.5,882.3 L489.0,880.7 L489.5,888.7 L490.0,880.3 L490.5,882.1 L491.0,880.7 L491.5,882.0 L492.0,879.2 L492.5,892.8 L493.0,883.3 L493.5,887.7 L494.0,883.0 L494.5,879.3 L495.0,882.5 L495.5,881.8 L496.0,879.7 L496.5,885.0 L497.0,891.1 L497.5,885.4 L498.0,888.8 L498.5,889.9 L499.0,877.0 L499.5,892.4 L500.0,879.6 L500.5,892.2 L501.0,898.6 L501.5,887.3 L502.0,893.8 L502.5,889.2 L503.0,878.6 L503.5,877.8 L504.0,880.3 L504.5,889.1 L505.0,886.4 L505.5,888.7 L506.0,886.9 L506.5,890.0 L507.0,881.0 L507.5,877.9 L508.0,882.5 L508.5,888.5 L509.0,881.2 L509.5,875.9 L510.0,883.1 L510.5,888.1 L511.0,876.1 L511.5,884.0 L512.0,883.3 L512.5,877.0 L513.0,885.3 L513.5,892.9 L514.0,883.4 L514.5,891.9 L515.0,880.4 L515.5,883.7 L516.0,883.4 L516.5,885.3 L517.0,878.1 L517.5,890.1 L518.0,884.0 L518.5,876.6 L519.0,887.8 L519.5,885.8 L520.0,880.2 L520.5,884.9 L521.0,888.6 L521.5,888.2 L522.0,886.9 L522.5,882.9 L523.0,886.8 L523.5,890.8 L524.0,894.5 L524.5,888.4 L525.0,889.2 L525.5,889.8 L526.0,885.0 L526.5,879.0 L527.0,883.8 L527.5,885.2 L528.0,886.8 L528.5,885.8 L529.0,882.7 L529.5,883.3 L530.0,884.4 L530.5,881.8 L531.0,881.8 L531.5,878.2 L532.0,883.5 L532.5,885.3 L533.0,882.2 L533.5,883.7 L534.0,885.0 L534.5,880.3 L535.0,882.1 L535.5,881.0 L536.0,886.5 L536.5,880.2 L537.0,884.8 L537.5,876.7 L538.0,891.8 L538.5,887.1 L539.0,881.7 L539.5,884.8 L540.0,892.7 L540.5,885.7 L541.0,879.4 L541.5,885.3 L542.0,883.6 L542.5,887.7 L543.0,886.5 L543.5,879.5 L544.0,887.0 L544.5,890.0 L545.0,891.8 L545.5,887.7 L546.0,893.9 L546.5,892.3 L547.0,889.7 L547.5,892.8 L548.0,876.6 L548.5,891.7 L549.0,892.6 L549.5,886.4 L550.0,890.1 L550.5,894.3 L551.0,886.2 L551.5,886.1 L552.0,882.6 L552.5,885.9 L553.0,879.7 L553.5,886.2 L554.0,893.6 L554.5,894.4 L555.0,886.7 L555.5,893.8 L556.0,888.5 L556.5,881.7 L557.0,884.3 L557.5,886.6 L558.0,886.8 L558.5,889.4 L559.0,884.0 L559.5,885.2 L560.0,891.0 L560.5,887.4 L561.0,888.5 L561.5,886.7 L562.0,889.7 L562.5,890.0 L563.0,883.9 L563.5,891.5 L564.0,884.4 L564.5,888.4 L565.0,877.4 L565.5,889.6 L566.0,888.1 L566.5,889.3 L567.0,887.5 L567.5,886.5 L568.0,887.8 L568.5,886.9 L569.0,883.6 L569.5,880.7 L570.0,889.1 L570.5,892.1 L571.0,883.1 L571.5,888.9 L572.0,884.5 L572.5,887.6 L573.0,890.4 L573.5,888.3 L574.0,885.9 L574.5,879.1 L575.0,886.0 L575.5,886.7 L576.0,891.7 L576.5,884.0 L577.0,886.3 L577.5,887.5 L578.0,891.7 L578.5,882.0 L579.0,890.0 L579.5,886.3 L580.0,884.0 L580.5,893.3 L581.0,882.8 L581.5,889.9 L582.0,884.5 L582.5,882.8 L583.0,884.9 L583.5,891.8 L584.0,890.5 L584.5,889.8 L585.0,890.4 L585.5,889.6 L586.0,884.9 L586.5,882.1 L587.0,891.4 L587.5,885.9 L588.0,886.9 L588.5,884.5 L589.0,888.4 L589.5,891.7 L590.0,884.7 L590.5,886.9 L591.0,886.6 L591.5,888.9 L592.0,886.2 L592.5,886.4 L593.0,883.9 L593.5,886.4 L594.0,883.3 L594.5,889.1 L595.0,885.6 L595.5,892.7 L596.0,883.4 L596.5,882.0 L597.0,889.7 L597.5,888.5 L598.0,880.5 L598.5,896.3 L599.0,885.2 L599.5,890.3 L600.0,884.3 L600.5,888.5 L601.0,890.1 L601.5,883.8 L602.0,887.1 L602.5,889.1 L603.0,893.7 L603.5,889.5 L604.0,891.1 L604.5,887.8 L605.0,888.2 L605.5,887.7 L606.0,884.6 L606.5,878.1 L607.0,878.6 L607.5,886.6 L608.0,887.0 L608.5,885.3 L609.0,882.7 L609.5,882.9 L610.0,879.8 L610.5,889.4 L611.0,878.0 L611.5,891.0 L612.0,882.7 L612.5,894.5 L613.0,886.2 L613.5,883.0 L614.0,884.6 L614.5,882.1 L615.0,890.0 L615.5,883.8 L616.0,884.7 L616.5,880.2 L617.0,885.9 L617.5,877.6 L618.0,880.7 L618.5,888.2 L619.0,874.9 L619.5,884.2 L620.0,887.6 L620.5,883.3 L621.0,888.6 L621.5,887.6 L622.0,884.5 L622.5,876.1 L623.0,880.4 L623.5,880.8 L624.0,886.0 L624.5,881.5 L625.0,880.5 L625.5,876.4 L626.0,880.5 L626.5,882.1 L627.0,871.3 L627.5,880.5 L628.0,882.1 L628.5,879.4 L629.0,879.7 L629.5,877.8 L630.0,883.4 L630.5,877.7 L631.0,884.6 L631.5,881.3 L632.0,872.3 L632.5,878.7 L633.0,881.0 L633.5,883.2 L634.0,880.3 L634.5,879.3 L635.0,883.0 L635.5,886.0 L636.0,872.5 L636.5,877.1 L637.0,886.2 L637.5,880.6 L638.0,875.5 L638.5,886.0 L639.0,887.0 L639.5,878.1 L640.0,881.9 L640.5,878.8 L641.0,880.0 L641.5,882.3 L642.0,877.1 L642.5,877.7 L643.0,876.5 L643.5,870.6 L644.0,879.0 L644.5,880.2 L645.0,877.2 L645.5,876.2 L646.0,878.7 L646.5,872.1 L647.0,870.1 L647.5,875.4 L648.0,873.5 L648.5,879.1 L649.0,865.8 L649.5,870.5 L650.0,865.0 L650.5,877.4 L651.0,866.5 L651.5,870.2 L652.0,857.3 L652.5,861.2 L653.0,866.9 L653.5,861.1 L654.0,859.0 L654.5,862.8 L655.0,859.1 L655.5,857.6 L656.0,856.5 L656.5,851.8 L657.0,857.9 L657.5,853.9 L658.0,847.2 L658.5,844.0 L659.0,835.6 L659.5,835.8 L660.0,842.6 L660.5,829.5 L661.0,829.0 L661.5,833.5 L662.0,826.9 L662.5,819.4 L663.0,814.4 L663.5,805.7 L664.0,801.1 L664.5,793.2 L665.0,789.9 L665.5,778.1 L666.0,761.3 L666.5,757.4 L667.0,741.0 L667.5,726.0 L668.0,708.2 L668.5,685.6 L669.0,659.9 L669.5,638.0 L670.0,608.2 L670.5,570.3 L671.0,535.0 L671.5,498.0 L672.0,457.5 L672.5,411.3 L673.0,360.3 L673.5,324.0 L674.0,271.1 L674.5,226.3 L675.0,189.6 L675.5,162.6 L676.0,140.7 L676.5,123.1 L677.0,128.9 L677.5,143.4 L678.0,171.8 L678.5,208.9 L679.0,245.3 L679.5,298.5 L680.0,338.8 L680.5,385.4 L681.0,425.4 L681.5,458.2 L682.0,502.8 L682.5,529.8 L683.0,563.0 L683.5,595.9 L684.0,620.0 L684.5,644.0 L685.0,659.4 L685.5,680.6 L686.0,693.0 L686.5,702.2 L687.0,706.7 L687.5,713.8 L688.0,724.9 L688.5,734.8 L689.0,722.6 L689.5,724.2 L690.0,717.2 L690.5,706.3 L691.0,711.6 L691.5,701.1 L692.0,692.1 L692.5,673.6 L693.0,657.0 L693.5,647.7 L694.0,617.2 L694.5,599.7 L695.0,574.1 L695.5,541.0 L696.0,507.0 L696.5,476.3 L697.0,433.0 L697.5,402.7 L698.0,366.9 L698.5,329.5 L699.0,304.6 L699.5,286.0 L700.0,276.3 L700.5,257.0 L701.0,267.0 L701.5,280.7 L702.0,300.3 L702.5,328.4 L703.0,366.7 L703.5,404.6 L704.0,434.4 L704.5,484.1 L705.0,514.6 L705.5,550.7 L706.0,581.0 L706.5,618.5 L707.0,636.2 L707.5,664.8 L708.0,689.9 L708.5,706.1 L709.0,726.8 L709.5,745.7 L710.0,762.4 L710.5,769.5 L711.0,779.2 L711.5,792.4 L712.0,799.4 L712.5,802.3 L713.0,816.3 L713.5,817.5 L714.0,820.3 L714.5,832.1 L715.0,834.7 L715.5,833.1 L716.0,842.2 L716.5,839.8 L717.0,843.1 L717.5,844.0 L718.0,853.6 L718.5,851.9 L719.0,856.8 L719.5,851.2 L720.0,856.4 L720.5,853.1 L721.0,858.6 L721.5,861.0 L722.0,863.2 L722.5,859.2 L723.0,870.5 L723.5,861.1 L724.0,873.2 L724.5,869.1 L725.0,874.7 L725.5,867.5 L726.0,872.8 L726.5,875.4 L727.0,882.5 L727.5,876.4 L728.0,882.4 L728.5,877.6 L729.0,882.5 L729.5,877.7 L730.0,878.7 L730.5,882.7 L731.0,874.6 L731.5,873.8 L732.0,881.4 L732.5,889.5 L733.0,887.4 L733.5,882.5 L734.0,885.0 L734.5,883.8 L735.0,884.9 L735.5,889.4 L736.0,879.6 L736.5,879.8 L737.0,877.2 L737.5,881.7 L738.0,889.5 L738.5,885.4 L739.0,880.8 L739.5,883.7 L740.0,884.6 L740.5,890.7 L741.0,888.7 L741.5,888.6 L742.0,892.0 L742.5,889.4 L743.0,891.8 L743.5,884.5 L744.0,884.0 L744.5,886.4 L745.0,896.0 L745.5,883.6 L746.0,888.8 L746.5,890.2 L747.0,884.5 L747.5,883.5 L748.0,896.4 L748.5,887.8 L749.0,887.0 L749.5,889.9 L750.0,889.0 L750.5,882.9 L751.0,881.7 L751.5,887.8 L752.0,885.5 L752.5,888.3 L753.0,883.9 L753.5,898.7 L754.0,890.4 L754.5,896.6 L755.0,886.8 L755.5,888.4 L756.0,886.9 L756.5,889.2 L757.0,890.7 L757.5,886.9 L758.0,884.8 L758.5,886.2 L759.0,888.1 L759.5,892.1 L760.0,882.6 L760.5,885.6 L761.0,890.1 L761.5,893.8 L762.0,886.7 L762.5,889.5 L763.0,887.5 L763.5,887.2 L764.0,888.7 L764.5,886.0 L765.0,887.1 L765.5,886.8 L766.0,894.1 L766.5,887.8 L767.0,894.3 L767.5,887.3 L768.0,888.3 L768.5,884.3 L769.0,888.3 L769.5,893.0 L770.0,893.7 L770.5,883.1 L771.0,896.9 L771.5,888.5 L772.0,889.2 L772.5,891.0 L773.0,887.2 L773.5,883.6 L774.0,887.0 L774.5,885.3 L775.0,894.2 L775.5,886.8 L776.0,877.7 L776.5,891.6 L777.0,888.6 L777.5,886.0 L778.0,878.7 L778.5,898.8 L779.0,884.5 L779.5,884.4 L780.0,883.4 L780.5,886.2 L781.0,885.1 L781.5,886.6 L782.0,887.2 L782.5,885.3 L783.0,889.5 L783.5,880.9 L784.0,888.6 L784.5,886.3 L785.0,884.8 L785.5,887.5 L786.0,885.5 L786.5,885.2 L787.0,882.4 L787.5,880.8 L788.0,878.1 L788.5,878.9 L789.0,881.1 L789.5,886.6 L790.0,882.4 L790.5,883.7 L791.0,878.8 L791.5,876.7 L792.0,882.9 L792.5,891.5 L793.0,877.7 L793.5,887.1 L794.0,877.1 L794.5,876.7 L795.0,877.5 L795.5,877.5 L796.0,883.8 L796.5,881.0 L797.0,880.3 L797.5,877.5 L798.0,882.9 L798.5,886.1 L799.0,879.8 L799.5,876.9 L800.0,873.9 L800.5,876.3 L801.0,872.3 L801.5,881.9 L802.0,873.3 L802.5,880.3 L803.0,870.4 L803.5,878.0 L804.0,876.2 L804.5,876.2 L805.0,873.6 L805.5,867.5 L806.0,881.2 L806.5,864.0 L807.0,872.6 L807.5,866.1 L808.0,861.0 L808.5,866.7 L809.0,867.3 L809.5,855.6 L810.0,851.9 L810.5,851.6 L811.0,853.8 L811.5,850.0 L812.0,848.6 L812.5,840.4 L813.0,830.4 L813.5,828.3 L814.0,829.9 L814.5,820.4 L815.0,814.9 L815.5,818.8 L816.0,818.4 L816.5,807.7 L817.0,807.4 L817.5,806.3 L818.0,809.8 L818.5,805.1 L819.0,805.5 L819.5,807.0 L820.0,803.1 L820.5,813.6 L821.0,815.0 L821.5,809.4 L822.0,809.6 L822.5,809.6 L823.0,808.1 L823.5,803.9 L824.0,808.0 L824.5,806.4 L825.0,805.5 L825.5,795.2 L826.0,797.0 L826.5,788.2 L827.0,797.3 L827.5,780.7 L828.0,782.5 L828.5,785.3 L829.0,768.5 L829.5,771.7 L830.0,760.5 L830.5,766.4 L831.0,757.1 L831.5,751.9 L832.0,746.2 L832.5,747.7 L833.0,741.9 L833.5,740.1 L834.0,736.6 L834.5,727.2 L835.0,726.9 L835.5,727.5 L836.0,721.3 L836.5,718.0 L837.0,714.3 L837.5,709.9 L838.0,709.9 L838.5,708.1 L839.0,717.0 L839.5,705.6 L840.0,702.7 L840.5,708.3 L841.0,706.6 L841.5,706.2 L842.0,713.4 L842.5,711.5 L843.0,711.3 L843.5,719.5 L844.0,727.9 L844.5,728.7 L845.0,728.1 L845.5,732.1 L846.0,734.8 L846.5,741.9 L847.0,742.5 L847.5,749.1 L848.0,751.6 L848.5,757.5 L849.0,753.4 L849.5,765.8 L850.0,768.2 L850.5,773.6 L851.0,780.8 L851.5,778.7 L852.0,784.6 L852.5,793.0 L853.0,796.7 L853.5,804.1 L854.0,816.6 L854.5,801.9 L855.0,813.6 L855.5,814.9 L856.0,819.5 L856.5,826.2 L857.0,825.9 L857.5,827.8 L858.0,825.2 L858.5,832.6 L859.0,840.1 L859.5,841.5 L860.0,850.1 L860.5,838.7 L861.0,844.8 L861.5,850.1 L862.0,847.4 L862.5,857.4 L863.0,862.1 L863.5,851.0 L864.0,864.9 L864.5,865.9 L865.0,851.6 L865.5,854.4 L866.0,861.4 L866.5,863.0 L867.0,860.7 L867.5,865.0 L868.0,868.9 L868.5,863.2 L869.0,858.6 L869.5,866.9 L870.0,871.9 L870.5,875.2 L871.0,874.2 L871.5,859.6 L872.0,866.3 L872.5,871.0 L873.0,868.5 L873.5,874.5 L874.0,874.5 L874.5,876.6 L875.0,879.1 L875.5,871.7 L876.0,881.1 L876.5,868.9 L877.0,870.5 L877.5,870.6 L878.0,871.7 L878.5,878.1 L879.0,894.6 L879.5,870.0 L880.0,879.0 L880.5,881.4 L881.0,878.4 L881.5,869.9 L882.0,880.2 L882.5,882.6 L883.0,872.5 L883.5,878.2 L884.0,884.9 L884.5,882.6 L885.0,886.3 L885.5,887.4 L886.0,877.9 L886.5,878.6 L887.0,887.5 L887.5,883.1 L888.0,888.3 L888.5,887.6 L889.0,882.6 L889.5,890.0 L890.0,888.5 L890.5,884.7 L891.0,885.6 L891.5,885.7 L892.0,889.6 L892.5,892.6 L893.0,891.4 L893.5,889.0 L894.0,884.6 L894.5,890.9 L895.0,890.6 L895.5,888.8 L896.0,888.3 L896.5,898.4 L897.0,898.6 L897.5,887.5 L898.0,897.3 L898.5,895.4 L899.0,901.4 L899.5,891.5 L900.0,899.0 L900.5,893.3 L901.0,895.0 L901.5,897.1 L902.0,900.5 L902.5,897.6 L903.0,891.4 L903.5,901.2 L904.0,898.3 L904.5,897.8 L905.0,892.3 L905.5,897.4 L906.0,903.8 L906.5,904.2 L907.0,901.1 L907.5,895.8 L908.0,902.4 L908.5,896.0 L909.0,902.6 L909.5,897.3 L910.0,893.4 L910.5,901.3 L911.0,900.4 L911.5,900.4 L912.0,896.0 L912.5,895.5 L913.0,904.1 L913.5,899.5 L914.0,906.1 L914.5,906.2 L915.0,895.4 L915.5,898.2 L916.0,888.1 L916.5,899.3 L917.0,897.0 L917.5,900.5 L918.0,898.3 L918.5,897.5 L919.0,896.4 L919.5,896.5 L920.0,904.4 L920.5,902.1 L921.0,908.1 L921.5,902.7 L922.0,898.0 L922.5,897.7 L923.0,906.0 L923.5,892.0 L924.0,899.9 L924.5,898.8 L925.0,891.1 L925.5,903.7 L926.0,899.4 L926.5,898.4 L927.0,895.8 L927.5,899.0 L928.0,898.6 L928.5,903.0 L929.0,897.6 L929.5,908.5 L930.0,896.4 L930.5,899.3 L931.0,896.0 L931.5,901.9 L932.0,896.7 L932.5,904.0 L933.0,902.2 L933.5,899.7 L934.0,891.2 L934.5,897.5 L935.0,897.0 L935.5,899.6 L936.0,891.3 L936.5,899.1 L937.0,899.0 L937.5,895.7 L938.0,896.8 L938.5,893.3 L939.0,898.6 L939.5,889.7 L940.0,891.3 L940.5,903.7 L941.0,892.7 L941.5,892.2 L942.0,888.0 L942.5,890.0 L943.0,891.2 L943.5,884.6 L944.0,882.6 L944.5,885.6 L945.0,892.3 L945.5,883.4 L946.0,893.3 L946.5,885.9 L947.0,881.4 L947.5,874.4 L948.0,875.2 L948.5,881.3 L949.0,859.9 L949.5,861.7 L950.0,861.0 L950.5,851.2 L951.0,839.6 L951.5,828.0 L952.0,822.8 L952.5,800.1 L953.0,800.9 L953.5,775.9 L954.0,755.9 L954.5,746.8 L955.0,732.0 L955.5,717.1 L956.0,700.6 L956.5,696.7 L957.0,700.1 L957.5,701.2 L958.0,711.8 L958.5,719.2 L959.0,728.3 L959.5,746.9 L960.0,764.2 L960.5,780.2 L961.0,795.1 L961.5,808.3 L962.0,822.1 L962.5,832.9 L963.0,836.2 L963.5,852.2 L964.0,857.3 L964.5,859.2 L965.0,866.5 L965.5,869.2 L966.0,874.5 L966.5,869.4 L967.0,871.9 L967.5,885.0 L968.0,882.2 L968.5,890.8 L969.0,892.9 L969.5,889.5 L970.0,897.0 L970.5,886.8 L971.0,892.3 L971.5,887.3 L972.0,893.9 L972.5,898.4 L973.0,895.3 L973.5,896.4 L974.0,891.8 L974.5,897.2 L975.0,893.5 L975.5,897.5 L976.0,894.6 L976.5,901.5 L977.0,900.6 L977.5,900.1 L978.0,902.1 L978.5,904.2 L979.0,899.4 L979.5,896.8 L980.0,897.4 L980.5,906.6 L981.0,901.7 L981.5,896.0 L982.0,896.4 L982.5,905.5 L983.0,899.8 L983.5,907.9 L984.0,907.2 L984.5,900.2 L985.0,900.1 L985.5,897.7 L986.0,904.5 L986.5,896.0 L987.0,903.3 L987.5,900.1 L988.0,907.7 L988.5,900.3 L989.0,898.7 L989.5,904.2 L990.0,897.8 L990.5,904.5 L991.0,900.6 L991.5,899.4 L992.0,900.4 L992.5,900.7 L993.0,896.7 L993.5,904.0 L994.0,901.4 L994.5,899.2 L995.0,906.8 L995.5,902.6 L996.0,908.1 L996.5,894.5 L997.0,907.0 L997.5,902.2 L998.0,908.4 L998.5,902.0 L999.0,899.7 L999.5,899.1 L1000.0,903.2 L1000.5,895.3 L1001.0,900.0 L1001.5,897.4 L1002.0,910.6 L1002.5,903.4 L1003.0,900.1 L1003.5,889.4 L1004.0,900.5 L1004.5,898.4 L1005.0,900.5 L1005.5,900.7 L1006.0,897.7 L1006.5,895.3 L1007.0,899.2 L1007.5,899.8 L1008.0,900.0 L1008.5,900.0 L1009.0,901.8 L1009.5,896.7 L1010.0,903.5 L1010.5,898.3 L1011.0,900.5 L1011.5,898.0 L1012.0,900.8 L1012.5,905.9 L1013.0,901.5 L1013.5,900.1 L1014.0,899.9 L1014.5,897.0 L1015.0,894.3 L1015.5,890.8 L1016.0,899.4 L1016.5,900.9 L1017.0,901.5 L1017.5,891.0 L1018.0,895.2 L1018.5,900.0 L1019.0,896.5 L1019.5,901.0 L1020.0,901.7 L1020.5,892.8 L1021.0,901.3 L1021.5,897.4 L1022.0,895.7 L1022.5,898.9 L1023.0,895.0 L1023.5,891.0 L1024.0,900.9 L1024.5,899.6 L1025.0,899.5 L1025.5,898.0 L1026.0,891.6 L1026.5,897.1 L1027.0,903.6 L1027.5,898.5 L1028.0,897.0 L1028.5,897.7 L1029.0,895.8 L1029.5,896.7 L1030.0,896.4 L1030.5,893.5 L1031.0,895.2 L1031.5,895.6 L1032.0,895.8 L1032.5,905.3 L1033.0,893.8 L1033.5,890.1 L1034.0,894.3 L1034.5,887.7 L1035.0,901.6 L1035.5,891.8 L1036.0,893.3 L1036.5,894.6 L1037.0,897.2 L1037.5,891.1 L1038.0,894.5 L1038.5,892.0 L1039.0,892.4 L1039.5,894.6 L1040.0,889.3 L1040.5,897.5 L1041.0,890.8 L1041.5,894.4 L1042.0,888.3 L1042.5,890.0 L1043.0,886.5 L1043.5,892.2 L1044.0,888.6 L1044.5,885.4 L1045.0,883.2 L1045.5,895.7 L1046.0,888.3 L1046.5,888.6 L1047.0,890.1 L1047.5,886.5 L1048.0,888.9 L1048.5,882.5 L1049.0,883.1 L1049.5,887.8 L1050.0,875.2 L1050.5,879.4 L1051.0,874.9 L1051.5,882.3 L1052.0,873.3 L1052.5,873.6 L1053.0,871.5 L1053.5,865.6 L1054.0,865.6 L1054.5,862.0 L1055.0,865.8 L1055.5,856.6 L1056.0,860.7 L1056.5,854.1 L1057.0,852.1 L1057.5,849.8 L1058.0,843.1 L1058.5,835.3 L1059.0,824.2 L1059.5,818.2 L1060.0,810.0 L1060.5,801.7 L1061.0,785.8 L1061.5,769.6 L1062.0,760.1 L1062.5,733.4 L1063.0,709.1 L1063.5,675.9 L1064.0,644.1 L1064.5,607.5 L1065.0,564.5 L1065.5,523.4 L1066.0,476.3 L1066.5,422.1 L1067.0,372.9 L1067.5,331.8 L1068.0,281.3 L1068.5,257.6 L1069.0,249.4 L1069.5,248.6 L1070.0,265.9 L1070.5,301.9 L1071.0,342.5 L1071.5,387.9 L1072.0,432.7 L1072.5,480.0 L1073.0,529.4 L1073.5,581.9 L1074.0,614.3 L1074.5,650.8 L1075.0,688.7 L1075.5,710.7 L1076.0,737.1 L1076.5,750.6 L1077.0,771.1 L1077.5,785.7 L1078.0,797.7 L1078.5,804.8 L1079.0,816.8 L1079.5,831.2 L1080.0,835.0 L1080.5,843.3 L1081.0,842.2 L1081.5,856.8 L1082.0,850.8 L1082.5,855.3 L1083.0,861.5 L1083.5,860.7 L1084.0,865.8 L1084.5,873.5 L1085.0,871.6 L1085.5,869.9 L1086.0,878.2 L1086.5,872.7 L1087.0,874.8 L1087.5,879.0 L1088.0,880.6 L1088.5,872.0 L1089.0,882.8 L1089.5,880.3 L1090.0,878.2 L1090.5,879.0 L1091.0,880.1 L1091.5,879.0 L1092.0,889.5 L1092.5,892.1 L1093.0,886.8 L1093.5,887.9 L1094.0,888.6 L1094.5,893.8 L1095.0,891.4 L1095.5,897.2 L1096.0,892.8 L1096.5,897.0 L1097.0,885.6 L1097.5,888.2 L1098.0,893.0 L1098.5,891.9 L1099.0,889.7 L1099.5,888.9 L1100.0,887.6 L1100.5,894.0 L1101.0,892.7 L1101.5,897.5 L1102.0,892.5 L1102.5,895.2 L1103.0,897.4 L1103.5,898.7 L1104.0,893.7 L1104.5,895.9 L1105.0,903.3 L1105.5,887.2 L1106.0,897.9 L1106.5,898.0 L1107.0,895.7 L1107.5,889.8 L1108.0,896.9 L1108.5,894.5 L1109.0,895.4 L1109.5,894.2 L1110.0,893.1 L1110.5,897.5 L1111.0,892.4 L1111.5,901.0 L1112.0,898.4 L1112.5,896.1 L1113.0,898.5 L1113.5,901.7 L1114.0,897.2 L1114.5,902.0 L1115.0,909.2 L1115.5,899.7 L1116.0,901.1 L1116.5,897.0 L1117.0,899.5 L1117.5,896.4 L1118.0,905.6 L1118.5,896.5 L1119.0,901.7 L1119.5,896.7 L1120.0,899.6 L1120.5,895.5 L1121.0,895.1 L1121.5,904.6 L1122.0,903.5 L1122.5,900.2 L1123.0,898.0 L1123.5,898.8 L1124.0,894.9 L1124.5,900.1 L1125.0,905.1 L1125.5,896.2 L1126.0,909.0 L1126.5,900.6 L1127.0,905.9 L1127.5,901.9 L1128.0,895.2 L1128.5,894.5 L1129.0,905.5 L1129.5,904.5 L1130.0,895.9 L1130.5,908.1 L1131.0,899.1 L1131.5,901.4 L1132.0,898.0 L1132.5,903.6 L1133.0,899.9 L1133.5,896.4 L1134.0,902.3 L1134.5,895.9 L1135.0,895.0 L1135.5,898.5 L1136.0,892.8 L1136.5,893.1 L1137.0,897.3 L1137.5,899.6 L1138.0,902.3 L1138.5,904.1 L1139.0,898.1 L1139.5,905.5 L1140.0,900.0 L1140.5,897.8 L1141.0,902.6 L1141.5,903.6 L1142.0,898.1 L1142.5,896.0 L1143.0,899.2 L1143.5,897.0 L1144.0,891.4 L1144.5,896.3 L1145.0,895.8 L1145.5,896.1 L1146.0,896.7 L1146.5,899.6 L1147.0,890.1 L1147.5,893.5 L1148.0,895.1 L1148.5,880.9 L1149.0,894.4 L1149.5,888.4 L1150.0,896.9 L1150.5,886.6 L1151.0,876.8 L1151.5,877.6 L1152.0,872.3 L1152.5,871.1 L1153.0,858.4 L1153.5,860.3 L1154.0,852.4 L1154.5,846.6 L1155.0,843.6 L1155.5,836.7 L1156.0,839.3 L1156.5,828.7 L1157.0,828.4 L1157.5,822.6 L1158.0,824.2 L1158.5,836.8 L1159.0,833.0 L1159.5,836.0 L1160.0,841.9 L1160.5,849.3 L1161.0,854.0 L1161.5,860.7 L1162.0,873.9 L1162.5,872.4 L1163.0,879.3 L1163.5,889.1 L1164.0,880.8 L1164.5,883.5 L1165.0,881.3 L1165.5,894.5 L1166.0,893.0 L1166.5,895.1 L1167.0,899.3 L1167.5,899.1 L1168.0,884.7 L1168.5,891.5 L1169.0,900.4 L1169.5,893.2 L1170.0,896.8 L1170.5,900.9 L1171.0,900.1 L1171.5,896.9 L1172.0,902.3 L1172.5,905.5 L1173.0,899.0 L1173.5,911.8 L1174.0,903.7 L1174.5,903.1 L1175.0,896.6 L1175.5,897.7 L1176.0,898.4 L1176.5,905.8 L1177.0,898.1 L1177.5,907.7 L1178.0,906.5 L1178.5,900.2 L1179.0,902.5 L1179.5,909.3 L1180.0,899.7 L1180.5,894.2 L1181.0,900.6 L1181.5,904.2 L1182.0,907.6 L1182.5,905.9 L1183.0,914.3 L1183.5,908.5 L1184.0,905.7 L1184.5,909.3 L1185.0,897.1 L1185.5,905.5 L1186.0,908.0 L1186.5,907.4 L1187.0,905.7 L1187.5,904.8 L1188.0,900.4 L1188.5,904.3 L1189.0,901.0 L1189.5,907.8 L1190.0,905.2 L1190.5,900.1 L1191.0,904.2 L1191.5,903.5 L1192.0,899.0 L1192.5,902.1 L1193.0,905.4 L1193.5,911.0 L1194.0,904.9 L1194.5,907.2 L1195.0,910.7 L1195.5,909.7 L1196.0,905.9 L1196.5,907.8 L1197.0,904.4 L1197.5,903.7 L1198.0,905.2 L1198.5,905.8 L1199.0,909.3 L1199.5,908.0 L1200.0,909.1 L1200.5,898.7 L1201.0,903.7 L1201.5,904.8 L1202.0,900.3 L1202.5,895.8 L1203.0,907.1 L1203.5,913.9 L1204.0,901.2 L1204.5,905.9 L1205.0,912.9 L1205.5,904.9 L1206.0,904.6 L1206.5,900.9 L1207.0,905.0 L1207.5,897.8 L1208.0,909.7 L1208.5,904.6 L1209.0,909.6 L1209.5,900.7 L1210.0,903.6 L1210.5,906.8 L1211.0,906.9 L1211.5,909.9 L1212.0,904.9 L1212.5,897.3 L1213.0,910.7 L1213.5,914.1 L1214.0,907.9 L1214.5,904.9 L1215.0,903.9 L1215.5,906.2 L1216.0,900.0 L1216.5,906.3 L1217.0,904.2 L1217.5,899.4 L1218.0,906.1 L1218.5,907.7 L1219.0,912.9 L1219.5,905.8 L1220.0,912.3 L1220.5,903.5 L1221.0,904.2 L1221.5,907.4 L1222.0,902.8 L1222.5,906.5 L1223.0,902.6 L1223.5,902.5 L1224.0,903.9 L1224.5,908.7 L1225.0,905.8 L1225.5,903.9 L1226.0,912.4 L1226.5,905.8 L1227.0,909.2 L1227.5,907.6 L1228.0,909.7 L1228.5,906.3 L1229.0,903.9 L1229.5,907.9 L1230.0,908.3 L1230.5,909.2 L1231.0,908.8 L1231.5,908.6 L1232.0,902.9 L1232.5,911.0 L1233.0,911.0 L1233.5,906.7 L1234.0,908.3 L1234.5,907.9 L1235.0,913.1 L1235.5,901.4 L1236.0,906.6 L1236.5,910.2 L1237.0,901.5 L1237.5,905.4 L1238.0,914.7 L1238.5,902.7 L1239.0,907.7 L1239.5,904.6 L1240.0,907.4 L1240.5,904.9 L1241.0,908.5 L1241.5,902.2 L1242.0,914.7 L1242.5,909.6 L1243.0,909.5 L1243.5,906.5 L1244.0,897.1 L1244.5,907.4 L1245.0,910.5 L1245.5,906.9 L1246.0,906.9 L1246.5,913.8 L1247.0,912.6 L1247.5,915.0 L1248.0,912.2 L1248.5,901.8 L1249.0,910.5 L1249.5,911.9 L1250.0,909.7 L1250.5,912.7 L1251.0,912.7 L1251.5,909.7 L1252.0,910.5 L1252.5,908.4 L1253.0,913.8 L1253.5,903.2 L1254.0,902.7 L1254.5,912.0 L1255.0,901.6 L1255.5,909.8 L1256.0,908.3 L1256.5,912.9 L1257.0,904.1 L1257.5,903.9 L1258.0,907.2 L1258.5,907.0 L1259.0,904.3 L1259.5,903.7 L1260.0,907.2 L1260.5,910.2 L1261.0,898.7 L1261.5,910.6 L1262.0,908.8 L1262.5,904.9 L1263.0,902.7 L1263.5,903.9 L1264.0,898.5 L1264.5,906.4 L1265.0,906.0 L1265.5,905.7 L1266.0,907.1 L1266.5,900.9 L1267.0,909.1 L1267.5,904.9 L1268.0,905.7 L1268.5,906.5 L1269.0,906.4 L1269.5,908.3 L1270.0,906.0 L1270.5,905.9 L1271.0,901.6 L1271.5,902.8 L1272.0,898.7 L1272.5,905.4 L1273.0,903.3 L1273.5,904.0 L1274.0,906.5 L1274.5,902.7 L1275.0,909.3 L1275.5,899.2 L1276.0,909.4 L1276.5,908.0 L1277.0,902.3 L1277.5,905.0 L1278.0,907.1 L1278.5,901.1 L1279.0,904.2 L1279.5,906.8 L1280.0,904.9 L1280.5,901.5 L1281.0,897.0 L1281.5,905.3 L1282.0,905.5 L1282.5,908.8 L1283.0,905.5 L1283.5,897.2 L1284.0,897.9 L1284.5,896.0 L1285.0,903.9 L1285.5,900.5 L1286.0,901.7 L1286.5,898.8 L1287.0,894.2 L1287.5,901.4 L1288.0,893.6 L1288.5,892.1 L1289.0,895.9 L1289.5,901.3 L1290.0,904.7 L1290.5,900.8 L1291.0,900.0 L1291.5,901.2 L1292.0,902.6 L1292.5,903.9 L1293.0,895.6 L1293.5,896.3 L1294.0,910.5 L1294.5,893.2 L1295.0,889.4 L1295.5,895.6 L1296.0,895.6 L1296.5,894.2 L1297.0,904.0 L1297.5,901.4 L1298.0,893.6 L1298.5,906.6 L1299.0,895.1 L1299.5,897.3 L1300.0,893.1 L1300.5,892.4 L1301.0,897.7 L1301.5,901.5 L1302.0,897.7 L1302.5,895.2 L1303.0,893.7 L1303.5,899.6 L1304.0,888.1 L1304.5,892.4 L1305.0,889.2 L1305.5,891.5 L1306.0,890.7 L1306.5,888.3 L1307.0,886.1 L1307.5,891.4 L1308.0,897.8 L1308.5,889.9 L1309.0,887.0 L1309.5,883.4 L1310.0,887.9 L1310.5,885.9 L1311.0,890.7 L1311.5,879.9 L1312.0,885.5 L1312.5,873.7 L1313.0,876.5 L1313.5,875.0 L1314.0,866.8 L1314.5,858.4 L1315.0,862.3 L1315.5,858.8 L1316.0,848.2 L1316.5,852.4 L1317.0,849.9 L1317.5,833.7 L1318.0,838.2 L1318.5,828.2 L1319.0,824.5 L1319.5,808.9 L1320.0,815.0 L1320.5,811.0 L1321.0,810.2 L1321.5,820.6 L1322.0,809.2 L1322.5,813.3 L1323.0,819.7 L1323.5,824.4 L1324.0,823.5 L1324.5,828.1 L1325.0,837.4 L1325.5,837.2 L1326.0,848.6 L1326.5,848.1 L1327.0,847.9 L1327.5,859.4 L1328.0,861.4 L1328.5,864.2 L1329.0,864.3 L1329.5,867.7 L1330.0,865.4 L1330.5,861.0 L1331.0,867.3 L1331.5,868.1 L1332.0,867.9 L1332.5,870.8 L1333.0,876.6 L1333.5,873.1 L1334.0,871.6 L1334.5,883.2 L1335.0,865.2 L1335.5,876.3 L1336.0,868.5 L1336.5,872.2 L1337.0,870.3 L1337.5,869.2 L1338.0,870.7 L1338.5,862.4 L1339.0,864.6 L1339.5,858.2 L1340.0,856.7 L1340.5,846.0 L1341.0,852.0 L1341.5,848.2 L1342.0,846.2 L1342.5,837.4 L1343.0,832.0 L1343.5,832.6 L1344.0,824.8 L1344.5,821.1 L1345.0,807.8 L1345.5,797.6 L1346.0,796.4 L1346.5,785.7 L1347.0,774.4 L1347.5,763.1 L1348.0,749.2 L1348.5,733.7 L1349.0,715.7 L1349.5,704.2 L1350.0,686.8 L1350.5,669.4 L1351.0,649.1 L1351.5,637.6 L1352.0,627.8 L1352.5,617.2 L1353.0,600.4 L1353.5,592.6 L1354.0,597.4 L1354.5,606.1 L1355.0,607.1 L1355.5,612.1 L1356.0,630.4 L1356.5,632.2 L1357.0,651.3 L1357.5,661.7 L1358.0,674.8 L1358.5,685.6 L1359.0,693.4 L1359.5,704.2 L1360.0,698.8 L1360.5,711.8 L1361.0,715.5 L1361.5,704.3 L1362.0,701.8 L1362.5,700.3 L1363.0,691.4 L1363.5,690.3 L1364.0,677.5 L1364.5,659.1 L1365.0,644.3 L1365.5,635.6 L1366.0,607.8 L1366.5,586.9 L1367.0,576.3 L1367.5,552.4 L1368.0,525.5 L1368.5,510.7 L1369.0,485.7 L1369.5,483.8 L1370.0,484.2 L1370.5,469.3 L1371.0,477.9 L1371.5,484.4 L1372.0,495.9 L1372.5,517.6 L1373.0,537.7 L1373.5,557.8 L1374.0,587.5 L1374.5,613.0 L1375.0,637.8 L1375.5,660.1 L1376.0,681.5 L1376.5,700.9 L1377.0,717.7 L1377.5,730.8 L1378.0,752.0 L1378.5,764.4 L1379.0,773.3 L1379.5,790.1 L1380.0,802.9 L1380.5,815.4 L1381.0,814.2 L1381.5,829.7 L1382.0,828.3 L1382.5,837.5 L1383.0,846.7 L1383.5,846.1 L1384.0,848.6 L1384.5,840.9 L1385.0,860.9 L1385.5,856.1 L1386.0,862.8 L1386.5,864.0 L1387.0,868.2 L1387.5,874.0 L1388.0,872.3 L1388.5,880.1 L1389.0,880.4 L1389.5,874.4 L1390.0,871.3 L1390.5,876.3 L1391.0,877.3 L1391.5,885.1 L1392.0,880.5 L1392.5,883.8 L1393.0,876.4 L1393.5,885.4 L1394.0,890.3 L1394.5,885.0 L1395.0,881.9 L1395.5,885.1 L1396.0,887.2 L1396.5,887.4 L1397.0,887.7 L1397.5,889.2 L1398.0,885.2 L1398.5,887.8 L1399.0,887.7 L1399.5,888.0 L1400.0,882.5 L1400.5,890.1 L1401.0,891.4 L1401.5,884.9 L1402.0,896.1 L1402.5,876.3 L1403.0,889.3 L1403.5,891.5 L1404.0,889.5 L1404.5,892.7 L1405.0,892.7 L1405.5,879.3 L1406.0,887.0 L1406.5,889.8 L1407.0,887.4 L1407.5,887.2 L1408.0,883.3 L1408.5,879.7 L1409.0,874.2 L1409.5,883.9 L1410.0,876.2 L1410.5,873.5 L1411.0,871.4 L1411.5,867.5 L1412.0,865.9 L1412.5,867.8 L1413.0,863.2 L1413.5,846.4 L1414.0,859.3 L1414.5,858.0 L1415.0,860.5 L1415.5,861.5 L1416.0,869.7 L1416.5,861.9 L1417.0,871.8 L1417.5,874.3 L1418.0,872.8 L1418.5,871.9 L1419.0,880.4 L1419.5,876.9 L1420.0,890.1 L1420.5,889.9 L1421.0,880.0 L1421.5,891.4 L1422.0,890.8 L1422.5,890.6 L1423.0,891.6 L1423.5,902.2 L1424.0,893.5 L1424.5,894.9 L1425.0,902.8 L1425.5,898.9 L1426.0,893.3 L1426.5,911.5 L1427.0,902.3 L1427.5,897.8 L1428.0,912.4 L1428.5,903.9 L1429.0,903.6 L1429.5,901.4 L1430.0,906.0 L1430.5,904.9 L1431.0,904.4 L1431.5,908.7 L1432.0,903.4 L1432.5,900.6 L1433.0,899.6 L1433.5,907.2 L1434.0,905.7 L1434.5,902.5 L1435.0,908.6 L1435.5,907.0 L1436.0,901.9 L1436.5,898.8 L1437.0,902.2 L1437.5,899.8 L1438.0,903.6 L1438.5,905.3 L1439.0,906.0 L1439.5,895.2 L1440.0,901.6 L1440.5,905.0 L1441.0,905.3 L1441.5,904.0 L1442.0,901.3 L1442.5,903.0 L1443.0,906.6 L1443.5,901.2 L1444.0,899.4 L1444.5,904.3 L1445.0,904.6 L1445.5,896.9 L1446.0,898.4 L1446.5,895.1 L1447.0,899.7 L1447.5,901.3 L1448.0,898.5 L1448.5,895.3 L1449.0,894.7 L1449.5,898.2 L1450.0,901.1 L1450.5,897.9 L1451.0,896.9 L1451.5,901.5 L1452.0,894.7 L1452.5,893.9 L1453.0,890.7 L1453.5,899.1 L1454.0,897.2 L1454.5,892.4 L1455.0,892.9 L1455.5,887.0 L1456.0,887.7 L1456.5,890.4 L1457.0,891.6 L1457.5,878.9 L1458.0,893.2 L1458.5,889.7 L1459.0,881.6 L1459.5,886.3 L1460.0,882.7 L1460.5,881.1 L1461.0,880.8 L1461.5,879.9 L1462.0,881.7 L1462.5,881.3 L1463.0,883.6 L1463.5,878.3 L1464.0,875.1 L1464.5,878.0 L1465.0,878.6 L1465.5,876.3 L1466.0,880.0 L1466.5,873.2 L1467.0,868.6 L1467.5,884.0 L1468.0,874.8 L1468.5,871.5 L1469.0,871.2 L1469.5,866.2 L1470.0,869.0 L1470.5,869.9 L1471.0,868.0 L1471.5,862.8 L1472.0,868.0 L1472.5,863.8 L1473.0,868.1 L1473.5,867.1 L1474.0,868.7 L1474.5,862.5 L1475.0,866.4 L1475.5,867.0 L1476.0,866.2 L1476.5,869.8 L1477.0,861.5 L1477.5,868.6 L1478.0,869.5 L1478.5,865.9 L1479.0,862.1 L1479.5,865.9 L1480.0,866.7 L1480.5,867.4 L1481.0,871.4 L1481.5,870.0 L1482.0,862.4 L1482.5,872.4 L1483.0,862.4 L1483.5,867.0 L1484.0,863.7 L1484.5,872.6 L1485.0,869.8 L1485.5,876.6 L1486.0,870.5 L1486.5,874.6 L1487.0,880.7 L1487.5,874.6 L1488.0,881.3 L1488.5,878.7 L1489.0,878.8 L1489.5,874.1 L1490.0,880.3 L1490.5,888.0 L1491.0,882.0 L1491.5,884.9 L1492.0,889.5 L1492.5,882.6 L1493.0,886.3 L1493.5,887.4 L1494.0,885.6 L1494.5,891.0 L1495.0,894.8 L1495.5,892.9 L1496.0,891.5 L1496.5,893.3 L1497.0,887.1 L1497.5,896.0 L1498.0,891.4 L1498.5,900.0 L1499.0,893.8 L1499.5,901.5 L1500.0,896.3 L1500.5,897.2 L1501.0,893.5 L1501.5,901.8 L1502.0,902.3 L1502.5,905.6 L1503.0,899.0 L1503.5,896.5 L1504.0,906.6 L1504.5,893.7 L1505.0,900.1 L1505.5,908.2 L1506.0,904.7 L1506.5,900.5 L1507.0,905.1 L1507.5,911.7 L1508.0,906.4 L1508.5,905.9 L1509.0,912.1 L1509.5,905.8 L1510.0,909.1 L1510.5,913.8 L1511.0,902.8 L1511.5,906.6 L1512.0,912.6 L1512.5,909.7 L1513.0,917.2 L1513.5,910.1 L1514.0,911.1 L1514.5,905.5 L1515.0,907.0 L1515.5,917.1 L1516.0,908.7 L1516.5,912.5 L1517.0,910.6 L1517.5,921.0 L1518.0,905.7 L1518.5,914.3 L1519.0,912.2 L1519.5,908.3 L1520.0,911.2 L1520.5,914.9 L1521.0,923.6 L1521.5,917.9 L1522.0,915.2 L1522.5,913.7 L1523.0,907.5 L1523.5,907.6 L1524.0,915.1 L1524.5,907.2 L1525.0,917.6 L1525.5,915.3 L1526.0,918.8 L1526.5,914.6 L1527.0,909.9 L1527.5,918.0 L1528.0,909.4 L1528.5,913.5 L1529.0,912.6 L1529.5,910.1 L1530.0,912.7 L1530.5,913.5 L1531.0,909.9 L1531.5,919.0 L1532.0,911.2 L1532.5,911.5 L1533.0,915.0 L1533.5,911.7 L1534.0,912.6 L1534.5,913.5 L1535.0,906.0 L1535.5,919.8 L1536.0,908.6 L1536.5,905.8 L1537.0,913.8 L1537.5,913.9 L1538.0,913.0 L1538.5,908.8 L1539.0,908.5 L1539.5,912.2 L1540.0,911.6 L1540.5,915.8 L1541.0,911.6 L1541.5,913.9 L1542.0,911.4 L1542.5,904.6 L1543.0,908.0 L1543.5,917.2 L1544.0,912.4 L1544.5,916.2 L1545.0,911.3 L1545.5,911.1 L1546.0,909.2 L1546.5,915.5 L1547.0,917.2 L1547.5,907.6 L1548.0,912.1 L1548.5,908.1 L1549.0,911.4 L1549.5,905.0 L1550.0,905.3 L1550.5,912.8 L1551.0,911.5 L1551.5,910.3 L1552.0,916.3 L1552.5,907.7 L1553.0,909.9 L1553.5,915.4 L1554.0,910.5 L1554.5,908.3 L1555.0,914.2 L1555.5,909.8 L1556.0,908.9 L1556.5,905.5 L1557.0,904.3 L1557.5,903.7 L1558.0,906.2 L1558.5,908.8 L1559.0,911.3 L1559.5,904.3 L1560.0,910.7 L1560.5,915.2 L1561.0,915.4 L1561.5,907.7 L1562.0,920.3 L1562.5,912.8 L1563.0,914.0 L1563.5,916.5 L1564.0,905.8 L1564.5,908.1 L1565.0,909.8 L1565.5,911.0 L1566.0,905.3 L1566.5,913.0 L1567.0,907.2 L1567.5,910.7 L1568.0,912.0 L1568.5,906.8 L1569.0,914.8 L1569.5,905.9 L1570.0,900.8 L1570.5,913.3 L1571.0,908.5 L1571.5,902.4 L1572.0,907.3 L1572.5,909.8 L1573.0,907.8 L1573.5,910.9 L1574.0,904.5 L1574.5,908.0 L1575.0,906.0 L1575.5,906.2 L1576.0,908.7 L1576.5,911.4 L1577.0,906.2 L1577.5,905.3 L1578.0,909.4 L1578.5,907.3 L1579.0,897.3 L1579.5,905.2 L1580.0,903.4 L1580.5,901.2 L1581.0,902.3 L1581.5,901.6 L1582.0,911.4 L1582.5,901.2 L1583.0,901.3 L1583.5,894.7 L1584.0,900.6 L1584.5,903.8 L1585.0,897.5 L1585.5,901.0 L1586.0,899.0 L1586.5,896.5 L1587.0,906.3 L1587.5,890.6 L1588.0,893.0 L1588.5,884.7 L1589.0,891.0 L1589.5,882.2 L1590.0,879.7 L1590.5,881.6 L1591.0,872.7 L1591.5,875.0 L1592.0,860.5 L1592.5,866.8 L1593.0,856.6 L1593.5,847.6 L1594.0,856.2 L1594.5,855.8 L1595.0,848.5 L1595.5,852.3 L1596.0,849.0 L1596.5,843.5 L1597.0,854.9 L1597.5,850.8 L1598.0,859.0 L1598.5,859.9 L1599.0,859.3 L1599.5,864.8 L1600.0,875.9 L1600.5,875.7 L1601.0,871.8 L1601.5,888.0 L1602.0,883.5 L1602.5,879.4 L1603.0,888.6 L1603.5,885.4 L1604.0,896.9 L1604.5,894.7 L1605.0,890.2 L1605.5,900.7 L1606.0,900.3 L1606.5,898.5 L1607.0,892.0 L1607.5,892.6 L1608.0,905.6 L1608.5,889.1 L1609.0,896.8 L1609.5,895.9 L1610.0,889.7 L1610.5,888.2 L1611.0,886.8 L1611.5,896.7 L1612.0,888.1 L1612.5,894.7 L1613.0,892.6 L1613.5,889.5 L1614.0,886.9 L1614.5,885.2 L1615.0,886.9 L1615.5,882.5 L1616.0,878.2 L1616.5,880.7 L1617.0,887.3 L1617.5,883.9 L1618.0,874.4 L1618.5,867.8 L1619.0,867.2 L1619.5,865.8 L1620.0,867.2 L1620.5,862.9 L1621.0,863.7 L1621.5,862.8 L1622.0,851.5 L1622.5,852.0 L1623.0,845.2 L1623.5,836.1 L1624.0,833.0 L1624.5,827.2 L1625.0,819.6 L1625.5,827.7 L1626.0,826.1 L1626.5,823.3 L1627.0,819.7 L1627.5,822.2 L1628.0,824.6 L1628.5,826.0 L1629.0,826.5 L1629.5,830.7 L1630.0,833.9 L1630.5,840.5 L1631.0,843.9 L1631.5,837.8 L1632.0,854.8 L1632.5,848.7 L1633.0,845.7 L1633.5,843.8 L1634.0,852.7 L1634.5,856.1 L1635.0,849.4 L1635.5,852.2 L1636.0,861.2 L1636.5,859.0 L1637.0,858.4 L1637.5,858.3 L1638.0,864.1 L1638.5,854.0 L1639.0,857.0 L1639.5,853.3 L1640.0,850.4 L1640.5,848.0 L1641.0,851.0 L1641.5,849.5 L1642.0,849.2 L1642.5,852.9 L1643.0,847.5 L1643.5,844.9 L1644.0,845.4 L1644.5,843.6 L1645.0,843.7 L1645.5,848.4 L1646.0,840.9 L1646.5,842.3 L1647.0,840.4 L1647.5,838.4 L1648.0,842.1 L1648.5,842.5 L1649.0,841.2 L1649.5,845.0 L1650.0,843.2 L1650.5,847.6 L1651.0,842.7 L1651.5,849.0 L1652.0,849.3 L1652.5,847.6 L1653.0,847.5 L1653.5,847.9 L1654.0,847.9 L1654.5,850.8 L1655.0,852.0 L1655.5,853.5 L1656.0,863.5 L1656.5,855.7 L1657.0,853.2 L1657.5,863.0 L1658.0,861.9 L1658.5,856.0 L1659.0,861.8 L1659.5,860.4 L1660.0,863.0 L1660.5,857.9 L1661.0,860.4 L1661.5,859.0 L1662.0,857.5 L1662.5,859.8 L1663.0,865.3 L1663.5,859.3 L1664.0,858.4 L1664.5,858.9 L1665.0,864.3 L1665.5,871.2 L1666.0,857.9 L1666.5,858.4 L1667.0,862.1 L1667.5,866.9 L1668.0,869.8 L1668.5,868.8 L1669.0,864.5 L1669.5,866.9 L1670.0,869.7 L1670.5,864.0 L1671.0,853.5 L1671.5,872.6 L1672.0,871.2 L1672.5,868.9 L1673.0,872.3 L1673.5,870.6 L1674.0,865.5 L1674.5,863.5 L1675.0,867.7 L1675.5,865.3 L1676.0,867.9 L1676.5,873.4 L1677.0,865.8 L1677.5,871.3 L1678.0,880.4 L1678.5,873.6 L1679.0,868.9 L1679.5,876.2 L1680.0,875.2 L1680.5,881.2 L1681.0,876.1 L1681.5,884.9 L1682.0,884.4 L1682.5,888.2 L1683.0,883.6 L1683.5,888.8 L1684.0,875.5 L1684.5,879.3 L1685.0,886.1 L1685.5,885.6 L1686.0,884.5 L1686.5,888.8 L1687.0,889.6 L1687.5,891.3 L1688.0,883.1 L1688.5,893.6 L1689.0,893.3 L1689.5,890.4 L1690.0,889.4 L1690.5,895.4 L1691.0,893.1 L1691.5,893.4 L1692.0,898.3 L1692.5,901.8 L1693.0,895.8 L1693.5,894.6 L1694.0,897.5 L1694.5,896.2 L1695.0,892.9 L1695.5,901.8 L1696.0,900.9 L1696.5,896.2 L1697.0,899.3 L1697.5,900.5 L1698.0,898.2 L1698.5,906.4 L1699.0,904.5 L1699.5,899.1 L1700.0,897.4 L1700.5,911.8 L1701.0,895.6 L1701.5,908.0 L1702.0,906.3 L1702.5,907.0 L1703.0,900.3 L1703.5,903.5 L1704.0,903.0 L1704.5,910.9 L1705.0,905.2 L1705.5,898.3 L1706.0,906.0 L1706.5,907.9 L1707.0,908.3 L1707.5,902.9 L1708.0,904.4 L1708.5,901.2 L1709.0,903.5 L1709.5,905.9 L1710.0,906.4 L1710.5,897.4 L1711.0,904.4 L1711.5,905.7 L1712.0,905.1 L1712.5,893.4 L1713.0,902.4 L1713.5,907.9 L1714.0,910.4 L1714.5,904.1 L1715.0,904.5 L1715.5,899.3 L1716.0,902.7 L1716.5,903.9 L1717.0,912.3 L1717.5,895.2 L1718.0,909.4 L1718.5,909.2 L1719.0,909.7 L1719.5,901.1 L1720.0,905.7 L1720.5,904.6 L1721.0,907.2 L1721.5,903.9 L1722.0,902.9 L1722.5,903.0 L1723.0,901.4 L1723.5,910.9 L1724.0,902.3 L1724.5,903.0 L1725.0,910.2 L1725.5,905.4 L1726.0,905.8 L1726.5,910.4 L1727.0,906.7 L1727.5,909.0 L1728.0,906.6 L1728.5,898.4 L1729.0,904.2 L1729.5,908.5 L1730.0,905.7 L1730.5,911.8 L1731.0,905.7 L1731.5,906.6 L1732.0,905.6 L1732.5,906.4 L1733.0,915.8 L1733.5,905.3 L1734.0,901.2 L1734.5,904.9 L1735.0,901.5 L1735.5,908.3 L1736.0,908.6 L1736.5,907.2 L1737.0,906.1 L1737.5,907.1 L1738.0,900.6 L1738.5,898.1 L1739.0,907.0 L1739.5,916.1 L1740.0,909.3 L1740.5,910.6 L1741.0,906.6 L1741.5,909.7 L1742.0,914.3 L1742.5,906.4 L1743.0,911.4 L1743.5,910.8 L1744.0,914.1 L1744.5,909.8 L1745.0,911.3 L1745.5,910.5 L1746.0,918.1 L1746.5,916.4 L1747.0,911.9 L1747.5,914.9 L1748.0,908.8 L1748.5,912.3 L1749.0,912.6 L1749.5,913.4 L1750.0,918.7 L1750.5,911.9 L1751.0,911.5 L1751.5,915.5 L1752.0,914.9 L1752.5,919.4 L1753.0,926.6 L1753.5,917.2 L1754.0,913.5 L1754.5,913.0 L1755.0,920.0 L1755.5,910.8 L1756.0,913.5 L1756.5,916.3 L1757.0,916.4 L1757.5,913.1 L1758.0,921.7 L1758.5,920.4 L1759.0,921.1 L1759.5,914.3 L1760.0,912.4 L1760.5,918.0 L1761.0,915.3 L1761.5,915.3 L1762.0,915.2 L1762.5,920.9 L1763.0,913.9 L1763.5,928.8 L1764.0,908.1 L1764.5,915.3 L1765.0,916.2 L1765.5,914.5 L1766.0,916.9 L1766.5,915.9 L1767.0,911.4 L1767.5,918.6 L1768.0,925.5 L1768.5,912.3 L1769.0,914.8 L1769.5,913.4 L1770.0,918.3 L1770.5,912.8 L1771.0,918.3 L1771.5,918.9 L1772.0,920.4 L1772.5,923.0 L1773.0,915.6 L1773.5,915.1 L1774.0,921.2 L1774.5,923.0 L1775.0,917.9 L1775.5,911.9 L1776.0,923.0 L1776.5,923.0 L1777.0,910.9 L1777.5,922.3 L1778.0,918.4 L1778.5,912.9 L1779.0,924.8 L1779.5,922.2 L1780.0,928.9 L1780.5,921.6 L1781.0,919.9 L1781.5,924.4 L1782.0,928.3 L1782.5,923.9 L1783.0,919.6 L1783.5,920.8 L1784.0,919.0 L1784.5,915.5 L1785.0,917.9 L1785.5,920.2 L1786.0,917.4 L1786.5,922.1 L1787.0,916.2 L1787.5,920.1 L1788.0,913.6 L1788.5,911.5 L1789.0,922.0 L1789.5,918.9 L1790.0,924.8 L1790.5,920.8 L1791.0,928.0 L1791.5,919.6 L1792.0,922.6 L1792.5,916.2 L1793.0,918.2 L1793.5,917.3 L1794.0,926.2 L1794.5,921.3 L1795.0,913.2 L1795.5,910.8 L1796.0,926.9 L1796.5,919.6 L1797.0,917.4 L1797.5,915.0 L1798.0,916.4 L1798.5,913.4 L1799.0,914.9 L1799.5,911.4 L1800.0,915.7 L1800.5,914.1 L1801.0,920.2 L1801.5,917.3 L1802.0,909.2 L1802.5,913.8 L1803.0,920.0 L1803.5,915.5 L1804.0,913.8 L1804.5,918.6 L1805.0,917.3 L1805.5,911.8 L1806.0,918.0 L1806.5,915.8 L1807.0,910.9 L1807.5,913.3 L1808.0,916.6 L1808.5,912.3 L1809.0,915.1 L1809.5,917.2 L1810.0,914.0 L1810.5,911.6 L1811.0,912.0 L1811.5,913.5 L1812.0,909.7 L1812.5,922.3 L1813.0,913.9 L1813.5,915.5 L1814.0,915.4 L1814.5,919.9 L1815.0,908.2 L1815.5,917.6 L1816.0,914.0 L1816.5,912.8 L1817.0,908.0 L1817.5,917.7 L1818.0,917.7 L1818.5,916.1 L1819.0,913.7 L1819.5,909.9 L1820.0,912.2 L1820.5,918.4 L1821.0,915.4 L1821.5,919.2 L1822.0,915.8 L1822.5,918.8 L1823.0,920.1 L1823.5,919.7 L1824.0,910.4 L1824.5,917.7 L1825.0,914.9 L1825.5,921.9 L1826.0,916.1 L1826.5,919.7 L1827.0,912.8 L1827.5,917.2 L1828.0,913.2 L1828.5,912.2 L1829.0,916.0 L1829.5,915.2 L1830.0,917.1 L1830.5,908.1 L1831.0,897.9 L1831.5,921.1 L1832.0,912.1 L1832.5,914.3 L1833.0,917.3 L1833.5,918.7 L1834.0,919.1 L1834.5,911.0 L1835.0,906.1 L1835.5,915.5 L1836.0,912.4 L1836.5,914.3 L1837.0,917.0 L1837.5,917.6 L1838.0,913.3 L1838.5,918.0 L1839.0,908.5 L1839.5,913.7 L1840.0,905.9 L1840.5,920.6 L1841.0,916.3 L1841.5,911.7 L1842.0,912.4 L1842.5,913.2 L1843.0,913.6 L1843.5,907.2 L1844.0,911.0 L1844.5,916.8 L1845.0,915.8 L1845.5,910.3 L1846.0,915.5 L1846.5,918.7 L1847.0,909.7 L1847.5,906.7 L1848.0,906.9 L1848.5,917.7 L1849.0,913.3 L1849.5,911.9 L1850.0,909.5 L1850.5,918.4 L1851.0,913.5 L1851.5,916.0 L1852.0,912.9 L1852.5,907.1 L1853.0,918.7 L1853.5,911.5 L1854.0,916.4 L1854.5,914.9 L1855.0,911.2 L1855.5,918.6 L1856.0,917.3 L1856.5,915.7 L1857.0,919.7 L1857.5,911.9 L1858.0,916.0 L1858.5,911.9 L1859.0,912.3 L1859.5,916.2 L1860.0,906.8 L1860.5,914.9 L1861.0,908.8 L1861.5,916.0 L1862.0,906.3 L1862.5,910.4 L1863.0,917.0 L1863.5,913.1 L1864.0,915.5 L1864.5,910.7 L1865.0,918.4 L1865.5,912.4 L1866.0,917.6 L1866.5,909.8 L1867.0,908.6 L1867.5,915.0 L1868.0,909.0 L1868.5,912.8 L1869.0,919.1 L1869.5,910.4 L1870.0,907.6 L1870.5,914.6 L1871.0,907.0 L1871.5,910.7 L1872.0,909.2 L1872.5,910.1 L1873.0,909.0 L1873.5,900.4 L1874.0,912.1 L1874.5,914.5 L1875.0,914.3 L1875.5,911.3 L1876.0,912.0 L1876.5,904.5 L1877.0,905.6 L1877.5,915.5 L1878.0,907.0 L1878.5,903.1 L1879.0,908.0 L1879.5,906.4 L1880.0,909.5 L1880.5,910.2 L1881.0,902.5 L1881.5,908.0 L1882.0,910.8 L1882.5,908.3 L1883.0,895.3 L1883.5,909.4 L1884.0,906.3 L1884.5,899.4 L1885.0,898.6 L1885.5,904.8 L1886.0,897.2 L1886.5,897.0 L1887.0,901.9 L1887.5,898.8 L1888.0,894.2 L1888.5,895.8 L1889.0,891.6 L1889.5,896.8 L1890.0,890.0 L1890.5,897.0 L1891.0,892.9 L1891.5,888.6 L1892.0,883.9 L1892.5,880.5 L1893.0,874.6 L1893.5,880.3 L1894.0,882.4 L1894.5,869.5 L1895.0,868.4 L1895.5,853.8 L1896.0,865.1 L1896.5,862.0 L1897.0,875.2 L1897.5,862.8 L1898.0,869.4 L1898.5,874.7 L1899.0,875.4 L1899.5,870.5 L1900.0,878.9 L1900.5,882.1 L1901.0,882.8 L1901.5,884.7 L1902.0,878.2 L1902.5,890.0 L1903.0,888.0 L1903.5,895.7 L1904.0,889.3 L1904.5,890.0 L1905.0,898.0 L1905.5,897.7 L1906.0,894.1 L1906.5,898.7 L1907.0,898.9 L1907.5,902.5 L1908.0,903.1 L1908.5,897.8 L1909.0,906.6 L1909.5,908.9 L1910.0,897.7 L1910.5,902.8 L1911.0,909.7 L1911.5,899.9 L1912.0,901.4 L1912.5,900.1 L1913.0,911.9 L1913.5,909.6 L1914.0,902.0 L1914.5,909.6 L1915.0,910.1 L1915.5,910.3 L1916.0,910.9 L1916.5,911.3 L1917.0,905.7 L1917.5,911.9 L1918.0,905.1 L1918.5,916.2 L1919.0,905.1 L1919.5,909.4 L1920.0,914.4 L1920.5,906.7 L1921.0,908.2 L1921.5,908.0 L1922.0,906.6 L1922.5,910.4 L1923.0,912.7 L1923.5,904.5 L1924.0,912.8 L1924.5,902.7 L1925.0,905.3 L1925.5,898.0 L1926.0,899.2 L1926.5,908.6 L1927.0,900.7 L1927.5,902.3 L1928.0,897.1 L1928.5,907.9 L1929.0,900.7 L1929.5,899.5 L1930.0,911.0 L1930.5,903.7 L1931.0,903.3 L1931.5,898.0 L1932.0,909.2 L1932.5,899.8 L1933.0,903.6 L1933.5,902.4 L1934.0,894.6 L1934.5,898.5 L1935.0,900.0 L1935.5,900.9 L1936.0,899.1 L1936.5,905.5 L1937.0,897.7 L1937.5,899.4 L1938.0,889.8 L1938.5,895.7 L1939.0,896.1 L1939.5,898.3 L1940.0,894.5 L1940.5,895.8 L1941.0,884.0 L1941.5,890.7 L1942.0,887.5 L1942.5,896.3 L1943.0,901.5 L1943.5,900.0 L1944.0,895.4 L1944.5,904.3 L1945.0,899.8 L1945.5,901.7 L1946.0,899.3 L1946.5,902.5 L1947.0,899.1 L1947.5,903.6 L1948.0,904.1 L1948.5,899.7 L1949.0,908.1 L1949.5,905.2 L1950.0,899.9 L1950.5,896.3 L1951.0,903.2 L1951.5,908.5 L1952.0,903.2 L1952.5,910.1 L1953.0,907.2 L1953.5,906.3 L1954.0,908.5 L1954.5,908.6 L1955.0,906.6 L1955.5,908.1 L1956.0,909.2 L1956.5,907.0 L1957.0,916.9 L1957.5,911.0 L1958.0,912.3 L1958.5,912.5 L1959.0,911.9 L1959.5,907.9 L1960.0,904.0 L1960.5,906.5 L1961.0,915.4 L1961.5,910.7 L1962.0,902.9 L1962.5,908.7 L1963.0,911.1 L1963.5,905.5 L1964.0,907.5 L1964.5,908.6 L1965.0,916.4 L1965.5,909.1 L1966.0,908.7 L1966.5,903.3 L1967.0,913.3 L1967.5,913.1 L1968.0,910.5 L1968.5,908.8 L1969.0,911.7 L1969.5,909.6 L1970.0,910.9 L1970.5,913.5 L1971.0,909.4 L1971.5,907.8 L1972.0,911.1 L1972.5,905.4 L1973.0,905.3 L1973.5,914.6 L1974.0,903.6 L1974.5,903.0 L1975.0,906.4 L1975.5,908.2 L1976.0,907.1 L1976.5,912.7 L1977.0,909.2 L1977.5,899.9 L1978.0,905.4 L1978.5,910.5 L1979.0,899.5 L1979.5,913.0 L1980.0,912.6 L1980.5,909.4 L1981.0,910.1 L1981.5,903.1 L1982.0,910.9 L1982.5,912.2 L1983.0,904.9 L1983.5,911.8 L1984.0,915.7 L1984.5,918.1 L1985.0,913.1 L1985.5,911.3 L1986.0,912.0 L1986.5,908.1 L1987.0,911.5 L1987.5,913.1 L1988.0,917.6 L1988.5,909.1 L1989.0,912.2 L1989.5,909.0 L1990.0,916.8 L1990.5,906.8 L1991.0,911.7 L1991.5,912.7 L1992.0,914.7 L1992.5,909.0 L1993.0,908.1 L1993.5,911.5 L1994.0,911.0 L1994.5,910.9 L1995.0,915.7 L1995.5,909.4 L1996.0,916.4 L1996.5,913.7 L1997.0,917.6 L1997.5,914.7 L1998.0,915.5 L1998.5,913.3 L1999.0,913.3 L1999.5,906.0 L2000.0,918.7 L2000.5,919.5 L2001.0,911.6 L2001.5,917.1 L2002.0,912.1 L2002.5,916.8 L2003.0,909.9 L2003.5,913.6 L2004.0,915.6 L2004.5,912.5 L2005.0,917.1 L2005.5,909.9 L2006.0,911.7 L2006.5,918.4 L2007.0,910.6 L2007.5,912.5 L2008.0,907.4 L2008.5,910.8 L2009.0,912.8 L2009.5,920.4 L2010.0,913.2 L2010.5,917.7 L2011.0,915.5 L2011.5,913.1 L2012.0,911.8 L2012.5,920.9 L2013.0,913.2 L2013.5,911.9 L2014.0,908.2 L2014.5,914.8 L2015.0,915.2 L2015.5,916.2 L2016.0,910.6 L2016.5,909.6 L2017.0,908.3 L2017.5,913.1 L2018.0,912.2 L2018.5,913.3 L2019.0,917.5 L2019.5,912.6 L2020.0,917.9 L2020.5,906.7 L2021.0,919.3 L2021.5,915.2 L2022.0,913.4 L2022.5,915.2 L2023.0,914.7 L2023.5,918.1 L2024.0,915.1 L2024.5,922.7 L2025.0,909.4 L2025.5,913.8 L2026.0,915.1 L2026.5,918.5 L2027.0,909.3 L2027.5,913.7 L2028.0,923.5 L2028.5,916.1 L2029.0,922.7 L2029.5,911.5 L2030.0,916.4 L2030.5,917.7 L2031.0,913.6 L2031.5,914.4 L2032.0,913.1"/>
</g>
<g fill="#000" shape-rendering="crispEdges">
<rect x="187" y="41" width="6" height="1384"/>
<rect x="2030" y="41" width="5" height="1393"/>
<rect x="187" y="41" width="1848" height="6"/>
<rect x="187" y="1420" width="1848" height="5"/>
<rect x="310.0" y="1423" width="5" height="23"/><rect x="801.3" y="1423" width="5" height="23"/><rect x="1292.7" y="1423" width="5" height="23"/><rect x="1784.0" y="1423" width="5" height="23"/><rect x="555.7" y="1423" width="5" height="11"/><rect x="1047.0" y="1423" width="5" height="11"/><rect x="1538.3" y="1423" width="5" height="11"/><rect x="2029.7" y="1423" width="5" height="11"/>
</g>
<g fill="#000"><text transform="translate(312.5,1510.5) scale(1,1.075)" text-anchor="middle" font-size="62">20</text><text transform="translate(803.8,1510.5) scale(1,1.075)" text-anchor="middle" font-size="62">40</text><text transform="translate(1295.2,1510.5) scale(1,1.075)" text-anchor="middle" font-size="62">60</text><text transform="translate(1786.5,1510.5) scale(1,1.075)" text-anchor="middle" font-size="62">80</text></g>
<text x="843" y="1598" font-size="90" font-weight="bold">2</text>
<text transform="translate(894,1598.5) scale(1.1,1)" font-size="85" stroke="#000" stroke-width="2" style="font-family:'Liberation Serif',serif">θ</text>
<text transform="translate(940,1635) scale(0.98,1.08)" font-size="53" font-weight="bold">Co</text>
<text x="1034" y="1598" font-size="90" font-weight="bold">(deg)</text>
<text transform="translate(111,1057) rotate(-90)" font-size="93.5" font-weight="bold">Intensity (a. u.)</text>
<text x="1759.5" y="857" font-size="90" font-weight="bold" fill="#00f">c</text>
<text x="1760.5" y="1106" font-size="90" font-weight="bold" fill="#f00">b</text>
<text x="1763" y="1282" font-size="90" font-weight="bold" fill="#000">a</text>

</svg>
</body></html>
